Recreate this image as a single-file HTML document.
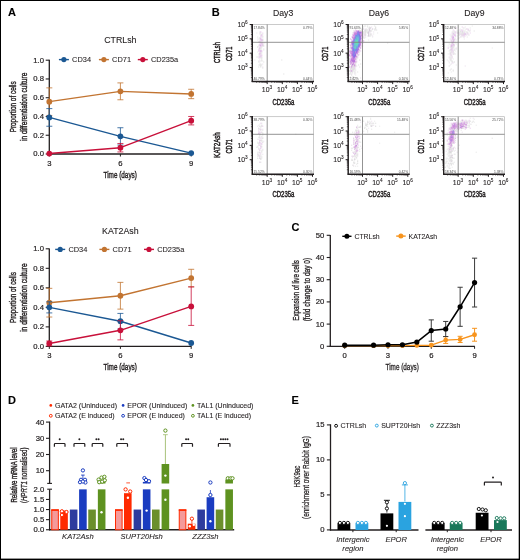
<!DOCTYPE html>
<html><head><meta charset="utf-8"><style>
html,body{margin:0;padding:0;background:#fff;}
body{width:520px;height:560px;overflow:hidden;}
svg{display:block;font-family:"Liberation Sans", sans-serif;will-change:transform;}
</style></head><body>
<svg width="520" height="560" viewBox="0 0 520 560" font-family="Liberation Sans, sans-serif">
<defs><filter id="soft" x="-5%" y="-5%" width="110%" height="110%"><feGaussianBlur stdDeviation="0.35"/></filter></defs>
<rect width="520" height="560" fill="#fff"/>
<rect x="0.00" y="0.00" width="520.00" height="1.00" fill="#000"/>
<rect x="0.00" y="0.00" width="1.00" height="560.00" fill="#000"/>
<rect x="518.70" y="0.00" width="1.30" height="560.00" fill="#000"/>
<rect x="0.00" y="558.60" width="520.00" height="1.40" fill="#000"/>
<text transform="translate(8.00,15.80)" font-size="11" text-anchor="start" fill="#000" font-weight="bold" stroke="#000" stroke-width="0.1">A</text>
<text transform="translate(211.80,15.90)" font-size="11" text-anchor="start" fill="#000" font-weight="bold" stroke="#000" stroke-width="0.1">B</text>
<text transform="translate(291.60,230.70)" font-size="11" text-anchor="start" fill="#000" font-weight="bold" stroke="#000" stroke-width="0.1">C</text>
<text transform="translate(7.90,403.70)" font-size="11" text-anchor="start" fill="#000" font-weight="bold" stroke="#000" stroke-width="0.1">D</text>
<text transform="translate(291.40,403.60)" font-size="11" text-anchor="start" fill="#000" font-weight="bold" stroke="#000" stroke-width="0.1">E</text>
<text transform="translate(120.30,43.00)" font-size="8.8" text-anchor="middle" fill="#231f20" stroke="#231f20" stroke-width="0.1">CTRLsh</text>
<line x1="49.30" y1="59.80" x2="49.30" y2="154.60" stroke="#231f20" stroke-width="1.3"/>
<line x1="48.70" y1="154.00" x2="191.50" y2="154.00" stroke="#231f20" stroke-width="1.3"/>
<line x1="45.70" y1="154.00" x2="49.30" y2="154.00" stroke="#231f20" stroke-width="1.1"/>
<text transform="translate(44.00,156.40)" font-size="7.7" text-anchor="end" fill="#231f20" stroke="#231f20" stroke-width="0.2">0.0</text>
<line x1="45.70" y1="135.24" x2="49.30" y2="135.24" stroke="#231f20" stroke-width="1.1"/>
<text transform="translate(44.00,137.64)" font-size="7.7" text-anchor="end" fill="#231f20" stroke="#231f20" stroke-width="0.2">0.2</text>
<line x1="45.70" y1="116.48" x2="49.30" y2="116.48" stroke="#231f20" stroke-width="1.1"/>
<text transform="translate(44.00,118.88)" font-size="7.7" text-anchor="end" fill="#231f20" stroke="#231f20" stroke-width="0.2">0.4</text>
<line x1="45.70" y1="97.72" x2="49.30" y2="97.72" stroke="#231f20" stroke-width="1.1"/>
<text transform="translate(44.00,100.12)" font-size="7.7" text-anchor="end" fill="#231f20" stroke="#231f20" stroke-width="0.2">0.6</text>
<line x1="45.70" y1="78.96" x2="49.30" y2="78.96" stroke="#231f20" stroke-width="1.1"/>
<text transform="translate(44.00,81.36)" font-size="7.7" text-anchor="end" fill="#231f20" stroke="#231f20" stroke-width="0.2">0.8</text>
<line x1="45.70" y1="60.20" x2="49.30" y2="60.20" stroke="#231f20" stroke-width="1.1"/>
<text transform="translate(44.00,62.60)" font-size="7.7" text-anchor="end" fill="#231f20" stroke="#231f20" stroke-width="0.2">1.0</text>
<line x1="49.30" y1="154.00" x2="49.30" y2="156.50" stroke="#231f20" stroke-width="1.0"/>
<text transform="translate(49.30,165.90)" font-size="7.7" text-anchor="middle" fill="#231f20" stroke="#231f20" stroke-width="0.2">3</text>
<line x1="120.40" y1="154.00" x2="120.40" y2="156.50" stroke="#231f20" stroke-width="1.0"/>
<text transform="translate(120.40,165.90)" font-size="7.7" text-anchor="middle" fill="#231f20" stroke="#231f20" stroke-width="0.2">6</text>
<line x1="191.20" y1="154.00" x2="191.20" y2="156.50" stroke="#231f20" stroke-width="1.0"/>
<text transform="translate(191.20,165.90)" font-size="7.7" text-anchor="middle" fill="#231f20" stroke="#231f20" stroke-width="0.2">9</text>
<text transform="translate(120.20,177.70)" font-size="9.4" text-anchor="middle" fill="#231f20" stroke="#231f20" stroke-width="0.4" textLength="33.40" lengthAdjust="spacingAndGlyphs">Time (days)</text>
<text transform="translate(16.10,106.80) rotate(-90)" font-size="9.4" text-anchor="middle" fill="#231f20" stroke="#231f20" stroke-width="0.4" textLength="51.00" lengthAdjust="spacingAndGlyphs">Proportion of cells</text>
<text transform="translate(26.90,106.80) rotate(-90)" font-size="9.4" text-anchor="middle" fill="#231f20" stroke="#231f20" stroke-width="0.4" textLength="68.50" lengthAdjust="spacingAndGlyphs">in differentiation culture</text>
<line x1="58.90" y1="59.60" x2="68.90" y2="59.60" stroke="#1b5893" stroke-width="1.4"/>
<circle cx="63.90" cy="59.60" r="2.6" fill="#1b5893"/>
<text transform="translate(72.10,62.20)" font-size="7.4" text-anchor="start" fill="#231f20" stroke="#231f20" stroke-width="0.08">CD34</text>
<line x1="98.90" y1="59.60" x2="108.90" y2="59.60" stroke="#c27431" stroke-width="1.4"/>
<circle cx="103.90" cy="59.60" r="2.6" fill="#c27431"/>
<text transform="translate(112.10,62.20)" font-size="7.4" text-anchor="start" fill="#231f20" stroke="#231f20" stroke-width="0.08">CD71</text>
<line x1="137.80" y1="59.60" x2="147.80" y2="59.60" stroke="#c8103a" stroke-width="1.4"/>
<circle cx="142.80" cy="59.60" r="2.6" fill="#c8103a"/>
<text transform="translate(151.00,62.20)" font-size="7.4" text-anchor="start" fill="#231f20" stroke="#231f20" stroke-width="0.08">CD235a</text>
<line x1="49.30" y1="87.87" x2="49.30" y2="115.45" stroke="#c27431" stroke-width="1.0" stroke-opacity="0.8"/>
<line x1="46.30" y1="87.87" x2="52.30" y2="87.87" stroke="#c27431" stroke-width="1.0" stroke-opacity="0.8"/>
<line x1="46.30" y1="115.45" x2="52.30" y2="115.45" stroke="#c27431" stroke-width="1.0" stroke-opacity="0.8"/>
<line x1="120.40" y1="82.90" x2="120.40" y2="99.78" stroke="#c27431" stroke-width="1.0" stroke-opacity="0.8"/>
<line x1="117.40" y1="82.90" x2="123.40" y2="82.90" stroke="#c27431" stroke-width="1.0" stroke-opacity="0.8"/>
<line x1="117.40" y1="99.78" x2="123.40" y2="99.78" stroke="#c27431" stroke-width="1.0" stroke-opacity="0.8"/>
<line x1="191.20" y1="89.28" x2="191.20" y2="98.66" stroke="#c27431" stroke-width="1.0" stroke-opacity="0.8"/>
<line x1="188.20" y1="89.28" x2="194.20" y2="89.28" stroke="#c27431" stroke-width="1.0" stroke-opacity="0.8"/>
<line x1="188.20" y1="98.66" x2="194.20" y2="98.66" stroke="#c27431" stroke-width="1.0" stroke-opacity="0.8"/>
<polyline points="49.30,101.66 120.40,91.34 191.20,93.97" fill="none" stroke="#c27431" stroke-width="1.4" stroke-linejoin="round"/>
<circle cx="49.30" cy="101.66" r="2.9" fill="#c27431"/>
<circle cx="120.40" cy="91.34" r="2.9" fill="#c27431"/>
<circle cx="191.20" cy="93.97" r="2.9" fill="#c27431"/>
<line x1="49.30" y1="108.60" x2="49.30" y2="126.24" stroke="#1b5893" stroke-width="1.0" stroke-opacity="0.8"/>
<line x1="46.30" y1="108.60" x2="52.30" y2="108.60" stroke="#1b5893" stroke-width="1.0" stroke-opacity="0.8"/>
<line x1="46.30" y1="126.24" x2="52.30" y2="126.24" stroke="#1b5893" stroke-width="1.0" stroke-opacity="0.8"/>
<line x1="120.40" y1="127.74" x2="120.40" y2="145.00" stroke="#1b5893" stroke-width="1.0" stroke-opacity="0.8"/>
<line x1="117.40" y1="127.74" x2="123.40" y2="127.74" stroke="#1b5893" stroke-width="1.0" stroke-opacity="0.8"/>
<line x1="117.40" y1="145.00" x2="123.40" y2="145.00" stroke="#1b5893" stroke-width="1.0" stroke-opacity="0.8"/>
<polyline points="49.30,117.42 120.40,136.37 191.20,153.06" fill="none" stroke="#1b5893" stroke-width="1.4" stroke-linejoin="round"/>
<circle cx="49.30" cy="117.42" r="2.9" fill="#1b5893"/>
<circle cx="120.40" cy="136.37" r="2.9" fill="#1b5893"/>
<circle cx="191.20" cy="153.06" r="2.9" fill="#1b5893"/>
<line x1="120.40" y1="143.49" x2="120.40" y2="151.94" stroke="#c8103a" stroke-width="1.0" stroke-opacity="0.8"/>
<line x1="117.40" y1="143.49" x2="123.40" y2="143.49" stroke="#c8103a" stroke-width="1.0" stroke-opacity="0.8"/>
<line x1="117.40" y1="151.94" x2="123.40" y2="151.94" stroke="#c8103a" stroke-width="1.0" stroke-opacity="0.8"/>
<line x1="191.20" y1="116.48" x2="191.20" y2="124.92" stroke="#c8103a" stroke-width="1.0" stroke-opacity="0.8"/>
<line x1="188.20" y1="116.48" x2="194.20" y2="116.48" stroke="#c8103a" stroke-width="1.0" stroke-opacity="0.8"/>
<line x1="188.20" y1="124.92" x2="194.20" y2="124.92" stroke="#c8103a" stroke-width="1.0" stroke-opacity="0.8"/>
<polyline points="49.30,153.53 120.40,147.72 191.20,120.70" fill="none" stroke="#c8103a" stroke-width="1.4" stroke-linejoin="round"/>
<circle cx="49.30" cy="153.53" r="2.9" fill="#c8103a"/>
<circle cx="120.40" cy="147.72" r="2.9" fill="#c8103a"/>
<circle cx="191.20" cy="120.70" r="2.9" fill="#c8103a"/>
<text transform="translate(120.30,233.50)" font-size="8.8" text-anchor="middle" fill="#231f20" stroke="#231f20" stroke-width="0.1">KAT2Ash</text>
<line x1="49.30" y1="248.40" x2="49.30" y2="347.00" stroke="#231f20" stroke-width="1.3"/>
<line x1="48.70" y1="346.40" x2="191.50" y2="346.40" stroke="#231f20" stroke-width="1.3"/>
<line x1="45.70" y1="346.40" x2="49.30" y2="346.40" stroke="#231f20" stroke-width="1.1"/>
<text transform="translate(44.00,348.80)" font-size="7.7" text-anchor="end" fill="#231f20" stroke="#231f20" stroke-width="0.2">0.0</text>
<line x1="45.70" y1="326.88" x2="49.30" y2="326.88" stroke="#231f20" stroke-width="1.1"/>
<text transform="translate(44.00,329.28)" font-size="7.7" text-anchor="end" fill="#231f20" stroke="#231f20" stroke-width="0.2">0.2</text>
<line x1="45.70" y1="307.36" x2="49.30" y2="307.36" stroke="#231f20" stroke-width="1.1"/>
<text transform="translate(44.00,309.76)" font-size="7.7" text-anchor="end" fill="#231f20" stroke="#231f20" stroke-width="0.2">0.4</text>
<line x1="45.70" y1="287.84" x2="49.30" y2="287.84" stroke="#231f20" stroke-width="1.1"/>
<text transform="translate(44.00,290.24)" font-size="7.7" text-anchor="end" fill="#231f20" stroke="#231f20" stroke-width="0.2">0.6</text>
<line x1="45.70" y1="268.32" x2="49.30" y2="268.32" stroke="#231f20" stroke-width="1.1"/>
<text transform="translate(44.00,270.72)" font-size="7.7" text-anchor="end" fill="#231f20" stroke="#231f20" stroke-width="0.2">0.8</text>
<line x1="45.70" y1="248.80" x2="49.30" y2="248.80" stroke="#231f20" stroke-width="1.1"/>
<text transform="translate(44.00,251.20)" font-size="7.7" text-anchor="end" fill="#231f20" stroke="#231f20" stroke-width="0.2">1.0</text>
<line x1="49.30" y1="346.40" x2="49.30" y2="348.90" stroke="#231f20" stroke-width="1.0"/>
<text transform="translate(49.30,358.30)" font-size="7.7" text-anchor="middle" fill="#231f20" stroke="#231f20" stroke-width="0.2">3</text>
<line x1="120.40" y1="346.40" x2="120.40" y2="348.90" stroke="#231f20" stroke-width="1.0"/>
<text transform="translate(120.40,358.30)" font-size="7.7" text-anchor="middle" fill="#231f20" stroke="#231f20" stroke-width="0.2">6</text>
<line x1="191.20" y1="346.40" x2="191.20" y2="348.90" stroke="#231f20" stroke-width="1.0"/>
<text transform="translate(191.20,358.30)" font-size="7.7" text-anchor="middle" fill="#231f20" stroke="#231f20" stroke-width="0.2">9</text>
<text transform="translate(120.20,370.10)" font-size="9.4" text-anchor="middle" fill="#231f20" stroke="#231f20" stroke-width="0.4" textLength="33.40" lengthAdjust="spacingAndGlyphs">Time (days)</text>
<text transform="translate(16.10,297.60) rotate(-90)" font-size="9.4" text-anchor="middle" fill="#231f20" stroke="#231f20" stroke-width="0.4" textLength="51.00" lengthAdjust="spacingAndGlyphs">Proportion of cells</text>
<text transform="translate(26.90,297.60) rotate(-90)" font-size="9.4" text-anchor="middle" fill="#231f20" stroke="#231f20" stroke-width="0.4" textLength="68.50" lengthAdjust="spacingAndGlyphs">in differentiation culture</text>
<line x1="55.20" y1="249.40" x2="65.20" y2="249.40" stroke="#1b5893" stroke-width="1.4"/>
<circle cx="60.20" cy="249.40" r="2.6" fill="#1b5893"/>
<text transform="translate(68.40,252.00)" font-size="7.4" text-anchor="start" fill="#231f20" stroke="#231f20" stroke-width="0.08">CD34</text>
<line x1="99.40" y1="249.40" x2="109.40" y2="249.40" stroke="#c27431" stroke-width="1.4"/>
<circle cx="104.40" cy="249.40" r="2.6" fill="#c27431"/>
<text transform="translate(112.60,252.00)" font-size="7.4" text-anchor="start" fill="#231f20" stroke="#231f20" stroke-width="0.08">CD71</text>
<line x1="144.00" y1="249.40" x2="154.00" y2="249.40" stroke="#c8103a" stroke-width="1.4"/>
<circle cx="149.00" cy="249.40" r="2.6" fill="#c8103a"/>
<text transform="translate(157.20,252.00)" font-size="7.4" text-anchor="start" fill="#231f20" stroke="#231f20" stroke-width="0.08">CD235a</text>
<line x1="49.30" y1="288.33" x2="49.30" y2="317.02" stroke="#c27431" stroke-width="1.0" stroke-opacity="0.8"/>
<line x1="46.30" y1="288.33" x2="52.30" y2="288.33" stroke="#c27431" stroke-width="1.0" stroke-opacity="0.8"/>
<line x1="46.30" y1="317.02" x2="52.30" y2="317.02" stroke="#c27431" stroke-width="1.0" stroke-opacity="0.8"/>
<line x1="120.40" y1="282.37" x2="120.40" y2="309.12" stroke="#c27431" stroke-width="1.0" stroke-opacity="0.8"/>
<line x1="117.40" y1="282.37" x2="123.40" y2="282.37" stroke="#c27431" stroke-width="1.0" stroke-opacity="0.8"/>
<line x1="117.40" y1="309.12" x2="123.40" y2="309.12" stroke="#c27431" stroke-width="1.0" stroke-opacity="0.8"/>
<line x1="191.20" y1="269.30" x2="191.20" y2="286.86" stroke="#c27431" stroke-width="1.0" stroke-opacity="0.8"/>
<line x1="188.20" y1="269.30" x2="194.20" y2="269.30" stroke="#c27431" stroke-width="1.0" stroke-opacity="0.8"/>
<line x1="188.20" y1="286.86" x2="194.20" y2="286.86" stroke="#c27431" stroke-width="1.0" stroke-opacity="0.8"/>
<polyline points="49.30,302.68 120.40,295.75 191.20,278.08" fill="none" stroke="#c27431" stroke-width="1.4" stroke-linejoin="round"/>
<circle cx="49.30" cy="302.68" r="2.9" fill="#c27431"/>
<circle cx="120.40" cy="295.75" r="2.9" fill="#c27431"/>
<circle cx="191.20" cy="278.08" r="2.9" fill="#c27431"/>
<line x1="49.30" y1="301.80" x2="49.30" y2="312.92" stroke="#1b5893" stroke-width="1.0" stroke-opacity="0.8"/>
<line x1="46.30" y1="301.80" x2="52.30" y2="301.80" stroke="#1b5893" stroke-width="1.0" stroke-opacity="0.8"/>
<line x1="46.30" y1="312.92" x2="52.30" y2="312.92" stroke="#1b5893" stroke-width="1.0" stroke-opacity="0.8"/>
<line x1="120.40" y1="313.41" x2="120.40" y2="329.03" stroke="#1b5893" stroke-width="1.0" stroke-opacity="0.8"/>
<line x1="117.40" y1="313.41" x2="123.40" y2="313.41" stroke="#1b5893" stroke-width="1.0" stroke-opacity="0.8"/>
<line x1="117.40" y1="329.03" x2="123.40" y2="329.03" stroke="#1b5893" stroke-width="1.0" stroke-opacity="0.8"/>
<polyline points="49.30,307.36 120.40,321.22 191.20,342.98" fill="none" stroke="#1b5893" stroke-width="1.4" stroke-linejoin="round"/>
<circle cx="49.30" cy="307.36" r="2.9" fill="#1b5893"/>
<circle cx="120.40" cy="321.22" r="2.9" fill="#1b5893"/>
<circle cx="191.20" cy="342.98" r="2.9" fill="#1b5893"/>
<line x1="49.30" y1="341.03" x2="49.30" y2="345.91" stroke="#c8103a" stroke-width="1.0" stroke-opacity="0.8"/>
<line x1="46.30" y1="341.03" x2="52.30" y2="341.03" stroke="#c8103a" stroke-width="1.0" stroke-opacity="0.8"/>
<line x1="46.30" y1="345.91" x2="52.30" y2="345.91" stroke="#c8103a" stroke-width="1.0" stroke-opacity="0.8"/>
<line x1="120.40" y1="320.73" x2="120.40" y2="339.86" stroke="#c8103a" stroke-width="1.0" stroke-opacity="0.8"/>
<line x1="117.40" y1="320.73" x2="123.40" y2="320.73" stroke="#c8103a" stroke-width="1.0" stroke-opacity="0.8"/>
<line x1="117.40" y1="339.86" x2="123.40" y2="339.86" stroke="#c8103a" stroke-width="1.0" stroke-opacity="0.8"/>
<line x1="191.20" y1="286.86" x2="191.20" y2="325.42" stroke="#c8103a" stroke-width="1.0" stroke-opacity="0.8"/>
<line x1="188.20" y1="286.86" x2="194.20" y2="286.86" stroke="#c8103a" stroke-width="1.0" stroke-opacity="0.8"/>
<line x1="188.20" y1="325.42" x2="194.20" y2="325.42" stroke="#c8103a" stroke-width="1.0" stroke-opacity="0.8"/>
<polyline points="49.30,343.47 120.40,330.30 191.20,306.38" fill="none" stroke="#c8103a" stroke-width="1.4" stroke-linejoin="round"/>
<circle cx="49.30" cy="343.47" r="2.9" fill="#c8103a"/>
<circle cx="120.40" cy="330.30" r="2.9" fill="#c8103a"/>
<circle cx="191.20" cy="306.38" r="2.9" fill="#c8103a"/>
<g filter="url(#soft)"><rect x="262.3" y="63.5" width="1" height="1" fill="#e8dcea"/><rect x="264.3" y="42.5" width="1" height="1" fill="#e6e6e6"/><rect x="259.3" y="48.5" width="1" height="1" fill="#d0d0d0"/><rect x="260.3" y="39.5" width="1" height="1" fill="#e8dcea"/><rect x="258.3" y="53.5" width="1" height="1" fill="#dcdcdc"/><rect x="262.3" y="39.5" width="1" height="1" fill="#c4b4c8"/><rect x="257.3" y="39.5" width="1" height="1" fill="#e8dcea"/><rect x="260.3" y="64.5" width="1" height="1" fill="#e6e6e6"/><rect x="260.3" y="52.5" width="1" height="1" fill="#c4b4c8"/><rect x="262.3" y="45.5" width="1" height="1" fill="#d0d0d0"/><rect x="258.3" y="41.5" width="1" height="1" fill="#e2e2e2"/><rect x="260.3" y="57.5" width="1" height="1" fill="#e6e6e6"/><rect x="260.3" y="47.5" width="1" height="1" fill="#d0d0d0"/><rect x="261.3" y="54.5" width="1" height="1" fill="#e6e6e6"/><rect x="262.3" y="40.5" width="1" height="1" fill="#dcdcdc"/><rect x="262.3" y="36.5" width="1" height="1" fill="#d0d0d0"/><rect x="263.3" y="61.5" width="1" height="1" fill="#dcdcdc"/><rect x="261.3" y="46.5" width="1" height="1" fill="#e6e6e6"/><rect x="260.3" y="41.5" width="1" height="1" fill="#d0d0d0"/><rect x="259.3" y="64.5" width="1" height="1" fill="#e6e6e6"/><rect x="261.3" y="48.5" width="1" height="1" fill="#e6e6e6"/><rect x="262.3" y="44.5" width="1" height="1" fill="#d0d0d0"/><rect x="262.3" y="33.5" width="1" height="1" fill="#dcdcdc"/><rect x="259.3" y="31.5" width="1" height="1" fill="#e6e6e6"/><rect x="260.3" y="54.5" width="1" height="1" fill="#dcdcdc"/><rect x="259.3" y="41.5" width="1" height="1" fill="#dcdcdc"/><rect x="262.3" y="60.5" width="1" height="1" fill="#e6e6e6"/><rect x="259.3" y="37.5" width="1" height="1" fill="#dcdcdc"/><rect x="262.3" y="67.5" width="1" height="1" fill="#dcdcdc"/><rect x="260.3" y="63.5" width="1" height="1" fill="#dcdcdc"/><rect x="261.3" y="44.5" width="1" height="1" fill="#e6e6e6"/><rect x="263.3" y="45.5" width="1" height="1" fill="#d0d0d0"/><rect x="256.3" y="56.5" width="1" height="1" fill="#e6e6e6"/><rect x="261.3" y="57.5" width="1" height="1" fill="#dcdcdc"/><rect x="259.3" y="62.5" width="1" height="1" fill="#e2e2e2"/><rect x="261.3" y="42.5" width="1" height="1" fill="#d0d0d0"/><rect x="260.3" y="50.5" width="1" height="1" fill="#d0d0d0"/><rect x="260.3" y="45.5" width="1" height="1" fill="#e8dcea"/><rect x="262.3" y="42.5" width="1" height="1" fill="#e2e2e2"/><rect x="259.3" y="54.5" width="1" height="1" fill="#dcdcdc"/><rect x="259.3" y="47.5" width="1" height="1" fill="#e2e2e2"/><rect x="259.3" y="32.5" width="1" height="1" fill="#e8dcea"/><rect x="259.3" y="44.5" width="1" height="1" fill="#e6e6e6"/><rect x="260.3" y="48.5" width="1" height="1" fill="#e6e6e6"/><rect x="260.3" y="66.5" width="1" height="1" fill="#dcdcdc"/><rect x="261.3" y="59.5" width="1" height="1" fill="#d0d0d0"/><rect x="259.3" y="45.5" width="1" height="1" fill="#e6e6e6"/><rect x="262.3" y="66.5" width="1" height="1" fill="#e8dcea"/><rect x="257.3" y="56.5" width="1" height="1" fill="#e2e2e2"/><rect x="260.3" y="65.5" width="1" height="1" fill="#d0d0d0"/><rect x="261.3" y="34.5" width="1" height="1" fill="#e8dcea"/><rect x="261.3" y="64.5" width="1" height="1" fill="#dcdcdc"/><rect x="260.3" y="44.5" width="1" height="1" fill="#e8dcea"/><rect x="257.3" y="46.5" width="1" height="1" fill="#dcdcdc"/><rect x="258.3" y="64.5" width="1" height="1" fill="#e6e6e6"/><rect x="258.3" y="60.5" width="1" height="1" fill="#e2e2e2"/><rect x="260.3" y="38.5" width="1" height="1" fill="#e8dcea"/><rect x="258.3" y="56.5" width="1" height="1" fill="#e6e6e6"/><rect x="260.3" y="56.5" width="1" height="1" fill="#e8dcea"/><rect x="259.3" y="53.5" width="1" height="1" fill="#e2e2e2"/><rect x="261.3" y="45.5" width="1" height="1" fill="#e8dcea"/><rect x="259.3" y="38.5" width="1" height="1" fill="#e2e2e2"/><rect x="258.3" y="66.5" width="1" height="1" fill="#dcdcdc"/><rect x="258.3" y="61.5" width="1" height="1" fill="#dcdcdc"/><rect x="259.3" y="49.5" width="1" height="1" fill="#e8dcea"/><rect x="261.3" y="36.5" width="1" height="1" fill="#e8dcea"/><rect x="259.3" y="40.5" width="1" height="1" fill="#e2e2e2"/><rect x="260.3" y="42.5" width="1" height="1" fill="#e8dcea"/><rect x="258.3" y="55.5" width="1" height="1" fill="#e8dcea"/><rect x="261.3" y="60.5" width="1" height="1" fill="#e6e6e6"/><rect x="261.3" y="56.5" width="1" height="1" fill="#e8dcea"/><rect x="263.3" y="48.5" width="1" height="1" fill="#e2e2e2"/><rect x="257.3" y="37.5" width="1" height="1" fill="#e6e6e6"/><rect x="254.3" y="59.5" width="1" height="1" fill="#e8dcea"/><rect x="260.3" y="55.5" width="1" height="1" fill="#e8dcea"/><rect x="283.3" y="73.5" width="1" height="1" fill="#dcdcdc"/><rect x="281.3" y="59.5" width="1" height="1" fill="#dcdcdc"/></g>
<g filter="url(#soft)"><rect x="260.3" y="35.5" width="1" height="1" fill="#dcaae4"/><rect x="260.3" y="52.5" width="1" height="1" fill="#e8e8e8"/><rect x="260.3" y="34.5" width="1" height="1" fill="#e8e8e8"/><rect x="259.3" y="48.5" width="1" height="1" fill="#dedede"/><rect x="262.3" y="35.5" width="1" height="1" fill="#e4e4e4"/><rect x="259.3" y="50.5" width="1" height="1" fill="#dcaae4"/><rect x="259.3" y="56.5" width="1" height="1" fill="#cc88dc"/><rect x="260.3" y="44.5" width="1" height="1" fill="#dcaae4"/><rect x="260.3" y="64.5" width="1" height="1" fill="#dedede"/><rect x="262.3" y="38.5" width="1" height="1" fill="#dedede"/><rect x="260.3" y="45.5" width="1" height="1" fill="#cc88dc"/><rect x="260.3" y="42.5" width="1" height="1" fill="#dcaae4"/><rect x="259.3" y="47.5" width="1" height="1" fill="#dcaae4"/><rect x="260.3" y="53.5" width="1" height="1" fill="#ecd0ee"/><rect x="260.3" y="31.5" width="1" height="1" fill="#dcaae4"/><rect x="261.3" y="34.5" width="1" height="1" fill="#dcaae4"/><rect x="260.3" y="33.5" width="1" height="1" fill="#e4e4e4"/><rect x="260.3" y="38.5" width="1" height="1" fill="#cc88dc"/><rect x="259.3" y="44.5" width="1" height="1" fill="#cc88dc"/><rect x="260.3" y="50.5" width="1" height="1" fill="#b860d4"/><rect x="260.3" y="47.5" width="1" height="1" fill="#dedede"/><rect x="260.3" y="37.5" width="1" height="1" fill="#dcaae4"/><rect x="258.3" y="38.5" width="1" height="1" fill="#e8e8e8"/><rect x="259.3" y="41.5" width="1" height="1" fill="#dcaae4"/><rect x="259.3" y="40.5" width="1" height="1" fill="#e4e4e4"/><rect x="260.3" y="49.5" width="1" height="1" fill="#e8e8e8"/><rect x="259.3" y="38.5" width="1" height="1" fill="#e8e8e8"/><rect x="258.3" y="48.5" width="1" height="1" fill="#e8c8ea"/><rect x="260.3" y="48.5" width="1" height="1" fill="#e8e8e8"/><rect x="260.3" y="46.5" width="1" height="1" fill="#ecd0ee"/><rect x="261.3" y="40.5" width="1" height="1" fill="#e8c8ea"/><rect x="259.3" y="53.5" width="1" height="1" fill="#dcaae4"/><rect x="258.3" y="50.5" width="1" height="1" fill="#dcaae4"/><rect x="261.3" y="42.5" width="1" height="1" fill="#e8c8ea"/><rect x="259.3" y="60.5" width="1" height="1" fill="#ecd0ee"/><rect x="259.3" y="52.5" width="1" height="1" fill="#dcaae4"/><rect x="257.3" y="36.5" width="1" height="1" fill="#e8e8e8"/><rect x="259.3" y="58.5" width="1" height="1" fill="#dedede"/><rect x="261.3" y="55.5" width="1" height="1" fill="#e8c8ea"/><rect x="259.3" y="51.5" width="1" height="1" fill="#dedede"/><rect x="262.3" y="42.5" width="1" height="1" fill="#dcaae4"/><rect x="258.3" y="49.5" width="1" height="1" fill="#e8c8ea"/><rect x="257.3" y="51.5" width="1" height="1" fill="#e4e4e4"/><rect x="261.3" y="52.5" width="1" height="1" fill="#dedede"/><rect x="260.3" y="41.5" width="1" height="1" fill="#e8c8ea"/><rect x="259.3" y="64.5" width="1" height="1" fill="#dedede"/><rect x="258.3" y="45.5" width="1" height="1" fill="#ecd0ee"/><rect x="258.3" y="44.5" width="1" height="1" fill="#e8e8e8"/><rect x="261.3" y="39.5" width="1" height="1" fill="#cc88dc"/><rect x="260.3" y="40.5" width="1" height="1" fill="#ecd0ee"/><rect x="259.3" y="42.5" width="1" height="1" fill="#e8c8ea"/><rect x="260.3" y="51.5" width="1" height="1" fill="#ecd0ee"/><rect x="262.3" y="43.5" width="1" height="1" fill="#e4e4e4"/><rect x="258.3" y="57.5" width="1" height="1" fill="#ecd0ee"/><rect x="261.3" y="43.5" width="1" height="1" fill="#dcaae4"/><rect x="257.3" y="46.5" width="1" height="1" fill="#dedede"/><rect x="261.3" y="46.5" width="1" height="1" fill="#dedede"/><rect x="260.3" y="55.5" width="1" height="1" fill="#dcaae4"/><rect x="260.3" y="32.5" width="1" height="1" fill="#e4e4e4"/><rect x="256.3" y="32.5" width="1" height="1" fill="#e4e4e4"/><rect x="263.3" y="43.5" width="1" height="1" fill="#e8e8e8"/><rect x="262.3" y="44.5" width="1" height="1" fill="#dcaae4"/><rect x="263.3" y="49.5" width="1" height="1" fill="#e4e4e4"/><rect x="259.3" y="37.5" width="1" height="1" fill="#e4e4e4"/><rect x="261.3" y="57.5" width="1" height="1" fill="#dedede"/><rect x="259.3" y="33.5" width="1" height="1" fill="#e4e4e4"/><rect x="261.3" y="51.5" width="1" height="1" fill="#e4e4e4"/><rect x="261.3" y="35.5" width="1" height="1" fill="#e8c8ea"/><rect x="259.3" y="54.5" width="1" height="1" fill="#e8c8ea"/><rect x="260.3" y="60.5" width="1" height="1" fill="#e4e4e4"/><rect x="260.3" y="39.5" width="1" height="1" fill="#e8c8ea"/><rect x="262.3" y="32.5" width="1" height="1" fill="#ecd0ee"/><rect x="258.3" y="41.5" width="1" height="1" fill="#ecd0ee"/><rect x="259.3" y="46.5" width="1" height="1" fill="#ecd0ee"/><rect x="261.3" y="54.5" width="1" height="1" fill="#e8c8ea"/><rect x="261.3" y="50.5" width="1" height="1" fill="#dcaae4"/><rect x="259.3" y="55.5" width="1" height="1" fill="#e4e4e4"/></g>
<rect x="252.30" y="24.50" width="61.30" height="57.00" fill="none" stroke="#b4b4b4" stroke-width="0.7"/>
<line x1="267.20" y1="24.50" x2="267.20" y2="81.50" stroke="#808080" stroke-width="0.85"/>
<line x1="252.30" y1="42.30" x2="313.60" y2="42.30" stroke="#808080" stroke-width="0.85"/>
<line x1="252.30" y1="23.90" x2="252.30" y2="82.10" stroke="#231f20" stroke-width="1.4"/>
<line x1="251.70" y1="81.50" x2="314.00" y2="81.50" stroke="#231f20" stroke-width="1.4"/>
<line x1="249.70" y1="24.50" x2="252.30" y2="24.50" stroke="#231f20" stroke-width="1.0"/>
<text x="247.70" y="27.10" font-size="6.9" text-anchor="end" fill="#231f20" stroke="#231f20" stroke-width="0.1">10<tspan font-size="4.69" dy="-2.9">6</tspan></text>
<line x1="249.70" y1="38.83" x2="252.30" y2="38.83" stroke="#231f20" stroke-width="1.0"/>
<text x="247.70" y="41.43" font-size="6.9" text-anchor="end" fill="#231f20" stroke="#231f20" stroke-width="0.1">10<tspan font-size="4.69" dy="-2.9">5</tspan></text>
<line x1="249.70" y1="53.17" x2="252.30" y2="53.17" stroke="#231f20" stroke-width="1.0"/>
<text x="247.70" y="55.77" font-size="6.9" text-anchor="end" fill="#231f20" stroke="#231f20" stroke-width="0.1">10<tspan font-size="4.69" dy="-2.9">4</tspan></text>
<line x1="249.70" y1="67.50" x2="252.30" y2="67.50" stroke="#231f20" stroke-width="1.0"/>
<text x="247.70" y="70.10" font-size="6.9" text-anchor="end" fill="#231f20" stroke="#231f20" stroke-width="0.1">10<tspan font-size="4.69" dy="-2.9">3</tspan></text>
<line x1="250.90" y1="34.52" x2="252.30" y2="34.52" stroke="#231f20" stroke-width="0.6"/>
<line x1="250.90" y1="31.99" x2="252.30" y2="31.99" stroke="#231f20" stroke-width="0.6"/>
<line x1="250.90" y1="30.20" x2="252.30" y2="30.20" stroke="#231f20" stroke-width="0.6"/>
<line x1="250.90" y1="28.81" x2="252.30" y2="28.81" stroke="#231f20" stroke-width="0.6"/>
<line x1="250.90" y1="27.68" x2="252.30" y2="27.68" stroke="#231f20" stroke-width="0.6"/>
<line x1="250.90" y1="26.72" x2="252.30" y2="26.72" stroke="#231f20" stroke-width="0.6"/>
<line x1="250.90" y1="25.89" x2="252.30" y2="25.89" stroke="#231f20" stroke-width="0.6"/>
<line x1="250.90" y1="25.16" x2="252.30" y2="25.16" stroke="#231f20" stroke-width="0.6"/>
<line x1="250.90" y1="48.85" x2="252.30" y2="48.85" stroke="#231f20" stroke-width="0.6"/>
<line x1="250.90" y1="46.33" x2="252.30" y2="46.33" stroke="#231f20" stroke-width="0.6"/>
<line x1="250.90" y1="44.54" x2="252.30" y2="44.54" stroke="#231f20" stroke-width="0.6"/>
<line x1="250.90" y1="43.15" x2="252.30" y2="43.15" stroke="#231f20" stroke-width="0.6"/>
<line x1="250.90" y1="42.01" x2="252.30" y2="42.01" stroke="#231f20" stroke-width="0.6"/>
<line x1="250.90" y1="41.05" x2="252.30" y2="41.05" stroke="#231f20" stroke-width="0.6"/>
<line x1="250.90" y1="40.22" x2="252.30" y2="40.22" stroke="#231f20" stroke-width="0.6"/>
<line x1="250.90" y1="39.49" x2="252.30" y2="39.49" stroke="#231f20" stroke-width="0.6"/>
<line x1="250.90" y1="63.19" x2="252.30" y2="63.19" stroke="#231f20" stroke-width="0.6"/>
<line x1="250.90" y1="60.66" x2="252.30" y2="60.66" stroke="#231f20" stroke-width="0.6"/>
<line x1="250.90" y1="58.87" x2="252.30" y2="58.87" stroke="#231f20" stroke-width="0.6"/>
<line x1="250.90" y1="57.48" x2="252.30" y2="57.48" stroke="#231f20" stroke-width="0.6"/>
<line x1="250.90" y1="56.35" x2="252.30" y2="56.35" stroke="#231f20" stroke-width="0.6"/>
<line x1="250.90" y1="55.39" x2="252.30" y2="55.39" stroke="#231f20" stroke-width="0.6"/>
<line x1="250.90" y1="54.56" x2="252.30" y2="54.56" stroke="#231f20" stroke-width="0.6"/>
<line x1="250.90" y1="53.82" x2="252.30" y2="53.82" stroke="#231f20" stroke-width="0.6"/>
<line x1="250.90" y1="77.52" x2="252.30" y2="77.52" stroke="#231f20" stroke-width="0.6"/>
<line x1="250.90" y1="74.99" x2="252.30" y2="74.99" stroke="#231f20" stroke-width="0.6"/>
<line x1="250.90" y1="73.20" x2="252.30" y2="73.20" stroke="#231f20" stroke-width="0.6"/>
<line x1="250.90" y1="71.81" x2="252.30" y2="71.81" stroke="#231f20" stroke-width="0.6"/>
<line x1="250.90" y1="70.68" x2="252.30" y2="70.68" stroke="#231f20" stroke-width="0.6"/>
<line x1="250.90" y1="69.72" x2="252.30" y2="69.72" stroke="#231f20" stroke-width="0.6"/>
<line x1="250.90" y1="68.89" x2="252.30" y2="68.89" stroke="#231f20" stroke-width="0.6"/>
<line x1="250.90" y1="68.16" x2="252.30" y2="68.16" stroke="#231f20" stroke-width="0.6"/>
<line x1="267.20" y1="81.50" x2="267.20" y2="84.10" stroke="#231f20" stroke-width="1.0"/>
<text x="267.00" y="91.80" font-size="6.9" text-anchor="middle" fill="#231f20" stroke="#231f20" stroke-width="0.1">10<tspan font-size="4.69" dy="-2.9">3</tspan></text>
<line x1="282.30" y1="81.50" x2="282.30" y2="84.10" stroke="#231f20" stroke-width="1.0"/>
<text x="282.10" y="91.80" font-size="6.9" text-anchor="middle" fill="#231f20" stroke="#231f20" stroke-width="0.1">10<tspan font-size="4.69" dy="-2.9">4</tspan></text>
<line x1="297.40" y1="81.50" x2="297.40" y2="84.10" stroke="#231f20" stroke-width="1.0"/>
<text x="297.20" y="91.80" font-size="6.9" text-anchor="middle" fill="#231f20" stroke="#231f20" stroke-width="0.1">10<tspan font-size="4.69" dy="-2.9">5</tspan></text>
<line x1="312.50" y1="81.50" x2="312.50" y2="84.10" stroke="#231f20" stroke-width="1.0"/>
<text x="312.30" y="91.80" font-size="6.9" text-anchor="middle" fill="#231f20" stroke="#231f20" stroke-width="0.1">10<tspan font-size="4.69" dy="-2.9">6</tspan></text>
<line x1="256.65" y1="81.50" x2="256.65" y2="82.90" stroke="#231f20" stroke-width="0.6"/>
<line x1="259.30" y1="81.50" x2="259.30" y2="82.90" stroke="#231f20" stroke-width="0.6"/>
<line x1="261.19" y1="81.50" x2="261.19" y2="82.90" stroke="#231f20" stroke-width="0.6"/>
<line x1="262.65" y1="81.50" x2="262.65" y2="82.90" stroke="#231f20" stroke-width="0.6"/>
<line x1="263.85" y1="81.50" x2="263.85" y2="82.90" stroke="#231f20" stroke-width="0.6"/>
<line x1="264.86" y1="81.50" x2="264.86" y2="82.90" stroke="#231f20" stroke-width="0.6"/>
<line x1="265.74" y1="81.50" x2="265.74" y2="82.90" stroke="#231f20" stroke-width="0.6"/>
<line x1="266.51" y1="81.50" x2="266.51" y2="82.90" stroke="#231f20" stroke-width="0.6"/>
<line x1="271.75" y1="81.50" x2="271.75" y2="82.90" stroke="#231f20" stroke-width="0.6"/>
<line x1="274.40" y1="81.50" x2="274.40" y2="82.90" stroke="#231f20" stroke-width="0.6"/>
<line x1="276.29" y1="81.50" x2="276.29" y2="82.90" stroke="#231f20" stroke-width="0.6"/>
<line x1="277.75" y1="81.50" x2="277.75" y2="82.90" stroke="#231f20" stroke-width="0.6"/>
<line x1="278.95" y1="81.50" x2="278.95" y2="82.90" stroke="#231f20" stroke-width="0.6"/>
<line x1="279.96" y1="81.50" x2="279.96" y2="82.90" stroke="#231f20" stroke-width="0.6"/>
<line x1="280.84" y1="81.50" x2="280.84" y2="82.90" stroke="#231f20" stroke-width="0.6"/>
<line x1="281.61" y1="81.50" x2="281.61" y2="82.90" stroke="#231f20" stroke-width="0.6"/>
<line x1="286.85" y1="81.50" x2="286.85" y2="82.90" stroke="#231f20" stroke-width="0.6"/>
<line x1="289.50" y1="81.50" x2="289.50" y2="82.90" stroke="#231f20" stroke-width="0.6"/>
<line x1="291.39" y1="81.50" x2="291.39" y2="82.90" stroke="#231f20" stroke-width="0.6"/>
<line x1="292.85" y1="81.50" x2="292.85" y2="82.90" stroke="#231f20" stroke-width="0.6"/>
<line x1="294.05" y1="81.50" x2="294.05" y2="82.90" stroke="#231f20" stroke-width="0.6"/>
<line x1="295.06" y1="81.50" x2="295.06" y2="82.90" stroke="#231f20" stroke-width="0.6"/>
<line x1="295.94" y1="81.50" x2="295.94" y2="82.90" stroke="#231f20" stroke-width="0.6"/>
<line x1="296.71" y1="81.50" x2="296.71" y2="82.90" stroke="#231f20" stroke-width="0.6"/>
<line x1="301.95" y1="81.50" x2="301.95" y2="82.90" stroke="#231f20" stroke-width="0.6"/>
<line x1="304.60" y1="81.50" x2="304.60" y2="82.90" stroke="#231f20" stroke-width="0.6"/>
<line x1="306.49" y1="81.50" x2="306.49" y2="82.90" stroke="#231f20" stroke-width="0.6"/>
<line x1="307.95" y1="81.50" x2="307.95" y2="82.90" stroke="#231f20" stroke-width="0.6"/>
<line x1="309.15" y1="81.50" x2="309.15" y2="82.90" stroke="#231f20" stroke-width="0.6"/>
<line x1="310.16" y1="81.50" x2="310.16" y2="82.90" stroke="#231f20" stroke-width="0.6"/>
<line x1="311.04" y1="81.50" x2="311.04" y2="82.90" stroke="#231f20" stroke-width="0.6"/>
<line x1="311.81" y1="81.50" x2="311.81" y2="82.90" stroke="#231f20" stroke-width="0.6"/>
<text transform="translate(253.50,28.50)" font-size="3.3" text-anchor="start" fill="#4a4a4a">17.84%</text>
<text transform="translate(312.40,28.50)" font-size="3.3" text-anchor="end" fill="#4a4a4a">0.79%</text>
<text transform="translate(253.50,80.00)" font-size="3.3" text-anchor="start" fill="#4a4a4a">40.79%</text>
<text transform="translate(312.40,80.00)" font-size="3.3" text-anchor="end" fill="#4a4a4a">0.44%</text>
<text transform="translate(283.45,104.70)" font-size="9.4" text-anchor="middle" fill="#231f20" stroke="#231f20" stroke-width="0.5" textLength="22.00" lengthAdjust="spacingAndGlyphs">CD235a</text>
<text transform="translate(232.30,53.80) rotate(-90)" font-size="9.4" text-anchor="middle" fill="#231f20" stroke="#231f20" stroke-width="0.5" textLength="14.40" lengthAdjust="spacingAndGlyphs">CD71</text>
<g filter="url(#soft)"><rect x="351.2" y="70.5" width="1" height="1" fill="#c4b4c8"/><rect x="352.2" y="65.5" width="1" height="1" fill="#d0d0d0"/><rect x="353.2" y="56.5" width="1" height="1" fill="#dcdcdc"/><rect x="352.2" y="54.5" width="1" height="1" fill="#d0d0d0"/><rect x="350.2" y="62.5" width="1" height="1" fill="#d0d0d0"/><rect x="351.2" y="67.5" width="1" height="1" fill="#c4b4c8"/><rect x="353.2" y="65.5" width="1" height="1" fill="#d0d0d0"/><rect x="350.2" y="71.5" width="1" height="1" fill="#d0d0d0"/><rect x="359.2" y="66.5" width="1" height="1" fill="#e2e2e2"/><rect x="350.2" y="69.5" width="1" height="1" fill="#d0d0d0"/><rect x="352.2" y="77.5" width="1" height="1" fill="#d0d0d0"/><rect x="360.2" y="77.5" width="1" height="1" fill="#e8dcea"/><rect x="354.2" y="65.5" width="1" height="1" fill="#dcdcdc"/><rect x="353.2" y="68.5" width="1" height="1" fill="#d0d0d0"/><rect x="354.2" y="64.5" width="1" height="1" fill="#d0d0d0"/><rect x="352.2" y="69.5" width="1" height="1" fill="#d0d0d0"/><rect x="352.2" y="76.5" width="1" height="1" fill="#dcdcdc"/><rect x="352.2" y="72.5" width="1" height="1" fill="#e2e2e2"/><rect x="353.2" y="67.5" width="1" height="1" fill="#e6e6e6"/><rect x="353.2" y="76.5" width="1" height="1" fill="#d0d0d0"/><rect x="355.2" y="74.5" width="1" height="1" fill="#e6e6e6"/><rect x="359.2" y="59.5" width="1" height="1" fill="#dcdcdc"/><rect x="353.2" y="60.5" width="1" height="1" fill="#d0d0d0"/><rect x="351.2" y="71.5" width="1" height="1" fill="#e2e2e2"/><rect x="349.2" y="70.5" width="1" height="1" fill="#d0d0d0"/><rect x="350.2" y="68.5" width="1" height="1" fill="#e2e2e2"/><rect x="351.2" y="74.5" width="1" height="1" fill="#d0d0d0"/><rect x="355.2" y="70.5" width="1" height="1" fill="#e6e6e6"/><rect x="350.2" y="70.5" width="1" height="1" fill="#e6e6e6"/><rect x="352.2" y="70.5" width="1" height="1" fill="#dcdcdc"/><rect x="352.2" y="66.5" width="1" height="1" fill="#d0d0d0"/><rect x="351.2" y="64.5" width="1" height="1" fill="#d0d0d0"/><rect x="355.2" y="66.5" width="1" height="1" fill="#e2e2e2"/><rect x="355.2" y="61.5" width="1" height="1" fill="#e8dcea"/><rect x="358.2" y="64.5" width="1" height="1" fill="#dcdcdc"/><rect x="354.2" y="58.5" width="1" height="1" fill="#dcdcdc"/><rect x="354.2" y="73.5" width="1" height="1" fill="#e8dcea"/><rect x="357.2" y="71.5" width="1" height="1" fill="#e2e2e2"/><rect x="354.2" y="68.5" width="1" height="1" fill="#d0d0d0"/><rect x="353.2" y="58.5" width="1" height="1" fill="#d0d0d0"/><rect x="356.2" y="61.5" width="1" height="1" fill="#d0d0d0"/><rect x="349.2" y="73.5" width="1" height="1" fill="#dcdcdc"/><rect x="353.2" y="63.5" width="1" height="1" fill="#d0d0d0"/><rect x="354.2" y="59.5" width="1" height="1" fill="#e6e6e6"/><rect x="353.2" y="66.5" width="1" height="1" fill="#d0d0d0"/><rect x="351.2" y="73.5" width="1" height="1" fill="#e8dcea"/><rect x="352.2" y="68.5" width="1" height="1" fill="#d0d0d0"/><rect x="350.2" y="73.5" width="1" height="1" fill="#e2e2e2"/><rect x="354.2" y="71.5" width="1" height="1" fill="#e8dcea"/><rect x="355.2" y="58.5" width="1" height="1" fill="#e6e6e6"/><rect x="353.2" y="59.5" width="1" height="1" fill="#e6e6e6"/><rect x="350.2" y="66.5" width="1" height="1" fill="#e8dcea"/><rect x="351.2" y="55.5" width="1" height="1" fill="#e8dcea"/><rect x="353.2" y="70.5" width="1" height="1" fill="#e2e2e2"/><rect x="352.2" y="60.5" width="1" height="1" fill="#e8dcea"/><rect x="355.2" y="64.5" width="1" height="1" fill="#dcdcdc"/><rect x="354.2" y="72.5" width="1" height="1" fill="#e6e6e6"/><rect x="351.2" y="58.5" width="1" height="1" fill="#e8dcea"/><rect x="350.2" y="72.5" width="1" height="1" fill="#e2e2e2"/><rect x="351.2" y="77.5" width="1" height="1" fill="#dcdcdc"/><rect x="356.2" y="58.5" width="1" height="1" fill="#e6e6e6"/><rect x="353.2" y="64.5" width="1" height="1" fill="#dcdcdc"/><rect x="355.2" y="69.5" width="1" height="1" fill="#e6e6e6"/><rect x="354.2" y="55.5" width="1" height="1" fill="#e8dcea"/><rect x="352.2" y="64.5" width="1" height="1" fill="#dcdcdc"/><rect x="355.2" y="72.5" width="1" height="1" fill="#e2e2e2"/><rect x="353.2" y="69.5" width="1" height="1" fill="#dcdcdc"/><rect x="350.2" y="76.5" width="1" height="1" fill="#dcdcdc"/><rect x="352.2" y="71.5" width="1" height="1" fill="#e2e2e2"/><rect x="349.2" y="66.5" width="1" height="1" fill="#e8dcea"/><rect x="351.2" y="60.5" width="1" height="1" fill="#dcdcdc"/><rect x="355.2" y="68.5" width="1" height="1" fill="#e6e6e6"/><rect x="352.2" y="63.5" width="1" height="1" fill="#e6e6e6"/><rect x="356.2" y="65.5" width="1" height="1" fill="#e2e2e2"/><rect x="352.2" y="67.5" width="1" height="1" fill="#e8dcea"/><rect x="355.2" y="62.5" width="1" height="1" fill="#e8dcea"/><rect x="355.2" y="65.5" width="1" height="1" fill="#dcdcdc"/><rect x="351.2" y="68.5" width="1" height="1" fill="#e8dcea"/><rect x="355.2" y="54.5" width="1" height="1" fill="#dcdcdc"/><rect x="387.2" y="42.5" width="1" height="1" fill="#dcdcdc"/><rect x="360.2" y="63.5" width="1" height="1" fill="#dcdcdc"/></g>
<g filter="url(#soft)"><rect x="375.2" y="28.5" width="1" height="1" fill="#dcdcdc"/><rect x="375.2" y="27.5" width="1" height="1" fill="#d0d0d0"/><rect x="368.2" y="31.5" width="1" height="1" fill="#c4b4c8"/><rect x="367.2" y="35.5" width="1" height="1" fill="#e6e6e6"/><rect x="363.2" y="26.5" width="1" height="1" fill="#dcdcdc"/><rect x="374.2" y="29.5" width="1" height="1" fill="#dcdcdc"/><rect x="360.2" y="36.5" width="1" height="1" fill="#e2e2e2"/><rect x="370.2" y="33.5" width="1" height="1" fill="#d0d0d0"/><rect x="365.2" y="34.5" width="1" height="1" fill="#c4b4c8"/><rect x="370.2" y="34.5" width="1" height="1" fill="#dcdcdc"/><rect x="369.2" y="30.5" width="1" height="1" fill="#c4b4c8"/><rect x="364.2" y="30.5" width="1" height="1" fill="#d0d0d0"/><rect x="368.2" y="34.5" width="1" height="1" fill="#c4b4c8"/><rect x="359.2" y="33.5" width="1" height="1" fill="#e2e2e2"/><rect x="368.2" y="28.5" width="1" height="1" fill="#e8dcea"/><rect x="369.2" y="28.5" width="1" height="1" fill="#c4b4c8"/><rect x="371.2" y="29.5" width="1" height="1" fill="#e6e6e6"/><rect x="359.2" y="28.5" width="1" height="1" fill="#e2e2e2"/><rect x="359.2" y="35.5" width="1" height="1" fill="#e2e2e2"/><rect x="358.2" y="30.5" width="1" height="1" fill="#e6e6e6"/><rect x="361.2" y="34.5" width="1" height="1" fill="#d0d0d0"/><rect x="361.2" y="37.5" width="1" height="1" fill="#e8dcea"/><rect x="375.2" y="29.5" width="1" height="1" fill="#e6e6e6"/><rect x="373.2" y="33.5" width="1" height="1" fill="#e6e6e6"/><rect x="366.2" y="28.5" width="1" height="1" fill="#e2e2e2"/><rect x="369.2" y="31.5" width="1" height="1" fill="#e8dcea"/><rect x="372.2" y="36.5" width="1" height="1" fill="#e6e6e6"/><rect x="365.2" y="30.5" width="1" height="1" fill="#d0d0d0"/><rect x="372.2" y="28.5" width="1" height="1" fill="#c4b4c8"/><rect x="368.2" y="33.5" width="1" height="1" fill="#c4b4c8"/><rect x="377.2" y="32.5" width="1" height="1" fill="#e6e6e6"/><rect x="367.2" y="32.5" width="1" height="1" fill="#d0d0d0"/><rect x="368.2" y="27.5" width="1" height="1" fill="#e6e6e6"/><rect x="363.2" y="31.5" width="1" height="1" fill="#d0d0d0"/><rect x="370.2" y="35.5" width="1" height="1" fill="#e2e2e2"/><rect x="369.2" y="26.5" width="1" height="1" fill="#e2e2e2"/><rect x="369.2" y="35.5" width="1" height="1" fill="#dcdcdc"/><rect x="370.2" y="30.5" width="1" height="1" fill="#d0d0d0"/><rect x="364.2" y="34.5" width="1" height="1" fill="#d0d0d0"/><rect x="359.2" y="34.5" width="1" height="1" fill="#e2e2e2"/><rect x="367.2" y="31.5" width="1" height="1" fill="#d0d0d0"/><rect x="361.2" y="31.5" width="1" height="1" fill="#e2e2e2"/><rect x="359.2" y="31.5" width="1" height="1" fill="#e2e2e2"/><rect x="364.2" y="37.5" width="1" height="1" fill="#dcdcdc"/><rect x="365.2" y="33.5" width="1" height="1" fill="#e8dcea"/><rect x="370.2" y="27.5" width="1" height="1" fill="#c4b4c8"/><rect x="363.2" y="28.5" width="1" height="1" fill="#c4b4c8"/><rect x="360.2" y="33.5" width="1" height="1" fill="#e8dcea"/><rect x="363.2" y="32.5" width="1" height="1" fill="#e2e2e2"/><rect x="363.2" y="33.5" width="1" height="1" fill="#e8dcea"/><rect x="368.2" y="35.5" width="1" height="1" fill="#c4b4c8"/><rect x="369.2" y="27.5" width="1" height="1" fill="#d0d0d0"/><rect x="363.2" y="37.5" width="1" height="1" fill="#e2e2e2"/><rect x="370.2" y="31.5" width="1" height="1" fill="#e8dcea"/><rect x="376.2" y="29.5" width="1" height="1" fill="#dcdcdc"/><rect x="362.2" y="25.5" width="1" height="1" fill="#e6e6e6"/><rect x="371.2" y="34.5" width="1" height="1" fill="#e6e6e6"/><rect x="361.2" y="29.5" width="1" height="1" fill="#d0d0d0"/><rect x="368.2" y="32.5" width="1" height="1" fill="#c4b4c8"/><rect x="365.2" y="36.5" width="1" height="1" fill="#dcdcdc"/><rect x="363.2" y="36.5" width="1" height="1" fill="#e2e2e2"/><rect x="359.2" y="30.5" width="1" height="1" fill="#d0d0d0"/><rect x="364.2" y="29.5" width="1" height="1" fill="#e8dcea"/><rect x="366.2" y="29.5" width="1" height="1" fill="#dcdcdc"/><rect x="374.2" y="25.5" width="1" height="1" fill="#e2e2e2"/><rect x="366.2" y="31.5" width="1" height="1" fill="#e6e6e6"/><rect x="365.2" y="25.5" width="1" height="1" fill="#e2e2e2"/><rect x="365.2" y="32.5" width="1" height="1" fill="#d0d0d0"/><rect x="372.2" y="35.5" width="1" height="1" fill="#e8dcea"/><rect x="364.2" y="25.5" width="1" height="1" fill="#e2e2e2"/><rect x="362.2" y="30.5" width="1" height="1" fill="#e6e6e6"/><rect x="369.2" y="33.5" width="1" height="1" fill="#e6e6e6"/><rect x="361.2" y="32.5" width="1" height="1" fill="#dcdcdc"/><rect x="364.2" y="35.5" width="1" height="1" fill="#e8dcea"/><rect x="369.2" y="29.5" width="1" height="1" fill="#c4b4c8"/><rect x="360.2" y="32.5" width="1" height="1" fill="#e8dcea"/><rect x="365.2" y="28.5" width="1" height="1" fill="#e8dcea"/><rect x="373.2" y="31.5" width="1" height="1" fill="#e8dcea"/><rect x="368.2" y="30.5" width="1" height="1" fill="#dcdcdc"/><rect x="367.2" y="25.5" width="1" height="1" fill="#dcdcdc"/><rect x="365.2" y="31.5" width="1" height="1" fill="#d0d0d0"/><rect x="371.2" y="30.5" width="1" height="1" fill="#e2e2e2"/><rect x="363.2" y="35.5" width="1" height="1" fill="#e8dcea"/><rect x="361.2" y="30.5" width="1" height="1" fill="#dcdcdc"/><rect x="360.2" y="35.5" width="1" height="1" fill="#e2e2e2"/><rect x="366.2" y="30.5" width="1" height="1" fill="#e2e2e2"/><rect x="364.2" y="31.5" width="1" height="1" fill="#e8dcea"/><rect x="362.2" y="35.5" width="1" height="1" fill="#e6e6e6"/><rect x="360.2" y="30.5" width="1" height="1" fill="#d0d0d0"/><rect x="368.2" y="39.5" width="1" height="1" fill="#e6e6e6"/><rect x="364.2" y="32.5" width="1" height="1" fill="#e2e2e2"/><rect x="360.2" y="34.5" width="1" height="1" fill="#e6e6e6"/><rect x="361.2" y="28.5" width="1" height="1" fill="#dcdcdc"/><rect x="371.2" y="33.5" width="1" height="1" fill="#e8dcea"/><rect x="375.2" y="26.5" width="1" height="1" fill="#dcdcdc"/><rect x="374.2" y="28.5" width="1" height="1" fill="#e2e2e2"/><rect x="371.2" y="26.5" width="1" height="1" fill="#e8dcea"/><rect x="365.2" y="29.5" width="1" height="1" fill="#d0d0d0"/><rect x="362.2" y="33.5" width="1" height="1" fill="#e2e2e2"/><rect x="367.2" y="29.5" width="1" height="1" fill="#dcdcdc"/><rect x="367.2" y="26.5" width="1" height="1" fill="#e2e2e2"/></g>
<g filter="url(#soft)"><rect x="357.2" y="45.5" width="1" height="1" fill="#3a88d8"/><rect x="357.2" y="43.5" width="1" height="1" fill="#30b8b8"/><rect x="356.2" y="34.5" width="1" height="1" fill="#4458e0"/><rect x="355.2" y="46.5" width="1" height="1" fill="#30b8b8"/><rect x="361.2" y="37.5" width="1" height="1" fill="#e0d8e2"/><rect x="355.2" y="45.5" width="1" height="1" fill="#30b8b8"/><rect x="358.2" y="32.5" width="1" height="1" fill="#9440d8"/><rect x="358.2" y="33.5" width="1" height="1" fill="#4458e0"/><rect x="355.2" y="43.5" width="1" height="1" fill="#30b8b8"/><rect x="358.2" y="35.5" width="1" height="1" fill="#3a88d8"/><rect x="357.2" y="39.5" width="1" height="1" fill="#30b8b8"/><rect x="354.2" y="43.5" width="1" height="1" fill="#30b8b8"/><rect x="359.2" y="53.5" width="1" height="1" fill="#e4e4e4"/><rect x="356.2" y="44.5" width="1" height="1" fill="#30b8b8"/><rect x="351.2" y="55.5" width="1" height="1" fill="#b850d0"/><rect x="357.2" y="32.5" width="1" height="1" fill="#4458e0"/><rect x="354.2" y="38.5" width="1" height="1" fill="#3a88d8"/><rect x="357.2" y="36.5" width="1" height="1" fill="#4458e0"/><rect x="356.2" y="41.5" width="1" height="1" fill="#28d890"/><rect x="360.2" y="39.5" width="1" height="1" fill="#b850d0"/><rect x="353.2" y="44.5" width="1" height="1" fill="#30b8b8"/><rect x="358.2" y="42.5" width="1" height="1" fill="#30b8b8"/><rect x="356.2" y="51.5" width="1" height="1" fill="#6040e0"/><rect x="358.2" y="38.5" width="1" height="1" fill="#30b8b8"/><rect x="358.2" y="37.5" width="1" height="1" fill="#3a88d8"/><rect x="354.2" y="53.5" width="1" height="1" fill="#9440d8"/><rect x="352.2" y="40.5" width="1" height="1" fill="#9440d8"/><rect x="359.2" y="42.5" width="1" height="1" fill="#4458e0"/><rect x="356.2" y="52.5" width="1" height="1" fill="#6040e0"/><rect x="358.2" y="43.5" width="1" height="1" fill="#3a88d8"/><rect x="357.2" y="42.5" width="1" height="1" fill="#28d890"/><rect x="355.2" y="38.5" width="1" height="1" fill="#30b8b8"/><rect x="354.2" y="48.5" width="1" height="1" fill="#3a88d8"/><rect x="359.2" y="37.5" width="1" height="1" fill="#4458e0"/><rect x="351.2" y="43.5" width="1" height="1" fill="#b850d0"/><rect x="358.2" y="40.5" width="1" height="1" fill="#4458e0"/><rect x="359.2" y="38.5" width="1" height="1" fill="#4458e0"/><rect x="354.2" y="51.5" width="1" height="1" fill="#4458e0"/><rect x="360.2" y="40.5" width="1" height="1" fill="#cc88da"/><rect x="359.2" y="35.5" width="1" height="1" fill="#4458e0"/><rect x="354.2" y="41.5" width="1" height="1" fill="#3a88d8"/><rect x="356.2" y="40.5" width="1" height="1" fill="#28d890"/><rect x="351.2" y="41.5" width="1" height="1" fill="#9440d8"/><rect x="355.2" y="50.5" width="1" height="1" fill="#3a88d8"/><rect x="356.2" y="43.5" width="1" height="1" fill="#28d890"/><rect x="359.2" y="34.5" width="1" height="1" fill="#6040e0"/><rect x="352.2" y="55.5" width="1" height="1" fill="#b850d0"/><rect x="353.2" y="45.5" width="1" height="1" fill="#4458e0"/><rect x="355.2" y="48.5" width="1" height="1" fill="#3a88d8"/><rect x="358.2" y="34.5" width="1" height="1" fill="#4458e0"/><rect x="353.2" y="39.5" width="1" height="1" fill="#6040e0"/><rect x="355.2" y="42.5" width="1" height="1" fill="#28d890"/><rect x="352.2" y="47.5" width="1" height="1" fill="#9440d8"/><rect x="355.2" y="32.5" width="1" height="1" fill="#b850d0"/><rect x="356.2" y="42.5" width="1" height="1" fill="#28d890"/><rect x="353.2" y="56.5" width="1" height="1" fill="#6040e0"/><rect x="351.2" y="53.5" width="1" height="1" fill="#9440d8"/><rect x="356.2" y="36.5" width="1" height="1" fill="#28d890"/><rect x="357.2" y="40.5" width="1" height="1" fill="#30b8b8"/><rect x="354.2" y="35.5" width="1" height="1" fill="#cc88da"/><rect x="357.2" y="41.5" width="1" height="1" fill="#28d890"/><rect x="358.2" y="41.5" width="1" height="1" fill="#4458e0"/><rect x="357.2" y="37.5" width="1" height="1" fill="#30b8b8"/><rect x="357.2" y="44.5" width="1" height="1" fill="#30b8b8"/><rect x="356.2" y="39.5" width="1" height="1" fill="#30b8b8"/><rect x="352.2" y="34.5" width="1" height="1" fill="#cc88da"/><rect x="354.2" y="37.5" width="1" height="1" fill="#9440d8"/><rect x="353.2" y="50.5" width="1" height="1" fill="#4458e0"/><rect x="356.2" y="46.5" width="1" height="1" fill="#4458e0"/><rect x="360.2" y="35.5" width="1" height="1" fill="#6040e0"/><rect x="357.2" y="38.5" width="1" height="1" fill="#30b8b8"/><rect x="349.2" y="58.5" width="1" height="1" fill="#cc88da"/><rect x="353.2" y="41.5" width="1" height="1" fill="#3a88d8"/><rect x="357.2" y="47.5" width="1" height="1" fill="#3a88d8"/><rect x="354.2" y="47.5" width="1" height="1" fill="#30b8b8"/><rect x="355.2" y="47.5" width="1" height="1" fill="#30b8b8"/><rect x="357.2" y="30.5" width="1" height="1" fill="#cc88da"/><rect x="357.2" y="34.5" width="1" height="1" fill="#4458e0"/><rect x="355.2" y="44.5" width="1" height="1" fill="#30b8b8"/><rect x="360.2" y="37.5" width="1" height="1" fill="#6040e0"/><rect x="360.2" y="43.5" width="1" height="1" fill="#b850d0"/><rect x="356.2" y="37.5" width="1" height="1" fill="#30b8b8"/><rect x="351.2" y="51.5" width="1" height="1" fill="#cc88da"/><rect x="358.2" y="36.5" width="1" height="1" fill="#3a88d8"/><rect x="352.2" y="43.5" width="1" height="1" fill="#6040e0"/><rect x="354.2" y="46.5" width="1" height="1" fill="#28d890"/><rect x="359.2" y="41.5" width="1" height="1" fill="#6040e0"/><rect x="355.2" y="41.5" width="1" height="1" fill="#30b8b8"/><rect x="355.2" y="35.5" width="1" height="1" fill="#3a88d8"/><rect x="355.2" y="40.5" width="1" height="1" fill="#28d890"/><rect x="355.2" y="55.5" width="1" height="1" fill="#9440d8"/><rect x="356.2" y="48.5" width="1" height="1" fill="#4458e0"/><rect x="354.2" y="39.5" width="1" height="1" fill="#4458e0"/><rect x="355.2" y="54.5" width="1" height="1" fill="#6040e0"/><rect x="354.2" y="42.5" width="1" height="1" fill="#30b8b8"/><rect x="358.2" y="45.5" width="1" height="1" fill="#6040e0"/><rect x="357.2" y="46.5" width="1" height="1" fill="#3a88d8"/><rect x="352.2" y="46.5" width="1" height="1" fill="#4458e0"/><rect x="354.2" y="49.5" width="1" height="1" fill="#3a88d8"/><rect x="359.2" y="32.5" width="1" height="1" fill="#9440d8"/><rect x="360.2" y="42.5" width="1" height="1" fill="#b850d0"/><rect x="353.2" y="49.5" width="1" height="1" fill="#4458e0"/><rect x="352.2" y="48.5" width="1" height="1" fill="#6040e0"/><rect x="357.2" y="35.5" width="1" height="1" fill="#3a88d8"/><rect x="356.2" y="47.5" width="1" height="1" fill="#3a88d8"/><rect x="357.2" y="49.5" width="1" height="1" fill="#4458e0"/><rect x="358.2" y="49.5" width="1" height="1" fill="#9440d8"/><rect x="362.2" y="42.5" width="1" height="1" fill="#cc88da"/><rect x="355.2" y="39.5" width="1" height="1" fill="#30b8b8"/><rect x="353.2" y="43.5" width="1" height="1" fill="#4458e0"/><rect x="352.2" y="37.5" width="1" height="1" fill="#b850d0"/><rect x="360.2" y="31.5" width="1" height="1" fill="#b850d0"/><rect x="352.2" y="42.5" width="1" height="1" fill="#6040e0"/><rect x="354.2" y="44.5" width="1" height="1" fill="#30b8b8"/><rect x="353.2" y="60.5" width="1" height="1" fill="#9440d8"/><rect x="356.2" y="45.5" width="1" height="1" fill="#30b8b8"/><rect x="353.2" y="46.5" width="1" height="1" fill="#3a88d8"/><rect x="361.2" y="38.5" width="1" height="1" fill="#cc88da"/><rect x="353.2" y="53.5" width="1" height="1" fill="#4458e0"/><rect x="351.2" y="48.5" width="1" height="1" fill="#b850d0"/><rect x="357.2" y="33.5" width="1" height="1" fill="#4458e0"/><rect x="355.2" y="36.5" width="1" height="1" fill="#4458e0"/><rect x="354.2" y="45.5" width="1" height="1" fill="#3a88d8"/><rect x="355.2" y="34.5" width="1" height="1" fill="#4458e0"/><rect x="350.2" y="38.5" width="1" height="1" fill="#cc88da"/><rect x="358.2" y="39.5" width="1" height="1" fill="#3a88d8"/><rect x="357.2" y="48.5" width="1" height="1" fill="#9440d8"/><rect x="354.2" y="36.5" width="1" height="1" fill="#9440d8"/><rect x="353.2" y="47.5" width="1" height="1" fill="#3a88d8"/><rect x="356.2" y="35.5" width="1" height="1" fill="#4458e0"/><rect x="359.2" y="40.5" width="1" height="1" fill="#6040e0"/><rect x="359.2" y="31.5" width="1" height="1" fill="#9440d8"/><rect x="351.2" y="47.5" width="1" height="1" fill="#9440d8"/><rect x="358.2" y="46.5" width="1" height="1" fill="#6040e0"/><rect x="352.2" y="50.5" width="1" height="1" fill="#6040e0"/><rect x="352.2" y="49.5" width="1" height="1" fill="#4458e0"/><rect x="357.2" y="31.5" width="1" height="1" fill="#6040e0"/><rect x="354.2" y="56.5" width="1" height="1" fill="#6040e0"/><rect x="351.2" y="46.5" width="1" height="1" fill="#b850d0"/><rect x="350.2" y="53.5" width="1" height="1" fill="#e0b8e6"/><rect x="351.2" y="39.5" width="1" height="1" fill="#cc88da"/><rect x="353.2" y="54.5" width="1" height="1" fill="#4458e0"/><rect x="351.2" y="42.5" width="1" height="1" fill="#b850d0"/><rect x="360.2" y="34.5" width="1" height="1" fill="#cc88da"/><rect x="353.2" y="48.5" width="1" height="1" fill="#6040e0"/><rect x="358.2" y="44.5" width="1" height="1" fill="#4458e0"/><rect x="364.2" y="33.5" width="1" height="1" fill="#e0d8e2"/><rect x="360.2" y="32.5" width="1" height="1" fill="#6040e0"/><rect x="359.2" y="46.5" width="1" height="1" fill="#b850d0"/><rect x="356.2" y="56.5" width="1" height="1" fill="#b850d0"/><rect x="356.2" y="32.5" width="1" height="1" fill="#9440d8"/><rect x="352.2" y="54.5" width="1" height="1" fill="#6040e0"/><rect x="355.2" y="58.5" width="1" height="1" fill="#b850d0"/><rect x="356.2" y="38.5" width="1" height="1" fill="#3a88d8"/><rect x="357.2" y="57.5" width="1" height="1" fill="#e0d8e2"/><rect x="353.2" y="40.5" width="1" height="1" fill="#6040e0"/><rect x="350.2" y="56.5" width="1" height="1" fill="#e4e4e4"/><rect x="352.2" y="41.5" width="1" height="1" fill="#9440d8"/><rect x="354.2" y="40.5" width="1" height="1" fill="#3a88d8"/><rect x="355.2" y="31.5" width="1" height="1" fill="#cc88da"/><rect x="358.2" y="30.5" width="1" height="1" fill="#b850d0"/><rect x="359.2" y="45.5" width="1" height="1" fill="#9440d8"/><rect x="353.2" y="42.5" width="1" height="1" fill="#6040e0"/><rect x="352.2" y="51.5" width="1" height="1" fill="#9440d8"/><rect x="358.2" y="48.5" width="1" height="1" fill="#9440d8"/><rect x="350.2" y="61.5" width="1" height="1" fill="#9440d8"/><rect x="359.2" y="43.5" width="1" height="1" fill="#9440d8"/><rect x="352.2" y="45.5" width="1" height="1" fill="#b850d0"/><rect x="360.2" y="38.5" width="1" height="1" fill="#9440d8"/><rect x="357.2" y="50.5" width="1" height="1" fill="#9440d8"/><rect x="355.2" y="49.5" width="1" height="1" fill="#4458e0"/><rect x="358.2" y="47.5" width="1" height="1" fill="#b850d0"/><rect x="354.2" y="50.5" width="1" height="1" fill="#4458e0"/><rect x="355.2" y="52.5" width="1" height="1" fill="#9440d8"/><rect x="359.2" y="44.5" width="1" height="1" fill="#6040e0"/><rect x="355.2" y="37.5" width="1" height="1" fill="#4458e0"/><rect x="361.2" y="32.5" width="1" height="1" fill="#b850d0"/><rect x="352.2" y="39.5" width="1" height="1" fill="#e4c4ea"/><rect x="354.2" y="34.5" width="1" height="1" fill="#b850d0"/><rect x="351.2" y="36.5" width="1" height="1" fill="#e4c4ea"/><rect x="353.2" y="51.5" width="1" height="1" fill="#9440d8"/><rect x="358.2" y="31.5" width="1" height="1" fill="#6040e0"/><rect x="362.2" y="45.5" width="1" height="1" fill="#e0d8e2"/><rect x="349.2" y="55.5" width="1" height="1" fill="#cc88da"/><rect x="356.2" y="33.5" width="1" height="1" fill="#b850d0"/><rect x="349.2" y="50.5" width="1" height="1" fill="#cc88da"/><rect x="358.2" y="54.5" width="1" height="1" fill="#cc88da"/><rect x="359.2" y="39.5" width="1" height="1" fill="#4458e0"/><rect x="360.2" y="36.5" width="1" height="1" fill="#b850d0"/><rect x="349.2" y="54.5" width="1" height="1" fill="#b850d0"/><rect x="355.2" y="53.5" width="1" height="1" fill="#9440d8"/><rect x="352.2" y="32.5" width="1" height="1" fill="#e4e4e4"/><rect x="352.2" y="44.5" width="1" height="1" fill="#6040e0"/><rect x="360.2" y="47.5" width="1" height="1" fill="#b850d0"/><rect x="354.2" y="54.5" width="1" height="1" fill="#6040e0"/><rect x="360.2" y="45.5" width="1" height="1" fill="#e0d8e2"/><rect x="353.2" y="37.5" width="1" height="1" fill="#b850d0"/><rect x="353.2" y="36.5" width="1" height="1" fill="#cc88da"/><rect x="355.2" y="33.5" width="1" height="1" fill="#b850d0"/><rect x="349.2" y="44.5" width="1" height="1" fill="#dcdcdc"/><rect x="357.2" y="53.5" width="1" height="1" fill="#b850d0"/><rect x="352.2" y="36.5" width="1" height="1" fill="#b850d0"/><rect x="351.2" y="52.5" width="1" height="1" fill="#b850d0"/><rect x="361.2" y="36.5" width="1" height="1" fill="#e0b8e6"/><rect x="353.2" y="52.5" width="1" height="1" fill="#4458e0"/><rect x="354.2" y="33.5" width="1" height="1" fill="#b850d0"/><rect x="359.2" y="36.5" width="1" height="1" fill="#4458e0"/><rect x="351.2" y="50.5" width="1" height="1" fill="#9440d8"/><rect x="352.2" y="52.5" width="1" height="1" fill="#9440d8"/><rect x="350.2" y="52.5" width="1" height="1" fill="#b850d0"/><rect x="360.2" y="33.5" width="1" height="1" fill="#cc88da"/><rect x="356.2" y="49.5" width="1" height="1" fill="#6040e0"/><rect x="349.2" y="56.5" width="1" height="1" fill="#e4e4e4"/><rect x="349.2" y="49.5" width="1" height="1" fill="#dcdcdc"/><rect x="353.2" y="35.5" width="1" height="1" fill="#cc88da"/><rect x="356.2" y="31.5" width="1" height="1" fill="#cc88da"/><rect x="361.2" y="42.5" width="1" height="1" fill="#e4c4ea"/><rect x="350.2" y="45.5" width="1" height="1" fill="#cc88da"/><rect x="355.2" y="51.5" width="1" height="1" fill="#b850d0"/><rect x="349.2" y="53.5" width="1" height="1" fill="#e0b8e6"/><rect x="352.2" y="56.5" width="1" height="1" fill="#b850d0"/><rect x="350.2" y="46.5" width="1" height="1" fill="#dcdcdc"/><rect x="359.2" y="49.5" width="1" height="1" fill="#cc88da"/><rect x="356.2" y="50.5" width="1" height="1" fill="#6040e0"/><rect x="353.2" y="32.5" width="1" height="1" fill="#cc88da"/><rect x="357.2" y="52.5" width="1" height="1" fill="#cc88da"/><rect x="351.2" y="45.5" width="1" height="1" fill="#e4e4e4"/><rect x="353.2" y="34.5" width="1" height="1" fill="#b850d0"/><rect x="354.2" y="52.5" width="1" height="1" fill="#6040e0"/><rect x="352.2" y="53.5" width="1" height="1" fill="#9440d8"/><rect x="361.2" y="34.5" width="1" height="1" fill="#b850d0"/><rect x="360.2" y="44.5" width="1" height="1" fill="#b850d0"/><rect x="351.2" y="57.5" width="1" height="1" fill="#b850d0"/><rect x="350.2" y="50.5" width="1" height="1" fill="#b850d0"/><rect x="361.2" y="40.5" width="1" height="1" fill="#cc88da"/><rect x="351.2" y="54.5" width="1" height="1" fill="#b850d0"/><rect x="361.2" y="39.5" width="1" height="1" fill="#e4e4e4"/><rect x="354.2" y="55.5" width="1" height="1" fill="#6040e0"/><rect x="357.2" y="56.5" width="1" height="1" fill="#e0b8e6"/><rect x="353.2" y="38.5" width="1" height="1" fill="#9440d8"/><rect x="362.2" y="39.5" width="1" height="1" fill="#e4e4e4"/><rect x="354.2" y="32.5" width="1" height="1" fill="#b850d0"/><rect x="362.2" y="34.5" width="1" height="1" fill="#cc88da"/><rect x="357.2" y="51.5" width="1" height="1" fill="#b850d0"/><rect x="360.2" y="46.5" width="1" height="1" fill="#e4c4ea"/><rect x="362.2" y="36.5" width="1" height="1" fill="#cc88da"/><rect x="357.2" y="54.5" width="1" height="1" fill="#e4e4e4"/><rect x="354.2" y="31.5" width="1" height="1" fill="#cc88da"/><rect x="356.2" y="55.5" width="1" height="1" fill="#cc88da"/><rect x="352.2" y="60.5" width="1" height="1" fill="#b850d0"/><rect x="359.2" y="48.5" width="1" height="1" fill="#e4e4e4"/><rect x="356.2" y="30.5" width="1" height="1" fill="#b850d0"/><rect x="360.2" y="41.5" width="1" height="1" fill="#b850d0"/><rect x="356.2" y="53.5" width="1" height="1" fill="#cc88da"/><rect x="353.2" y="58.5" width="1" height="1" fill="#b850d0"/><rect x="349.2" y="51.5" width="1" height="1" fill="#cc88da"/><rect x="360.2" y="30.5" width="1" height="1" fill="#dcdcdc"/><rect x="360.2" y="50.5" width="1" height="1" fill="#e4c4ea"/><rect x="353.2" y="30.5" width="1" height="1" fill="#dcdcdc"/><rect x="356.2" y="58.5" width="1" height="1" fill="#e0d8e2"/><rect x="359.2" y="33.5" width="1" height="1" fill="#9440d8"/><rect x="350.2" y="44.5" width="1" height="1" fill="#cc88da"/><rect x="350.2" y="51.5" width="1" height="1" fill="#cc88da"/><rect x="362.2" y="33.5" width="1" height="1" fill="#dcdcdc"/><rect x="361.2" y="31.5" width="1" height="1" fill="#cc88da"/><rect x="356.2" y="54.5" width="1" height="1" fill="#e4e4e4"/><rect x="350.2" y="55.5" width="1" height="1" fill="#cc88da"/><rect x="363.2" y="40.5" width="1" height="1" fill="#cc88da"/><rect x="349.2" y="47.5" width="1" height="1" fill="#e0b8e6"/><rect x="354.2" y="59.5" width="1" height="1" fill="#b850d0"/><rect x="352.2" y="38.5" width="1" height="1" fill="#dcdcdc"/><rect x="351.2" y="49.5" width="1" height="1" fill="#dcdcdc"/><rect x="356.2" y="57.5" width="1" height="1" fill="#dcdcdc"/><rect x="351.2" y="44.5" width="1" height="1" fill="#cc88da"/><rect x="359.2" y="30.5" width="1" height="1" fill="#e0d8e2"/><rect x="358.2" y="50.5" width="1" height="1" fill="#e0b8e6"/><rect x="353.2" y="57.5" width="1" height="1" fill="#9440d8"/><rect x="359.2" y="51.5" width="1" height="1" fill="#e0d8e2"/><rect x="358.2" y="51.5" width="1" height="1" fill="#cc88da"/><rect x="361.2" y="35.5" width="1" height="1" fill="#cc88da"/><rect x="350.2" y="47.5" width="1" height="1" fill="#cc88da"/><rect x="362.2" y="32.5" width="1" height="1" fill="#e0b8e6"/><rect x="362.2" y="37.5" width="1" height="1" fill="#e0b8e6"/><rect x="350.2" y="42.5" width="1" height="1" fill="#dcdcdc"/><rect x="355.2" y="30.5" width="1" height="1" fill="#e4c4ea"/><rect x="355.2" y="29.5" width="1" height="1" fill="#e0b8e6"/><rect x="354.2" y="30.5" width="1" height="1" fill="#e4c4ea"/><rect x="350.2" y="48.5" width="1" height="1" fill="#e4e4e4"/><rect x="361.2" y="41.5" width="1" height="1" fill="#e4c4ea"/><rect x="353.2" y="55.5" width="1" height="1" fill="#6040e0"/><rect x="361.2" y="45.5" width="1" height="1" fill="#e4c4ea"/><rect x="357.2" y="55.5" width="1" height="1" fill="#e0d8e2"/><rect x="350.2" y="49.5" width="1" height="1" fill="#e0d8e2"/><rect x="349.2" y="66.5" width="1" height="1" fill="#cc88da"/><rect x="354.2" y="57.5" width="1" height="1" fill="#9440d8"/><rect x="350.2" y="58.5" width="1" height="1" fill="#e4c4ea"/><rect x="354.2" y="61.5" width="1" height="1" fill="#b850d0"/><rect x="352.2" y="63.5" width="1" height="1" fill="#b850d0"/><rect x="351.2" y="70.5" width="1" height="1" fill="#cc88da"/><rect x="354.2" y="64.5" width="1" height="1" fill="#b850d0"/><rect x="351.2" y="66.5" width="1" height="1" fill="#b850d0"/><rect x="351.2" y="60.5" width="1" height="1" fill="#cc88da"/><rect x="352.2" y="67.5" width="1" height="1" fill="#e4e4e4"/><rect x="350.2" y="60.5" width="1" height="1" fill="#b850d0"/><rect x="353.2" y="61.5" width="1" height="1" fill="#b850d0"/><rect x="354.2" y="67.5" width="1" height="1" fill="#e4c4ea"/><rect x="355.2" y="56.5" width="1" height="1" fill="#b850d0"/><rect x="352.2" y="61.5" width="1" height="1" fill="#9440d8"/><rect x="353.2" y="63.5" width="1" height="1" fill="#cc88da"/><rect x="354.2" y="60.5" width="1" height="1" fill="#9440d8"/><rect x="352.2" y="64.5" width="1" height="1" fill="#9440d8"/><rect x="350.2" y="63.5" width="1" height="1" fill="#b850d0"/><rect x="352.2" y="59.5" width="1" height="1" fill="#9440d8"/><rect x="354.2" y="63.5" width="1" height="1" fill="#e4c4ea"/><rect x="353.2" y="62.5" width="1" height="1" fill="#b850d0"/><rect x="355.2" y="57.5" width="1" height="1" fill="#e4c4ea"/><rect x="351.2" y="62.5" width="1" height="1" fill="#b850d0"/><rect x="349.2" y="59.5" width="1" height="1" fill="#dcdcdc"/><rect x="349.2" y="62.5" width="1" height="1" fill="#dcdcdc"/><rect x="349.2" y="64.5" width="1" height="1" fill="#dcdcdc"/><rect x="353.2" y="65.5" width="1" height="1" fill="#e4e4e4"/><rect x="352.2" y="66.5" width="1" height="1" fill="#e4e4e4"/><rect x="350.2" y="70.5" width="1" height="1" fill="#e0b8e6"/><rect x="349.2" y="61.5" width="1" height="1" fill="#e0b8e6"/><rect x="352.2" y="69.5" width="1" height="1" fill="#e4e4e4"/><rect x="351.2" y="65.5" width="1" height="1" fill="#cc88da"/><rect x="350.2" y="59.5" width="1" height="1" fill="#cc88da"/><rect x="356.2" y="60.5" width="1" height="1" fill="#e0b8e6"/><rect x="349.2" y="65.5" width="1" height="1" fill="#e4e4e4"/><rect x="351.2" y="61.5" width="1" height="1" fill="#cc88da"/><rect x="351.2" y="59.5" width="1" height="1" fill="#9440d8"/><rect x="351.2" y="68.5" width="1" height="1" fill="#e0d8e2"/><rect x="351.2" y="64.5" width="1" height="1" fill="#e0b8e6"/><rect x="351.2" y="58.5" width="1" height="1" fill="#b850d0"/><rect x="350.2" y="57.5" width="1" height="1" fill="#e0b8e6"/><rect x="352.2" y="57.5" width="1" height="1" fill="#b850d0"/><rect x="354.2" y="65.5" width="1" height="1" fill="#cc88da"/><rect x="354.2" y="70.5" width="1" height="1" fill="#e4e4e4"/><rect x="352.2" y="68.5" width="1" height="1" fill="#e4e4e4"/><rect x="351.2" y="67.5" width="1" height="1" fill="#dcdcdc"/><rect x="354.2" y="58.5" width="1" height="1" fill="#cc88da"/><rect x="350.2" y="67.5" width="1" height="1" fill="#e4e4e4"/><rect x="353.2" y="59.5" width="1" height="1" fill="#b850d0"/><rect x="350.2" y="68.5" width="1" height="1" fill="#e0d8e2"/><rect x="352.2" y="58.5" width="1" height="1" fill="#b850d0"/><rect x="355.2" y="63.5" width="1" height="1" fill="#e0d8e2"/><rect x="354.2" y="66.5" width="1" height="1" fill="#e4c4ea"/><rect x="353.2" y="68.5" width="1" height="1" fill="#dcdcdc"/><rect x="355.2" y="59.5" width="1" height="1" fill="#e0b8e6"/><rect x="355.2" y="61.5" width="1" height="1" fill="#cc88da"/><rect x="350.2" y="54.5" width="1" height="1" fill="#e4e4e4"/><rect x="353.2" y="66.5" width="1" height="1" fill="#e0d8e2"/><rect x="350.2" y="71.5" width="1" height="1" fill="#e4e4e4"/><rect x="352.2" y="62.5" width="1" height="1" fill="#e0d8e2"/><rect x="352.2" y="65.5" width="1" height="1" fill="#e0d8e2"/><rect x="349.2" y="60.5" width="1" height="1" fill="#dcdcdc"/><rect x="355.2" y="62.5" width="1" height="1" fill="#e0d8e2"/></g>
<rect x="348.20" y="24.50" width="61.10" height="57.00" fill="none" stroke="#b4b4b4" stroke-width="0.7"/>
<line x1="362.50" y1="24.50" x2="362.50" y2="81.50" stroke="#808080" stroke-width="0.85"/>
<line x1="348.20" y1="42.30" x2="409.30" y2="42.30" stroke="#808080" stroke-width="0.85"/>
<line x1="348.20" y1="23.90" x2="348.20" y2="82.10" stroke="#231f20" stroke-width="1.4"/>
<line x1="347.60" y1="81.50" x2="409.70" y2="81.50" stroke="#231f20" stroke-width="1.4"/>
<line x1="345.60" y1="24.50" x2="348.20" y2="24.50" stroke="#231f20" stroke-width="1.0"/>
<text x="343.60" y="27.10" font-size="6.9" text-anchor="end" fill="#231f20" stroke="#231f20" stroke-width="0.1">10<tspan font-size="4.69" dy="-2.9">6</tspan></text>
<line x1="345.60" y1="38.83" x2="348.20" y2="38.83" stroke="#231f20" stroke-width="1.0"/>
<text x="343.60" y="41.43" font-size="6.9" text-anchor="end" fill="#231f20" stroke="#231f20" stroke-width="0.1">10<tspan font-size="4.69" dy="-2.9">5</tspan></text>
<line x1="345.60" y1="53.17" x2="348.20" y2="53.17" stroke="#231f20" stroke-width="1.0"/>
<text x="343.60" y="55.77" font-size="6.9" text-anchor="end" fill="#231f20" stroke="#231f20" stroke-width="0.1">10<tspan font-size="4.69" dy="-2.9">4</tspan></text>
<line x1="345.60" y1="67.50" x2="348.20" y2="67.50" stroke="#231f20" stroke-width="1.0"/>
<text x="343.60" y="70.10" font-size="6.9" text-anchor="end" fill="#231f20" stroke="#231f20" stroke-width="0.1">10<tspan font-size="4.69" dy="-2.9">3</tspan></text>
<line x1="346.80" y1="34.52" x2="348.20" y2="34.52" stroke="#231f20" stroke-width="0.6"/>
<line x1="346.80" y1="31.99" x2="348.20" y2="31.99" stroke="#231f20" stroke-width="0.6"/>
<line x1="346.80" y1="30.20" x2="348.20" y2="30.20" stroke="#231f20" stroke-width="0.6"/>
<line x1="346.80" y1="28.81" x2="348.20" y2="28.81" stroke="#231f20" stroke-width="0.6"/>
<line x1="346.80" y1="27.68" x2="348.20" y2="27.68" stroke="#231f20" stroke-width="0.6"/>
<line x1="346.80" y1="26.72" x2="348.20" y2="26.72" stroke="#231f20" stroke-width="0.6"/>
<line x1="346.80" y1="25.89" x2="348.20" y2="25.89" stroke="#231f20" stroke-width="0.6"/>
<line x1="346.80" y1="25.16" x2="348.20" y2="25.16" stroke="#231f20" stroke-width="0.6"/>
<line x1="346.80" y1="48.85" x2="348.20" y2="48.85" stroke="#231f20" stroke-width="0.6"/>
<line x1="346.80" y1="46.33" x2="348.20" y2="46.33" stroke="#231f20" stroke-width="0.6"/>
<line x1="346.80" y1="44.54" x2="348.20" y2="44.54" stroke="#231f20" stroke-width="0.6"/>
<line x1="346.80" y1="43.15" x2="348.20" y2="43.15" stroke="#231f20" stroke-width="0.6"/>
<line x1="346.80" y1="42.01" x2="348.20" y2="42.01" stroke="#231f20" stroke-width="0.6"/>
<line x1="346.80" y1="41.05" x2="348.20" y2="41.05" stroke="#231f20" stroke-width="0.6"/>
<line x1="346.80" y1="40.22" x2="348.20" y2="40.22" stroke="#231f20" stroke-width="0.6"/>
<line x1="346.80" y1="39.49" x2="348.20" y2="39.49" stroke="#231f20" stroke-width="0.6"/>
<line x1="346.80" y1="63.19" x2="348.20" y2="63.19" stroke="#231f20" stroke-width="0.6"/>
<line x1="346.80" y1="60.66" x2="348.20" y2="60.66" stroke="#231f20" stroke-width="0.6"/>
<line x1="346.80" y1="58.87" x2="348.20" y2="58.87" stroke="#231f20" stroke-width="0.6"/>
<line x1="346.80" y1="57.48" x2="348.20" y2="57.48" stroke="#231f20" stroke-width="0.6"/>
<line x1="346.80" y1="56.35" x2="348.20" y2="56.35" stroke="#231f20" stroke-width="0.6"/>
<line x1="346.80" y1="55.39" x2="348.20" y2="55.39" stroke="#231f20" stroke-width="0.6"/>
<line x1="346.80" y1="54.56" x2="348.20" y2="54.56" stroke="#231f20" stroke-width="0.6"/>
<line x1="346.80" y1="53.82" x2="348.20" y2="53.82" stroke="#231f20" stroke-width="0.6"/>
<line x1="346.80" y1="77.52" x2="348.20" y2="77.52" stroke="#231f20" stroke-width="0.6"/>
<line x1="346.80" y1="74.99" x2="348.20" y2="74.99" stroke="#231f20" stroke-width="0.6"/>
<line x1="346.80" y1="73.20" x2="348.20" y2="73.20" stroke="#231f20" stroke-width="0.6"/>
<line x1="346.80" y1="71.81" x2="348.20" y2="71.81" stroke="#231f20" stroke-width="0.6"/>
<line x1="346.80" y1="70.68" x2="348.20" y2="70.68" stroke="#231f20" stroke-width="0.6"/>
<line x1="346.80" y1="69.72" x2="348.20" y2="69.72" stroke="#231f20" stroke-width="0.6"/>
<line x1="346.80" y1="68.89" x2="348.20" y2="68.89" stroke="#231f20" stroke-width="0.6"/>
<line x1="346.80" y1="68.16" x2="348.20" y2="68.16" stroke="#231f20" stroke-width="0.6"/>
<line x1="362.50" y1="81.50" x2="362.50" y2="84.10" stroke="#231f20" stroke-width="1.0"/>
<text x="362.30" y="91.80" font-size="6.9" text-anchor="middle" fill="#231f20" stroke="#231f20" stroke-width="0.1">10<tspan font-size="4.69" dy="-2.9">3</tspan></text>
<line x1="377.60" y1="81.50" x2="377.60" y2="84.10" stroke="#231f20" stroke-width="1.0"/>
<text x="377.40" y="91.80" font-size="6.9" text-anchor="middle" fill="#231f20" stroke="#231f20" stroke-width="0.1">10<tspan font-size="4.69" dy="-2.9">4</tspan></text>
<line x1="392.70" y1="81.50" x2="392.70" y2="84.10" stroke="#231f20" stroke-width="1.0"/>
<text x="392.50" y="91.80" font-size="6.9" text-anchor="middle" fill="#231f20" stroke="#231f20" stroke-width="0.1">10<tspan font-size="4.69" dy="-2.9">5</tspan></text>
<line x1="407.80" y1="81.50" x2="407.80" y2="84.10" stroke="#231f20" stroke-width="1.0"/>
<text x="407.60" y="91.80" font-size="6.9" text-anchor="middle" fill="#231f20" stroke="#231f20" stroke-width="0.1">10<tspan font-size="4.69" dy="-2.9">6</tspan></text>
<line x1="351.95" y1="81.50" x2="351.95" y2="82.90" stroke="#231f20" stroke-width="0.6"/>
<line x1="354.60" y1="81.50" x2="354.60" y2="82.90" stroke="#231f20" stroke-width="0.6"/>
<line x1="356.49" y1="81.50" x2="356.49" y2="82.90" stroke="#231f20" stroke-width="0.6"/>
<line x1="357.95" y1="81.50" x2="357.95" y2="82.90" stroke="#231f20" stroke-width="0.6"/>
<line x1="359.15" y1="81.50" x2="359.15" y2="82.90" stroke="#231f20" stroke-width="0.6"/>
<line x1="360.16" y1="81.50" x2="360.16" y2="82.90" stroke="#231f20" stroke-width="0.6"/>
<line x1="361.04" y1="81.50" x2="361.04" y2="82.90" stroke="#231f20" stroke-width="0.6"/>
<line x1="361.81" y1="81.50" x2="361.81" y2="82.90" stroke="#231f20" stroke-width="0.6"/>
<line x1="367.05" y1="81.50" x2="367.05" y2="82.90" stroke="#231f20" stroke-width="0.6"/>
<line x1="369.70" y1="81.50" x2="369.70" y2="82.90" stroke="#231f20" stroke-width="0.6"/>
<line x1="371.59" y1="81.50" x2="371.59" y2="82.90" stroke="#231f20" stroke-width="0.6"/>
<line x1="373.05" y1="81.50" x2="373.05" y2="82.90" stroke="#231f20" stroke-width="0.6"/>
<line x1="374.25" y1="81.50" x2="374.25" y2="82.90" stroke="#231f20" stroke-width="0.6"/>
<line x1="375.26" y1="81.50" x2="375.26" y2="82.90" stroke="#231f20" stroke-width="0.6"/>
<line x1="376.14" y1="81.50" x2="376.14" y2="82.90" stroke="#231f20" stroke-width="0.6"/>
<line x1="376.91" y1="81.50" x2="376.91" y2="82.90" stroke="#231f20" stroke-width="0.6"/>
<line x1="382.15" y1="81.50" x2="382.15" y2="82.90" stroke="#231f20" stroke-width="0.6"/>
<line x1="384.80" y1="81.50" x2="384.80" y2="82.90" stroke="#231f20" stroke-width="0.6"/>
<line x1="386.69" y1="81.50" x2="386.69" y2="82.90" stroke="#231f20" stroke-width="0.6"/>
<line x1="388.15" y1="81.50" x2="388.15" y2="82.90" stroke="#231f20" stroke-width="0.6"/>
<line x1="389.35" y1="81.50" x2="389.35" y2="82.90" stroke="#231f20" stroke-width="0.6"/>
<line x1="390.36" y1="81.50" x2="390.36" y2="82.90" stroke="#231f20" stroke-width="0.6"/>
<line x1="391.24" y1="81.50" x2="391.24" y2="82.90" stroke="#231f20" stroke-width="0.6"/>
<line x1="392.01" y1="81.50" x2="392.01" y2="82.90" stroke="#231f20" stroke-width="0.6"/>
<line x1="397.25" y1="81.50" x2="397.25" y2="82.90" stroke="#231f20" stroke-width="0.6"/>
<line x1="399.90" y1="81.50" x2="399.90" y2="82.90" stroke="#231f20" stroke-width="0.6"/>
<line x1="401.79" y1="81.50" x2="401.79" y2="82.90" stroke="#231f20" stroke-width="0.6"/>
<line x1="403.25" y1="81.50" x2="403.25" y2="82.90" stroke="#231f20" stroke-width="0.6"/>
<line x1="404.45" y1="81.50" x2="404.45" y2="82.90" stroke="#231f20" stroke-width="0.6"/>
<line x1="405.46" y1="81.50" x2="405.46" y2="82.90" stroke="#231f20" stroke-width="0.6"/>
<line x1="406.34" y1="81.50" x2="406.34" y2="82.90" stroke="#231f20" stroke-width="0.6"/>
<line x1="407.11" y1="81.50" x2="407.11" y2="82.90" stroke="#231f20" stroke-width="0.6"/>
<text transform="translate(349.40,28.50)" font-size="3.3" text-anchor="start" fill="#4a4a4a">91.63%</text>
<text transform="translate(408.10,28.50)" font-size="3.3" text-anchor="end" fill="#4a4a4a">5.85%</text>
<text transform="translate(349.40,80.00)" font-size="3.3" text-anchor="start" fill="#4a4a4a">2.42%</text>
<text transform="translate(408.10,80.00)" font-size="3.3" text-anchor="end" fill="#4a4a4a">0.10%</text>
<text transform="translate(379.25,104.70)" font-size="9.4" text-anchor="middle" fill="#231f20" stroke="#231f20" stroke-width="0.5" textLength="22.00" lengthAdjust="spacingAndGlyphs">CD235a</text>
<text transform="translate(328.20,53.80) rotate(-90)" font-size="9.4" text-anchor="middle" fill="#231f20" stroke="#231f20" stroke-width="0.5" textLength="14.40" lengthAdjust="spacingAndGlyphs">CD71</text>
<g filter="url(#soft)"><rect x="451.7" y="44.5" width="1" height="1" fill="#d0d0d0"/><rect x="452.7" y="69.5" width="1" height="1" fill="#e2e2e2"/><rect x="451.7" y="46.5" width="1" height="1" fill="#e6e6e6"/><rect x="450.7" y="54.5" width="1" height="1" fill="#e8dcea"/><rect x="452.7" y="40.5" width="1" height="1" fill="#d0d0d0"/><rect x="448.7" y="57.5" width="1" height="1" fill="#e8dcea"/><rect x="450.7" y="55.5" width="1" height="1" fill="#d0d0d0"/><rect x="451.7" y="31.5" width="1" height="1" fill="#dcdcdc"/><rect x="452.7" y="58.5" width="1" height="1" fill="#e6e6e6"/><rect x="449.7" y="59.5" width="1" height="1" fill="#d0d0d0"/><rect x="453.7" y="49.5" width="1" height="1" fill="#dcdcdc"/><rect x="448.7" y="43.5" width="1" height="1" fill="#dcdcdc"/><rect x="451.7" y="47.5" width="1" height="1" fill="#e8dcea"/><rect x="451.7" y="57.5" width="1" height="1" fill="#e8dcea"/><rect x="454.7" y="48.5" width="1" height="1" fill="#e6e6e6"/><rect x="449.7" y="54.5" width="1" height="1" fill="#e6e6e6"/><rect x="453.7" y="43.5" width="1" height="1" fill="#e6e6e6"/><rect x="451.7" y="60.5" width="1" height="1" fill="#dcdcdc"/><rect x="452.7" y="51.5" width="1" height="1" fill="#c4b4c8"/><rect x="450.7" y="49.5" width="1" height="1" fill="#c4b4c8"/><rect x="452.7" y="62.5" width="1" height="1" fill="#e8dcea"/><rect x="453.7" y="53.5" width="1" height="1" fill="#e2e2e2"/><rect x="450.7" y="40.5" width="1" height="1" fill="#e8dcea"/><rect x="448.7" y="65.5" width="1" height="1" fill="#d0d0d0"/><rect x="452.7" y="39.5" width="1" height="1" fill="#c4b4c8"/><rect x="450.7" y="60.5" width="1" height="1" fill="#dcdcdc"/><rect x="450.7" y="46.5" width="1" height="1" fill="#d0d0d0"/><rect x="451.7" y="61.5" width="1" height="1" fill="#d0d0d0"/><rect x="450.7" y="48.5" width="1" height="1" fill="#e2e2e2"/><rect x="449.7" y="64.5" width="1" height="1" fill="#e8dcea"/><rect x="451.7" y="55.5" width="1" height="1" fill="#e6e6e6"/><rect x="449.7" y="49.5" width="1" height="1" fill="#d0d0d0"/><rect x="450.7" y="36.5" width="1" height="1" fill="#e2e2e2"/><rect x="449.7" y="57.5" width="1" height="1" fill="#e6e6e6"/><rect x="450.7" y="51.5" width="1" height="1" fill="#e2e2e2"/><rect x="452.7" y="47.5" width="1" height="1" fill="#e6e6e6"/><rect x="454.7" y="38.5" width="1" height="1" fill="#d0d0d0"/><rect x="446.7" y="59.5" width="1" height="1" fill="#e8dcea"/><rect x="450.7" y="53.5" width="1" height="1" fill="#e6e6e6"/><rect x="451.7" y="48.5" width="1" height="1" fill="#e6e6e6"/><rect x="449.7" y="53.5" width="1" height="1" fill="#d0d0d0"/><rect x="455.7" y="64.5" width="1" height="1" fill="#e6e6e6"/><rect x="450.7" y="59.5" width="1" height="1" fill="#dcdcdc"/><rect x="450.7" y="52.5" width="1" height="1" fill="#e6e6e6"/><rect x="450.7" y="71.5" width="1" height="1" fill="#e6e6e6"/><rect x="448.7" y="56.5" width="1" height="1" fill="#e8dcea"/><rect x="451.7" y="43.5" width="1" height="1" fill="#e8dcea"/><rect x="449.7" y="58.5" width="1" height="1" fill="#dcdcdc"/><rect x="453.7" y="45.5" width="1" height="1" fill="#e8dcea"/><rect x="454.7" y="53.5" width="1" height="1" fill="#dcdcdc"/><rect x="455.7" y="43.5" width="1" height="1" fill="#e2e2e2"/><rect x="455.7" y="48.5" width="1" height="1" fill="#dcdcdc"/><rect x="454.7" y="36.5" width="1" height="1" fill="#e6e6e6"/><rect x="452.7" y="32.5" width="1" height="1" fill="#dcdcdc"/><rect x="448.7" y="61.5" width="1" height="1" fill="#e8dcea"/><rect x="452.7" y="46.5" width="1" height="1" fill="#d0d0d0"/><rect x="450.7" y="63.5" width="1" height="1" fill="#dcdcdc"/><rect x="452.7" y="42.5" width="1" height="1" fill="#d0d0d0"/><rect x="449.7" y="69.5" width="1" height="1" fill="#dcdcdc"/><rect x="449.7" y="46.5" width="1" height="1" fill="#e8dcea"/><rect x="451.7" y="34.5" width="1" height="1" fill="#dcdcdc"/><rect x="449.7" y="52.5" width="1" height="1" fill="#c4b4c8"/><rect x="451.7" y="42.5" width="1" height="1" fill="#e8dcea"/><rect x="450.7" y="58.5" width="1" height="1" fill="#e8dcea"/><rect x="450.7" y="57.5" width="1" height="1" fill="#dcdcdc"/><rect x="452.7" y="70.5" width="1" height="1" fill="#dcdcdc"/><rect x="449.7" y="56.5" width="1" height="1" fill="#dcdcdc"/><rect x="451.7" y="39.5" width="1" height="1" fill="#e2e2e2"/><rect x="454.7" y="50.5" width="1" height="1" fill="#e6e6e6"/><rect x="450.7" y="44.5" width="1" height="1" fill="#e6e6e6"/><rect x="448.7" y="62.5" width="1" height="1" fill="#e6e6e6"/><rect x="452.7" y="44.5" width="1" height="1" fill="#e6e6e6"/><rect x="452.7" y="53.5" width="1" height="1" fill="#d0d0d0"/><rect x="450.7" y="50.5" width="1" height="1" fill="#e6e6e6"/><rect x="452.7" y="38.5" width="1" height="1" fill="#e8dcea"/><rect x="453.7" y="61.5" width="1" height="1" fill="#d0d0d0"/><rect x="447.7" y="72.5" width="1" height="1" fill="#e6e6e6"/><rect x="453.7" y="52.5" width="1" height="1" fill="#e2e2e2"/><rect x="452.7" y="45.5" width="1" height="1" fill="#dcdcdc"/><rect x="450.7" y="68.5" width="1" height="1" fill="#dcdcdc"/><rect x="447.7" y="60.5" width="1" height="1" fill="#e6e6e6"/><rect x="450.7" y="56.5" width="1" height="1" fill="#e6e6e6"/><rect x="455.7" y="47.5" width="1" height="1" fill="#e8dcea"/><rect x="453.7" y="47.5" width="1" height="1" fill="#e8dcea"/><rect x="451.7" y="52.5" width="1" height="1" fill="#e8dcea"/><rect x="452.7" y="50.5" width="1" height="1" fill="#e8dcea"/><rect x="461.7" y="32.5" width="1" height="1" fill="#dcdcdc"/><rect x="468.7" y="30.5" width="1" height="1" fill="#d0d0d0"/><rect x="462.7" y="36.5" width="1" height="1" fill="#e2e2e2"/><rect x="459.7" y="36.5" width="1" height="1" fill="#dcdcdc"/><rect x="464.7" y="26.5" width="1" height="1" fill="#e6e6e6"/><rect x="456.7" y="32.5" width="1" height="1" fill="#e2e2e2"/><rect x="462.7" y="32.5" width="1" height="1" fill="#d0d0d0"/><rect x="471.7" y="25.5" width="1" height="1" fill="#e6e6e6"/><rect x="463.7" y="30.5" width="1" height="1" fill="#e2e2e2"/><rect x="459.7" y="31.5" width="1" height="1" fill="#dcdcdc"/><rect x="458.7" y="37.5" width="1" height="1" fill="#e6e6e6"/><rect x="463.7" y="27.5" width="1" height="1" fill="#e8dcea"/><rect x="461.7" y="31.5" width="1" height="1" fill="#c4b4c8"/><rect x="457.7" y="37.5" width="1" height="1" fill="#e6e6e6"/><rect x="462.7" y="34.5" width="1" height="1" fill="#d0d0d0"/><rect x="459.7" y="33.5" width="1" height="1" fill="#d0d0d0"/><rect x="461.7" y="34.5" width="1" height="1" fill="#e8dcea"/><rect x="462.7" y="33.5" width="1" height="1" fill="#d0d0d0"/><rect x="458.7" y="34.5" width="1" height="1" fill="#d0d0d0"/><rect x="463.7" y="33.5" width="1" height="1" fill="#dcdcdc"/><rect x="460.7" y="33.5" width="1" height="1" fill="#d0d0d0"/><rect x="461.7" y="33.5" width="1" height="1" fill="#d0d0d0"/><rect x="457.7" y="26.5" width="1" height="1" fill="#dcdcdc"/><rect x="463.7" y="31.5" width="1" height="1" fill="#e8dcea"/><rect x="462.7" y="27.5" width="1" height="1" fill="#dcdcdc"/><rect x="464.7" y="29.5" width="1" height="1" fill="#e2e2e2"/><rect x="459.7" y="30.5" width="1" height="1" fill="#d0d0d0"/><rect x="460.7" y="29.5" width="1" height="1" fill="#e2e2e2"/><rect x="465.7" y="28.5" width="1" height="1" fill="#e8dcea"/><rect x="461.7" y="35.5" width="1" height="1" fill="#dcdcdc"/><rect x="463.7" y="38.5" width="1" height="1" fill="#e6e6e6"/><rect x="466.7" y="32.5" width="1" height="1" fill="#e6e6e6"/><rect x="456.7" y="35.5" width="1" height="1" fill="#e2e2e2"/><rect x="467.7" y="34.5" width="1" height="1" fill="#dcdcdc"/><rect x="464.7" y="33.5" width="1" height="1" fill="#e2e2e2"/><rect x="463.7" y="32.5" width="1" height="1" fill="#e8dcea"/><rect x="467.7" y="28.5" width="1" height="1" fill="#e8dcea"/><rect x="467.7" y="29.5" width="1" height="1" fill="#d0d0d0"/><rect x="457.7" y="32.5" width="1" height="1" fill="#e8dcea"/><rect x="458.7" y="32.5" width="1" height="1" fill="#d0d0d0"/><rect x="464.7" y="35.5" width="1" height="1" fill="#e2e2e2"/><rect x="463.7" y="35.5" width="1" height="1" fill="#e8dcea"/><rect x="466.7" y="36.5" width="1" height="1" fill="#e2e2e2"/><rect x="462.7" y="29.5" width="1" height="1" fill="#e2e2e2"/><rect x="457.7" y="38.5" width="1" height="1" fill="#dcdcdc"/><rect x="468.7" y="34.5" width="1" height="1" fill="#e6e6e6"/><rect x="464.7" y="65.5" width="1" height="1" fill="#e8dcea"/><rect x="491.7" y="47.5" width="1" height="1" fill="#e6e6e6"/></g>
<g filter="url(#soft)"><rect x="454.7" y="35.5" width="1" height="1" fill="#dcaae4"/><rect x="450.7" y="39.5" width="1" height="1" fill="#dedede"/><rect x="449.7" y="38.5" width="1" height="1" fill="#e8c8ea"/><rect x="450.7" y="51.5" width="1" height="1" fill="#e8c8ea"/><rect x="450.7" y="45.5" width="1" height="1" fill="#cc88dc"/><rect x="452.7" y="37.5" width="1" height="1" fill="#cc88dc"/><rect x="453.7" y="34.5" width="1" height="1" fill="#cc88dc"/><rect x="452.7" y="46.5" width="1" height="1" fill="#e8e8e8"/><rect x="451.7" y="41.5" width="1" height="1" fill="#dcaae4"/><rect x="451.7" y="56.5" width="1" height="1" fill="#e8c8ea"/><rect x="451.7" y="32.5" width="1" height="1" fill="#ecd0ee"/><rect x="453.7" y="39.5" width="1" height="1" fill="#cc88dc"/><rect x="453.7" y="33.5" width="1" height="1" fill="#dedede"/><rect x="449.7" y="54.5" width="1" height="1" fill="#ecd0ee"/><rect x="452.7" y="43.5" width="1" height="1" fill="#e8c8ea"/><rect x="452.7" y="40.5" width="1" height="1" fill="#dcaae4"/><rect x="450.7" y="43.5" width="1" height="1" fill="#e8e8e8"/><rect x="454.7" y="31.5" width="1" height="1" fill="#dcaae4"/><rect x="452.7" y="49.5" width="1" height="1" fill="#ecd0ee"/><rect x="447.7" y="47.5" width="1" height="1" fill="#dcaae4"/><rect x="450.7" y="46.5" width="1" height="1" fill="#dcaae4"/><rect x="451.7" y="38.5" width="1" height="1" fill="#dcaae4"/><rect x="447.7" y="45.5" width="1" height="1" fill="#e8e8e8"/><rect x="451.7" y="45.5" width="1" height="1" fill="#cc88dc"/><rect x="451.7" y="50.5" width="1" height="1" fill="#e4e4e4"/><rect x="450.7" y="48.5" width="1" height="1" fill="#dcaae4"/><rect x="450.7" y="40.5" width="1" height="1" fill="#dcaae4"/><rect x="453.7" y="38.5" width="1" height="1" fill="#e8c8ea"/><rect x="452.7" y="38.5" width="1" height="1" fill="#dcaae4"/><rect x="451.7" y="36.5" width="1" height="1" fill="#e8c8ea"/><rect x="452.7" y="36.5" width="1" height="1" fill="#b860d4"/><rect x="452.7" y="44.5" width="1" height="1" fill="#cc88dc"/><rect x="451.7" y="37.5" width="1" height="1" fill="#dcaae4"/><rect x="452.7" y="41.5" width="1" height="1" fill="#cc88dc"/><rect x="452.7" y="53.5" width="1" height="1" fill="#ecd0ee"/><rect x="452.7" y="29.5" width="1" height="1" fill="#e8c8ea"/><rect x="449.7" y="52.5" width="1" height="1" fill="#e8e8e8"/><rect x="452.7" y="33.5" width="1" height="1" fill="#cc88dc"/><rect x="451.7" y="42.5" width="1" height="1" fill="#cc88dc"/><rect x="453.7" y="41.5" width="1" height="1" fill="#e8c8ea"/><rect x="453.7" y="44.5" width="1" height="1" fill="#dcaae4"/><rect x="453.7" y="31.5" width="1" height="1" fill="#e8e8e8"/><rect x="450.7" y="35.5" width="1" height="1" fill="#e4e4e4"/><rect x="451.7" y="35.5" width="1" height="1" fill="#dcaae4"/><rect x="454.7" y="32.5" width="1" height="1" fill="#e8c8ea"/><rect x="454.7" y="34.5" width="1" height="1" fill="#dcaae4"/><rect x="451.7" y="51.5" width="1" height="1" fill="#e8c8ea"/><rect x="451.7" y="44.5" width="1" height="1" fill="#e8c8ea"/><rect x="452.7" y="47.5" width="1" height="1" fill="#e4e4e4"/><rect x="453.7" y="30.5" width="1" height="1" fill="#e8c8ea"/><rect x="452.7" y="35.5" width="1" height="1" fill="#e8c8ea"/><rect x="451.7" y="47.5" width="1" height="1" fill="#dcaae4"/><rect x="454.7" y="40.5" width="1" height="1" fill="#e4e4e4"/><rect x="450.7" y="47.5" width="1" height="1" fill="#dedede"/><rect x="451.7" y="49.5" width="1" height="1" fill="#dcaae4"/><rect x="449.7" y="34.5" width="1" height="1" fill="#e4e4e4"/><rect x="455.7" y="31.5" width="1" height="1" fill="#e4e4e4"/><rect x="452.7" y="30.5" width="1" height="1" fill="#e8e8e8"/><rect x="450.7" y="33.5" width="1" height="1" fill="#e8e8e8"/><rect x="447.7" y="53.5" width="1" height="1" fill="#e8e8e8"/><rect x="453.7" y="49.5" width="1" height="1" fill="#dedede"/><rect x="454.7" y="42.5" width="1" height="1" fill="#e8e8e8"/><rect x="450.7" y="42.5" width="1" height="1" fill="#e8e8e8"/><rect x="450.7" y="50.5" width="1" height="1" fill="#e4e4e4"/><rect x="454.7" y="33.5" width="1" height="1" fill="#ecd0ee"/><rect x="452.7" y="42.5" width="1" height="1" fill="#e4e4e4"/><rect x="449.7" y="50.5" width="1" height="1" fill="#e4e4e4"/><rect x="452.7" y="31.5" width="1" height="1" fill="#e4e4e4"/><rect x="450.7" y="54.5" width="1" height="1" fill="#e8c8ea"/><rect x="450.7" y="44.5" width="1" height="1" fill="#dcaae4"/><rect x="452.7" y="34.5" width="1" height="1" fill="#e8e8e8"/><rect x="452.7" y="45.5" width="1" height="1" fill="#e4e4e4"/><rect x="451.7" y="62.5" width="1" height="1" fill="#ecd0ee"/><rect x="449.7" y="44.5" width="1" height="1" fill="#e4e4e4"/><rect x="449.7" y="46.5" width="1" height="1" fill="#e8e8e8"/><rect x="451.7" y="46.5" width="1" height="1" fill="#e8e8e8"/><rect x="453.7" y="37.5" width="1" height="1" fill="#e8e8e8"/><rect x="450.7" y="49.5" width="1" height="1" fill="#ecd0ee"/><rect x="448.7" y="50.5" width="1" height="1" fill="#dedede"/><rect x="450.7" y="36.5" width="1" height="1" fill="#e8e8e8"/><rect x="451.7" y="40.5" width="1" height="1" fill="#e8e8e8"/><rect x="453.7" y="45.5" width="1" height="1" fill="#dedede"/><rect x="455.7" y="39.5" width="1" height="1" fill="#e8e8e8"/><rect x="461.7" y="32.5" width="1" height="1" fill="#e4e4e4"/><rect x="466.7" y="28.5" width="1" height="1" fill="#e8c8ea"/><rect x="461.7" y="34.5" width="1" height="1" fill="#e8c8ea"/><rect x="463.7" y="34.5" width="1" height="1" fill="#dcaae4"/><rect x="460.7" y="36.5" width="1" height="1" fill="#e4e4e4"/><rect x="455.7" y="27.5" width="1" height="1" fill="#e8c8ea"/><rect x="461.7" y="33.5" width="1" height="1" fill="#e8e8e8"/><rect x="461.7" y="26.5" width="1" height="1" fill="#e8c8ea"/><rect x="456.7" y="32.5" width="1" height="1" fill="#ecd0ee"/><rect x="465.7" y="34.5" width="1" height="1" fill="#e8c8ea"/><rect x="469.7" y="27.5" width="1" height="1" fill="#e4e4e4"/><rect x="459.7" y="28.5" width="1" height="1" fill="#e8e8e8"/><rect x="456.7" y="30.5" width="1" height="1" fill="#e4e4e4"/><rect x="461.7" y="30.5" width="1" height="1" fill="#dcaae4"/><rect x="463.7" y="36.5" width="1" height="1" fill="#e8c8ea"/><rect x="460.7" y="31.5" width="1" height="1" fill="#dedede"/><rect x="462.7" y="31.5" width="1" height="1" fill="#e4e4e4"/><rect x="462.7" y="30.5" width="1" height="1" fill="#e8e8e8"/><rect x="463.7" y="32.5" width="1" height="1" fill="#e8c8ea"/><rect x="466.7" y="33.5" width="1" height="1" fill="#ecd0ee"/><rect x="464.7" y="31.5" width="1" height="1" fill="#e4e4e4"/><rect x="460.7" y="34.5" width="1" height="1" fill="#dedede"/><rect x="458.7" y="34.5" width="1" height="1" fill="#e4e4e4"/><rect x="469.7" y="29.5" width="1" height="1" fill="#ecd0ee"/><rect x="464.7" y="33.5" width="1" height="1" fill="#cc88dc"/><rect x="462.7" y="35.5" width="1" height="1" fill="#ecd0ee"/><rect x="460.7" y="29.5" width="1" height="1" fill="#ecd0ee"/><rect x="457.7" y="31.5" width="1" height="1" fill="#dedede"/><rect x="469.7" y="30.5" width="1" height="1" fill="#e8e8e8"/><rect x="466.7" y="32.5" width="1" height="1" fill="#e8c8ea"/><rect x="453.7" y="32.5" width="1" height="1" fill="#dedede"/><rect x="473.7" y="30.5" width="1" height="1" fill="#dedede"/><rect x="465.7" y="28.5" width="1" height="1" fill="#e4e4e4"/><rect x="461.7" y="29.5" width="1" height="1" fill="#ecd0ee"/><rect x="460.7" y="33.5" width="1" height="1" fill="#ecd0ee"/><rect x="458.7" y="29.5" width="1" height="1" fill="#ecd0ee"/><rect x="459.7" y="31.5" width="1" height="1" fill="#dedede"/><rect x="465.7" y="31.5" width="1" height="1" fill="#dedede"/><rect x="467.7" y="33.5" width="1" height="1" fill="#ecd0ee"/><rect x="460.7" y="35.5" width="1" height="1" fill="#ecd0ee"/><rect x="462.7" y="34.5" width="1" height="1" fill="#e8c8ea"/><rect x="465.7" y="33.5" width="1" height="1" fill="#e4e4e4"/><rect x="458.7" y="33.5" width="1" height="1" fill="#ecd0ee"/><rect x="469.7" y="32.5" width="1" height="1" fill="#e8c8ea"/><rect x="466.7" y="31.5" width="1" height="1" fill="#dedede"/><rect x="457.7" y="32.5" width="1" height="1" fill="#ecd0ee"/><rect x="467.7" y="29.5" width="1" height="1" fill="#ecd0ee"/><rect x="467.7" y="32.5" width="1" height="1" fill="#e8e8e8"/></g>
<rect x="443.70" y="24.50" width="60.90" height="57.00" fill="none" stroke="#b4b4b4" stroke-width="0.7"/>
<line x1="458.20" y1="24.50" x2="458.20" y2="81.50" stroke="#808080" stroke-width="0.85"/>
<line x1="443.70" y1="42.30" x2="504.60" y2="42.30" stroke="#808080" stroke-width="0.85"/>
<line x1="443.70" y1="23.90" x2="443.70" y2="82.10" stroke="#231f20" stroke-width="1.4"/>
<line x1="443.10" y1="81.50" x2="505.00" y2="81.50" stroke="#231f20" stroke-width="1.4"/>
<line x1="441.10" y1="24.50" x2="443.70" y2="24.50" stroke="#231f20" stroke-width="1.0"/>
<text x="439.10" y="27.10" font-size="6.9" text-anchor="end" fill="#231f20" stroke="#231f20" stroke-width="0.1">10<tspan font-size="4.69" dy="-2.9">6</tspan></text>
<line x1="441.10" y1="38.83" x2="443.70" y2="38.83" stroke="#231f20" stroke-width="1.0"/>
<text x="439.10" y="41.43" font-size="6.9" text-anchor="end" fill="#231f20" stroke="#231f20" stroke-width="0.1">10<tspan font-size="4.69" dy="-2.9">5</tspan></text>
<line x1="441.10" y1="53.17" x2="443.70" y2="53.17" stroke="#231f20" stroke-width="1.0"/>
<text x="439.10" y="55.77" font-size="6.9" text-anchor="end" fill="#231f20" stroke="#231f20" stroke-width="0.1">10<tspan font-size="4.69" dy="-2.9">4</tspan></text>
<line x1="441.10" y1="67.50" x2="443.70" y2="67.50" stroke="#231f20" stroke-width="1.0"/>
<text x="439.10" y="70.10" font-size="6.9" text-anchor="end" fill="#231f20" stroke="#231f20" stroke-width="0.1">10<tspan font-size="4.69" dy="-2.9">3</tspan></text>
<line x1="442.30" y1="34.52" x2="443.70" y2="34.52" stroke="#231f20" stroke-width="0.6"/>
<line x1="442.30" y1="31.99" x2="443.70" y2="31.99" stroke="#231f20" stroke-width="0.6"/>
<line x1="442.30" y1="30.20" x2="443.70" y2="30.20" stroke="#231f20" stroke-width="0.6"/>
<line x1="442.30" y1="28.81" x2="443.70" y2="28.81" stroke="#231f20" stroke-width="0.6"/>
<line x1="442.30" y1="27.68" x2="443.70" y2="27.68" stroke="#231f20" stroke-width="0.6"/>
<line x1="442.30" y1="26.72" x2="443.70" y2="26.72" stroke="#231f20" stroke-width="0.6"/>
<line x1="442.30" y1="25.89" x2="443.70" y2="25.89" stroke="#231f20" stroke-width="0.6"/>
<line x1="442.30" y1="25.16" x2="443.70" y2="25.16" stroke="#231f20" stroke-width="0.6"/>
<line x1="442.30" y1="48.85" x2="443.70" y2="48.85" stroke="#231f20" stroke-width="0.6"/>
<line x1="442.30" y1="46.33" x2="443.70" y2="46.33" stroke="#231f20" stroke-width="0.6"/>
<line x1="442.30" y1="44.54" x2="443.70" y2="44.54" stroke="#231f20" stroke-width="0.6"/>
<line x1="442.30" y1="43.15" x2="443.70" y2="43.15" stroke="#231f20" stroke-width="0.6"/>
<line x1="442.30" y1="42.01" x2="443.70" y2="42.01" stroke="#231f20" stroke-width="0.6"/>
<line x1="442.30" y1="41.05" x2="443.70" y2="41.05" stroke="#231f20" stroke-width="0.6"/>
<line x1="442.30" y1="40.22" x2="443.70" y2="40.22" stroke="#231f20" stroke-width="0.6"/>
<line x1="442.30" y1="39.49" x2="443.70" y2="39.49" stroke="#231f20" stroke-width="0.6"/>
<line x1="442.30" y1="63.19" x2="443.70" y2="63.19" stroke="#231f20" stroke-width="0.6"/>
<line x1="442.30" y1="60.66" x2="443.70" y2="60.66" stroke="#231f20" stroke-width="0.6"/>
<line x1="442.30" y1="58.87" x2="443.70" y2="58.87" stroke="#231f20" stroke-width="0.6"/>
<line x1="442.30" y1="57.48" x2="443.70" y2="57.48" stroke="#231f20" stroke-width="0.6"/>
<line x1="442.30" y1="56.35" x2="443.70" y2="56.35" stroke="#231f20" stroke-width="0.6"/>
<line x1="442.30" y1="55.39" x2="443.70" y2="55.39" stroke="#231f20" stroke-width="0.6"/>
<line x1="442.30" y1="54.56" x2="443.70" y2="54.56" stroke="#231f20" stroke-width="0.6"/>
<line x1="442.30" y1="53.82" x2="443.70" y2="53.82" stroke="#231f20" stroke-width="0.6"/>
<line x1="442.30" y1="77.52" x2="443.70" y2="77.52" stroke="#231f20" stroke-width="0.6"/>
<line x1="442.30" y1="74.99" x2="443.70" y2="74.99" stroke="#231f20" stroke-width="0.6"/>
<line x1="442.30" y1="73.20" x2="443.70" y2="73.20" stroke="#231f20" stroke-width="0.6"/>
<line x1="442.30" y1="71.81" x2="443.70" y2="71.81" stroke="#231f20" stroke-width="0.6"/>
<line x1="442.30" y1="70.68" x2="443.70" y2="70.68" stroke="#231f20" stroke-width="0.6"/>
<line x1="442.30" y1="69.72" x2="443.70" y2="69.72" stroke="#231f20" stroke-width="0.6"/>
<line x1="442.30" y1="68.89" x2="443.70" y2="68.89" stroke="#231f20" stroke-width="0.6"/>
<line x1="442.30" y1="68.16" x2="443.70" y2="68.16" stroke="#231f20" stroke-width="0.6"/>
<line x1="458.20" y1="81.50" x2="458.20" y2="84.10" stroke="#231f20" stroke-width="1.0"/>
<text x="458.00" y="91.80" font-size="6.9" text-anchor="middle" fill="#231f20" stroke="#231f20" stroke-width="0.1">10<tspan font-size="4.69" dy="-2.9">3</tspan></text>
<line x1="473.30" y1="81.50" x2="473.30" y2="84.10" stroke="#231f20" stroke-width="1.0"/>
<text x="473.10" y="91.80" font-size="6.9" text-anchor="middle" fill="#231f20" stroke="#231f20" stroke-width="0.1">10<tspan font-size="4.69" dy="-2.9">4</tspan></text>
<line x1="488.40" y1="81.50" x2="488.40" y2="84.10" stroke="#231f20" stroke-width="1.0"/>
<text x="488.20" y="91.80" font-size="6.9" text-anchor="middle" fill="#231f20" stroke="#231f20" stroke-width="0.1">10<tspan font-size="4.69" dy="-2.9">5</tspan></text>
<line x1="503.50" y1="81.50" x2="503.50" y2="84.10" stroke="#231f20" stroke-width="1.0"/>
<text x="503.30" y="91.80" font-size="6.9" text-anchor="middle" fill="#231f20" stroke="#231f20" stroke-width="0.1">10<tspan font-size="4.69" dy="-2.9">6</tspan></text>
<line x1="447.65" y1="81.50" x2="447.65" y2="82.90" stroke="#231f20" stroke-width="0.6"/>
<line x1="450.30" y1="81.50" x2="450.30" y2="82.90" stroke="#231f20" stroke-width="0.6"/>
<line x1="452.19" y1="81.50" x2="452.19" y2="82.90" stroke="#231f20" stroke-width="0.6"/>
<line x1="453.65" y1="81.50" x2="453.65" y2="82.90" stroke="#231f20" stroke-width="0.6"/>
<line x1="454.85" y1="81.50" x2="454.85" y2="82.90" stroke="#231f20" stroke-width="0.6"/>
<line x1="455.86" y1="81.50" x2="455.86" y2="82.90" stroke="#231f20" stroke-width="0.6"/>
<line x1="456.74" y1="81.50" x2="456.74" y2="82.90" stroke="#231f20" stroke-width="0.6"/>
<line x1="457.51" y1="81.50" x2="457.51" y2="82.90" stroke="#231f20" stroke-width="0.6"/>
<line x1="462.75" y1="81.50" x2="462.75" y2="82.90" stroke="#231f20" stroke-width="0.6"/>
<line x1="465.40" y1="81.50" x2="465.40" y2="82.90" stroke="#231f20" stroke-width="0.6"/>
<line x1="467.29" y1="81.50" x2="467.29" y2="82.90" stroke="#231f20" stroke-width="0.6"/>
<line x1="468.75" y1="81.50" x2="468.75" y2="82.90" stroke="#231f20" stroke-width="0.6"/>
<line x1="469.95" y1="81.50" x2="469.95" y2="82.90" stroke="#231f20" stroke-width="0.6"/>
<line x1="470.96" y1="81.50" x2="470.96" y2="82.90" stroke="#231f20" stroke-width="0.6"/>
<line x1="471.84" y1="81.50" x2="471.84" y2="82.90" stroke="#231f20" stroke-width="0.6"/>
<line x1="472.61" y1="81.50" x2="472.61" y2="82.90" stroke="#231f20" stroke-width="0.6"/>
<line x1="477.85" y1="81.50" x2="477.85" y2="82.90" stroke="#231f20" stroke-width="0.6"/>
<line x1="480.50" y1="81.50" x2="480.50" y2="82.90" stroke="#231f20" stroke-width="0.6"/>
<line x1="482.39" y1="81.50" x2="482.39" y2="82.90" stroke="#231f20" stroke-width="0.6"/>
<line x1="483.85" y1="81.50" x2="483.85" y2="82.90" stroke="#231f20" stroke-width="0.6"/>
<line x1="485.05" y1="81.50" x2="485.05" y2="82.90" stroke="#231f20" stroke-width="0.6"/>
<line x1="486.06" y1="81.50" x2="486.06" y2="82.90" stroke="#231f20" stroke-width="0.6"/>
<line x1="486.94" y1="81.50" x2="486.94" y2="82.90" stroke="#231f20" stroke-width="0.6"/>
<line x1="487.71" y1="81.50" x2="487.71" y2="82.90" stroke="#231f20" stroke-width="0.6"/>
<line x1="492.95" y1="81.50" x2="492.95" y2="82.90" stroke="#231f20" stroke-width="0.6"/>
<line x1="495.60" y1="81.50" x2="495.60" y2="82.90" stroke="#231f20" stroke-width="0.6"/>
<line x1="497.49" y1="81.50" x2="497.49" y2="82.90" stroke="#231f20" stroke-width="0.6"/>
<line x1="498.95" y1="81.50" x2="498.95" y2="82.90" stroke="#231f20" stroke-width="0.6"/>
<line x1="500.15" y1="81.50" x2="500.15" y2="82.90" stroke="#231f20" stroke-width="0.6"/>
<line x1="501.16" y1="81.50" x2="501.16" y2="82.90" stroke="#231f20" stroke-width="0.6"/>
<line x1="502.04" y1="81.50" x2="502.04" y2="82.90" stroke="#231f20" stroke-width="0.6"/>
<line x1="502.81" y1="81.50" x2="502.81" y2="82.90" stroke="#231f20" stroke-width="0.6"/>
<text transform="translate(444.90,28.50)" font-size="3.3" text-anchor="start" fill="#4a4a4a">12.48%</text>
<text transform="translate(503.40,28.50)" font-size="3.3" text-anchor="end" fill="#4a4a4a">34.88%</text>
<text transform="translate(444.90,80.00)" font-size="3.3" text-anchor="start" fill="#4a4a4a">12.40%</text>
<text transform="translate(503.40,80.00)" font-size="3.3" text-anchor="end" fill="#4a4a4a">0.73%</text>
<text transform="translate(474.65,104.70)" font-size="9.4" text-anchor="middle" fill="#231f20" stroke="#231f20" stroke-width="0.5" textLength="22.00" lengthAdjust="spacingAndGlyphs">CD235a</text>
<text transform="translate(423.70,53.80) rotate(-90)" font-size="9.4" text-anchor="middle" fill="#231f20" stroke="#231f20" stroke-width="0.5" textLength="14.40" lengthAdjust="spacingAndGlyphs">CD71</text>
<g filter="url(#soft)"><rect x="259.3" y="155.7" width="1" height="1" fill="#e2e2e2"/><rect x="262.3" y="137.7" width="1" height="1" fill="#d0d0d0"/><rect x="261.3" y="135.7" width="1" height="1" fill="#dcdcdc"/><rect x="259.3" y="151.7" width="1" height="1" fill="#c4b4c8"/><rect x="262.3" y="132.7" width="1" height="1" fill="#e8dcea"/><rect x="262.3" y="133.7" width="1" height="1" fill="#e2e2e2"/><rect x="257.3" y="157.7" width="1" height="1" fill="#d0d0d0"/><rect x="261.3" y="139.7" width="1" height="1" fill="#dcdcdc"/><rect x="260.3" y="129.7" width="1" height="1" fill="#e8dcea"/><rect x="258.3" y="154.7" width="1" height="1" fill="#d0d0d0"/><rect x="260.3" y="157.7" width="1" height="1" fill="#dcdcdc"/><rect x="259.3" y="135.7" width="1" height="1" fill="#e2e2e2"/><rect x="258.3" y="127.7" width="1" height="1" fill="#e8dcea"/><rect x="262.3" y="134.7" width="1" height="1" fill="#e2e2e2"/><rect x="260.3" y="154.7" width="1" height="1" fill="#e6e6e6"/><rect x="257.3" y="138.7" width="1" height="1" fill="#e2e2e2"/><rect x="260.3" y="161.7" width="1" height="1" fill="#dcdcdc"/><rect x="261.3" y="157.7" width="1" height="1" fill="#e6e6e6"/><rect x="259.3" y="161.7" width="1" height="1" fill="#dcdcdc"/><rect x="257.3" y="142.7" width="1" height="1" fill="#e2e2e2"/><rect x="262.3" y="148.7" width="1" height="1" fill="#e8dcea"/><rect x="258.3" y="147.7" width="1" height="1" fill="#dcdcdc"/><rect x="257.3" y="155.7" width="1" height="1" fill="#dcdcdc"/><rect x="261.3" y="122.7" width="1" height="1" fill="#dcdcdc"/><rect x="259.3" y="134.7" width="1" height="1" fill="#dcdcdc"/><rect x="262.3" y="136.7" width="1" height="1" fill="#e6e6e6"/><rect x="259.3" y="142.7" width="1" height="1" fill="#d0d0d0"/><rect x="257.3" y="151.7" width="1" height="1" fill="#e2e2e2"/><rect x="259.3" y="148.7" width="1" height="1" fill="#e2e2e2"/><rect x="259.3" y="133.7" width="1" height="1" fill="#dcdcdc"/><rect x="260.3" y="155.7" width="1" height="1" fill="#e6e6e6"/><rect x="258.3" y="142.7" width="1" height="1" fill="#d0d0d0"/><rect x="259.3" y="157.7" width="1" height="1" fill="#c4b4c8"/><rect x="259.3" y="136.7" width="1" height="1" fill="#d0d0d0"/><rect x="261.3" y="145.7" width="1" height="1" fill="#dcdcdc"/><rect x="259.3" y="125.7" width="1" height="1" fill="#d0d0d0"/><rect x="260.3" y="139.7" width="1" height="1" fill="#d0d0d0"/><rect x="261.3" y="136.7" width="1" height="1" fill="#e8dcea"/><rect x="263.3" y="140.7" width="1" height="1" fill="#e8dcea"/><rect x="261.3" y="125.7" width="1" height="1" fill="#e2e2e2"/><rect x="258.3" y="124.7" width="1" height="1" fill="#e6e6e6"/><rect x="261.3" y="143.7" width="1" height="1" fill="#e8dcea"/><rect x="260.3" y="143.7" width="1" height="1" fill="#e8dcea"/><rect x="260.3" y="128.7" width="1" height="1" fill="#d0d0d0"/><rect x="260.3" y="125.7" width="1" height="1" fill="#e6e6e6"/><rect x="260.3" y="133.7" width="1" height="1" fill="#e6e6e6"/><rect x="259.3" y="144.7" width="1" height="1" fill="#e8dcea"/><rect x="260.3" y="153.7" width="1" height="1" fill="#dcdcdc"/><rect x="260.3" y="158.7" width="1" height="1" fill="#d0d0d0"/><rect x="257.3" y="153.7" width="1" height="1" fill="#d0d0d0"/><rect x="261.3" y="151.7" width="1" height="1" fill="#dcdcdc"/><rect x="261.3" y="140.7" width="1" height="1" fill="#e6e6e6"/><rect x="257.3" y="125.7" width="1" height="1" fill="#e8dcea"/><rect x="257.3" y="154.7" width="1" height="1" fill="#e8dcea"/><rect x="258.3" y="136.7" width="1" height="1" fill="#dcdcdc"/><rect x="257.3" y="152.7" width="1" height="1" fill="#e8dcea"/><rect x="258.3" y="132.7" width="1" height="1" fill="#d0d0d0"/><rect x="259.3" y="156.7" width="1" height="1" fill="#dcdcdc"/><rect x="262.3" y="128.7" width="1" height="1" fill="#e8dcea"/><rect x="262.3" y="153.7" width="1" height="1" fill="#e8dcea"/><rect x="259.3" y="132.7" width="1" height="1" fill="#e2e2e2"/><rect x="258.3" y="151.7" width="1" height="1" fill="#e6e6e6"/><rect x="259.3" y="154.7" width="1" height="1" fill="#e8dcea"/><rect x="259.3" y="140.7" width="1" height="1" fill="#dcdcdc"/><rect x="261.3" y="156.7" width="1" height="1" fill="#e2e2e2"/><rect x="257.3" y="145.7" width="1" height="1" fill="#dcdcdc"/><rect x="261.3" y="131.7" width="1" height="1" fill="#e6e6e6"/><rect x="262.3" y="149.7" width="1" height="1" fill="#e2e2e2"/><rect x="261.3" y="149.7" width="1" height="1" fill="#e6e6e6"/><rect x="256.3" y="146.7" width="1" height="1" fill="#dcdcdc"/><rect x="258.3" y="155.7" width="1" height="1" fill="#e8dcea"/><rect x="261.3" y="150.7" width="1" height="1" fill="#dcdcdc"/><rect x="259.3" y="149.7" width="1" height="1" fill="#dcdcdc"/><rect x="259.3" y="141.7" width="1" height="1" fill="#e6e6e6"/><rect x="258.3" y="153.7" width="1" height="1" fill="#e8dcea"/><rect x="258.3" y="138.7" width="1" height="1" fill="#e8dcea"/><rect x="260.3" y="146.7" width="1" height="1" fill="#e8dcea"/><rect x="259.3" y="131.7" width="1" height="1" fill="#e6e6e6"/><rect x="262.3" y="141.7" width="1" height="1" fill="#d0d0d0"/><rect x="261.3" y="124.7" width="1" height="1" fill="#e8dcea"/><rect x="261.3" y="137.7" width="1" height="1" fill="#e2e2e2"/><rect x="257.3" y="141.7" width="1" height="1" fill="#e2e2e2"/><rect x="258.3" y="129.7" width="1" height="1" fill="#e6e6e6"/><rect x="295.3" y="133.7" width="1" height="1" fill="#e2e2e2"/><rect x="261.3" y="155.7" width="1" height="1" fill="#e6e6e6"/></g>
<g filter="url(#soft)"><rect x="257.3" y="146.7" width="1" height="1" fill="#e4e4e4"/><rect x="258.3" y="128.7" width="1" height="1" fill="#dedede"/><rect x="259.3" y="141.7" width="1" height="1" fill="#dcaae4"/><rect x="260.3" y="122.7" width="1" height="1" fill="#e8c8ea"/><rect x="259.3" y="123.7" width="1" height="1" fill="#e8e8e8"/><rect x="259.3" y="161.7" width="1" height="1" fill="#ecd0ee"/><rect x="261.3" y="131.7" width="1" height="1" fill="#dedede"/><rect x="259.3" y="137.7" width="1" height="1" fill="#dedede"/><rect x="259.3" y="152.7" width="1" height="1" fill="#e4e4e4"/><rect x="261.3" y="139.7" width="1" height="1" fill="#e4e4e4"/><rect x="260.3" y="128.7" width="1" height="1" fill="#e8c8ea"/><rect x="260.3" y="137.7" width="1" height="1" fill="#ecd0ee"/><rect x="258.3" y="143.7" width="1" height="1" fill="#e4e4e4"/><rect x="259.3" y="128.7" width="1" height="1" fill="#ecd0ee"/><rect x="260.3" y="147.7" width="1" height="1" fill="#dcaae4"/><rect x="261.3" y="125.7" width="1" height="1" fill="#dedede"/><rect x="259.3" y="139.7" width="1" height="1" fill="#dcaae4"/><rect x="258.3" y="148.7" width="1" height="1" fill="#e8c8ea"/><rect x="259.3" y="155.7" width="1" height="1" fill="#e8c8ea"/><rect x="261.3" y="140.7" width="1" height="1" fill="#e8e8e8"/><rect x="260.3" y="126.7" width="1" height="1" fill="#dedede"/><rect x="258.3" y="127.7" width="1" height="1" fill="#dedede"/><rect x="258.3" y="130.7" width="1" height="1" fill="#e8c8ea"/><rect x="260.3" y="131.7" width="1" height="1" fill="#ecd0ee"/><rect x="259.3" y="149.7" width="1" height="1" fill="#e8c8ea"/><rect x="260.3" y="152.7" width="1" height="1" fill="#ecd0ee"/><rect x="260.3" y="145.7" width="1" height="1" fill="#dcaae4"/><rect x="261.3" y="143.7" width="1" height="1" fill="#e8c8ea"/><rect x="260.3" y="129.7" width="1" height="1" fill="#e4e4e4"/><rect x="261.3" y="142.7" width="1" height="1" fill="#e8c8ea"/><rect x="262.3" y="129.7" width="1" height="1" fill="#dedede"/><rect x="258.3" y="132.7" width="1" height="1" fill="#dcaae4"/><rect x="262.3" y="132.7" width="1" height="1" fill="#e8e8e8"/><rect x="261.3" y="124.7" width="1" height="1" fill="#e4e4e4"/><rect x="259.3" y="133.7" width="1" height="1" fill="#ecd0ee"/><rect x="260.3" y="144.7" width="1" height="1" fill="#e4e4e4"/><rect x="258.3" y="144.7" width="1" height="1" fill="#e8c8ea"/><rect x="261.3" y="146.7" width="1" height="1" fill="#dedede"/><rect x="260.3" y="142.7" width="1" height="1" fill="#e8c8ea"/><rect x="262.3" y="125.7" width="1" height="1" fill="#e8c8ea"/><rect x="259.3" y="143.7" width="1" height="1" fill="#e4e4e4"/><rect x="259.3" y="144.7" width="1" height="1" fill="#e8c8ea"/><rect x="260.3" y="158.7" width="1" height="1" fill="#e4e4e4"/><rect x="258.3" y="154.7" width="1" height="1" fill="#dedede"/><rect x="259.3" y="131.7" width="1" height="1" fill="#ecd0ee"/></g>
<rect x="252.30" y="116.70" width="61.30" height="57.50" fill="none" stroke="#b4b4b4" stroke-width="0.7"/>
<line x1="267.20" y1="116.70" x2="267.20" y2="174.20" stroke="#808080" stroke-width="0.85"/>
<line x1="252.30" y1="134.30" x2="313.60" y2="134.30" stroke="#808080" stroke-width="0.85"/>
<line x1="252.30" y1="116.10" x2="252.30" y2="174.80" stroke="#231f20" stroke-width="1.4"/>
<line x1="251.70" y1="174.20" x2="314.00" y2="174.20" stroke="#231f20" stroke-width="1.4"/>
<line x1="249.70" y1="116.70" x2="252.30" y2="116.70" stroke="#231f20" stroke-width="1.0"/>
<text x="247.70" y="119.30" font-size="6.9" text-anchor="end" fill="#231f20" stroke="#231f20" stroke-width="0.1">10<tspan font-size="4.69" dy="-2.9">6</tspan></text>
<line x1="249.70" y1="131.03" x2="252.30" y2="131.03" stroke="#231f20" stroke-width="1.0"/>
<text x="247.70" y="133.63" font-size="6.9" text-anchor="end" fill="#231f20" stroke="#231f20" stroke-width="0.1">10<tspan font-size="4.69" dy="-2.9">5</tspan></text>
<line x1="249.70" y1="145.37" x2="252.30" y2="145.37" stroke="#231f20" stroke-width="1.0"/>
<text x="247.70" y="147.97" font-size="6.9" text-anchor="end" fill="#231f20" stroke="#231f20" stroke-width="0.1">10<tspan font-size="4.69" dy="-2.9">4</tspan></text>
<line x1="249.70" y1="159.70" x2="252.30" y2="159.70" stroke="#231f20" stroke-width="1.0"/>
<text x="247.70" y="162.30" font-size="6.9" text-anchor="end" fill="#231f20" stroke="#231f20" stroke-width="0.1">10<tspan font-size="4.69" dy="-2.9">3</tspan></text>
<line x1="250.90" y1="126.72" x2="252.30" y2="126.72" stroke="#231f20" stroke-width="0.6"/>
<line x1="250.90" y1="124.19" x2="252.30" y2="124.19" stroke="#231f20" stroke-width="0.6"/>
<line x1="250.90" y1="122.40" x2="252.30" y2="122.40" stroke="#231f20" stroke-width="0.6"/>
<line x1="250.90" y1="121.01" x2="252.30" y2="121.01" stroke="#231f20" stroke-width="0.6"/>
<line x1="250.90" y1="119.88" x2="252.30" y2="119.88" stroke="#231f20" stroke-width="0.6"/>
<line x1="250.90" y1="118.92" x2="252.30" y2="118.92" stroke="#231f20" stroke-width="0.6"/>
<line x1="250.90" y1="118.09" x2="252.30" y2="118.09" stroke="#231f20" stroke-width="0.6"/>
<line x1="250.90" y1="117.36" x2="252.30" y2="117.36" stroke="#231f20" stroke-width="0.6"/>
<line x1="250.90" y1="141.05" x2="252.30" y2="141.05" stroke="#231f20" stroke-width="0.6"/>
<line x1="250.90" y1="138.53" x2="252.30" y2="138.53" stroke="#231f20" stroke-width="0.6"/>
<line x1="250.90" y1="136.74" x2="252.30" y2="136.74" stroke="#231f20" stroke-width="0.6"/>
<line x1="250.90" y1="135.35" x2="252.30" y2="135.35" stroke="#231f20" stroke-width="0.6"/>
<line x1="250.90" y1="134.21" x2="252.30" y2="134.21" stroke="#231f20" stroke-width="0.6"/>
<line x1="250.90" y1="133.25" x2="252.30" y2="133.25" stroke="#231f20" stroke-width="0.6"/>
<line x1="250.90" y1="132.42" x2="252.30" y2="132.42" stroke="#231f20" stroke-width="0.6"/>
<line x1="250.90" y1="131.69" x2="252.30" y2="131.69" stroke="#231f20" stroke-width="0.6"/>
<line x1="250.90" y1="155.39" x2="252.30" y2="155.39" stroke="#231f20" stroke-width="0.6"/>
<line x1="250.90" y1="152.86" x2="252.30" y2="152.86" stroke="#231f20" stroke-width="0.6"/>
<line x1="250.90" y1="151.07" x2="252.30" y2="151.07" stroke="#231f20" stroke-width="0.6"/>
<line x1="250.90" y1="149.68" x2="252.30" y2="149.68" stroke="#231f20" stroke-width="0.6"/>
<line x1="250.90" y1="148.55" x2="252.30" y2="148.55" stroke="#231f20" stroke-width="0.6"/>
<line x1="250.90" y1="147.59" x2="252.30" y2="147.59" stroke="#231f20" stroke-width="0.6"/>
<line x1="250.90" y1="146.76" x2="252.30" y2="146.76" stroke="#231f20" stroke-width="0.6"/>
<line x1="250.90" y1="146.02" x2="252.30" y2="146.02" stroke="#231f20" stroke-width="0.6"/>
<line x1="250.90" y1="169.72" x2="252.30" y2="169.72" stroke="#231f20" stroke-width="0.6"/>
<line x1="250.90" y1="167.19" x2="252.30" y2="167.19" stroke="#231f20" stroke-width="0.6"/>
<line x1="250.90" y1="165.40" x2="252.30" y2="165.40" stroke="#231f20" stroke-width="0.6"/>
<line x1="250.90" y1="164.01" x2="252.30" y2="164.01" stroke="#231f20" stroke-width="0.6"/>
<line x1="250.90" y1="162.88" x2="252.30" y2="162.88" stroke="#231f20" stroke-width="0.6"/>
<line x1="250.90" y1="161.92" x2="252.30" y2="161.92" stroke="#231f20" stroke-width="0.6"/>
<line x1="250.90" y1="161.09" x2="252.30" y2="161.09" stroke="#231f20" stroke-width="0.6"/>
<line x1="250.90" y1="160.36" x2="252.30" y2="160.36" stroke="#231f20" stroke-width="0.6"/>
<line x1="267.20" y1="174.20" x2="267.20" y2="176.80" stroke="#231f20" stroke-width="1.0"/>
<text x="267.00" y="184.50" font-size="6.9" text-anchor="middle" fill="#231f20" stroke="#231f20" stroke-width="0.1">10<tspan font-size="4.69" dy="-2.9">3</tspan></text>
<line x1="282.30" y1="174.20" x2="282.30" y2="176.80" stroke="#231f20" stroke-width="1.0"/>
<text x="282.10" y="184.50" font-size="6.9" text-anchor="middle" fill="#231f20" stroke="#231f20" stroke-width="0.1">10<tspan font-size="4.69" dy="-2.9">4</tspan></text>
<line x1="297.40" y1="174.20" x2="297.40" y2="176.80" stroke="#231f20" stroke-width="1.0"/>
<text x="297.20" y="184.50" font-size="6.9" text-anchor="middle" fill="#231f20" stroke="#231f20" stroke-width="0.1">10<tspan font-size="4.69" dy="-2.9">5</tspan></text>
<line x1="312.50" y1="174.20" x2="312.50" y2="176.80" stroke="#231f20" stroke-width="1.0"/>
<text x="312.30" y="184.50" font-size="6.9" text-anchor="middle" fill="#231f20" stroke="#231f20" stroke-width="0.1">10<tspan font-size="4.69" dy="-2.9">6</tspan></text>
<line x1="256.65" y1="174.20" x2="256.65" y2="175.60" stroke="#231f20" stroke-width="0.6"/>
<line x1="259.30" y1="174.20" x2="259.30" y2="175.60" stroke="#231f20" stroke-width="0.6"/>
<line x1="261.19" y1="174.20" x2="261.19" y2="175.60" stroke="#231f20" stroke-width="0.6"/>
<line x1="262.65" y1="174.20" x2="262.65" y2="175.60" stroke="#231f20" stroke-width="0.6"/>
<line x1="263.85" y1="174.20" x2="263.85" y2="175.60" stroke="#231f20" stroke-width="0.6"/>
<line x1="264.86" y1="174.20" x2="264.86" y2="175.60" stroke="#231f20" stroke-width="0.6"/>
<line x1="265.74" y1="174.20" x2="265.74" y2="175.60" stroke="#231f20" stroke-width="0.6"/>
<line x1="266.51" y1="174.20" x2="266.51" y2="175.60" stroke="#231f20" stroke-width="0.6"/>
<line x1="271.75" y1="174.20" x2="271.75" y2="175.60" stroke="#231f20" stroke-width="0.6"/>
<line x1="274.40" y1="174.20" x2="274.40" y2="175.60" stroke="#231f20" stroke-width="0.6"/>
<line x1="276.29" y1="174.20" x2="276.29" y2="175.60" stroke="#231f20" stroke-width="0.6"/>
<line x1="277.75" y1="174.20" x2="277.75" y2="175.60" stroke="#231f20" stroke-width="0.6"/>
<line x1="278.95" y1="174.20" x2="278.95" y2="175.60" stroke="#231f20" stroke-width="0.6"/>
<line x1="279.96" y1="174.20" x2="279.96" y2="175.60" stroke="#231f20" stroke-width="0.6"/>
<line x1="280.84" y1="174.20" x2="280.84" y2="175.60" stroke="#231f20" stroke-width="0.6"/>
<line x1="281.61" y1="174.20" x2="281.61" y2="175.60" stroke="#231f20" stroke-width="0.6"/>
<line x1="286.85" y1="174.20" x2="286.85" y2="175.60" stroke="#231f20" stroke-width="0.6"/>
<line x1="289.50" y1="174.20" x2="289.50" y2="175.60" stroke="#231f20" stroke-width="0.6"/>
<line x1="291.39" y1="174.20" x2="291.39" y2="175.60" stroke="#231f20" stroke-width="0.6"/>
<line x1="292.85" y1="174.20" x2="292.85" y2="175.60" stroke="#231f20" stroke-width="0.6"/>
<line x1="294.05" y1="174.20" x2="294.05" y2="175.60" stroke="#231f20" stroke-width="0.6"/>
<line x1="295.06" y1="174.20" x2="295.06" y2="175.60" stroke="#231f20" stroke-width="0.6"/>
<line x1="295.94" y1="174.20" x2="295.94" y2="175.60" stroke="#231f20" stroke-width="0.6"/>
<line x1="296.71" y1="174.20" x2="296.71" y2="175.60" stroke="#231f20" stroke-width="0.6"/>
<line x1="301.95" y1="174.20" x2="301.95" y2="175.60" stroke="#231f20" stroke-width="0.6"/>
<line x1="304.60" y1="174.20" x2="304.60" y2="175.60" stroke="#231f20" stroke-width="0.6"/>
<line x1="306.49" y1="174.20" x2="306.49" y2="175.60" stroke="#231f20" stroke-width="0.6"/>
<line x1="307.95" y1="174.20" x2="307.95" y2="175.60" stroke="#231f20" stroke-width="0.6"/>
<line x1="309.15" y1="174.20" x2="309.15" y2="175.60" stroke="#231f20" stroke-width="0.6"/>
<line x1="310.16" y1="174.20" x2="310.16" y2="175.60" stroke="#231f20" stroke-width="0.6"/>
<line x1="311.04" y1="174.20" x2="311.04" y2="175.60" stroke="#231f20" stroke-width="0.6"/>
<line x1="311.81" y1="174.20" x2="311.81" y2="175.60" stroke="#231f20" stroke-width="0.6"/>
<text transform="translate(253.50,120.70)" font-size="3.3" text-anchor="start" fill="#4a4a4a">38.79%</text>
<text transform="translate(312.40,120.70)" font-size="3.3" text-anchor="end" fill="#4a4a4a">0.30%</text>
<text transform="translate(253.50,172.70)" font-size="3.3" text-anchor="start" fill="#4a4a4a">15.52%</text>
<text transform="translate(312.40,172.70)" font-size="3.3" text-anchor="end" fill="#4a4a4a">0.30%</text>
<text transform="translate(283.45,197.40)" font-size="9.4" text-anchor="middle" fill="#231f20" stroke="#231f20" stroke-width="0.5" textLength="22.00" lengthAdjust="spacingAndGlyphs">CD235a</text>
<text transform="translate(232.30,146.25) rotate(-90)" font-size="9.4" text-anchor="middle" fill="#231f20" stroke="#231f20" stroke-width="0.5" textLength="14.40" lengthAdjust="spacingAndGlyphs">CD71</text>
<g filter="url(#soft)"><rect x="354.2" y="158.7" width="1" height="1" fill="#c4b4c8"/><rect x="358.2" y="132.7" width="1" height="1" fill="#e8dcea"/><rect x="356.2" y="150.7" width="1" height="1" fill="#d0d0d0"/><rect x="353.2" y="139.7" width="1" height="1" fill="#dcdcdc"/><rect x="361.2" y="147.7" width="1" height="1" fill="#e8dcea"/><rect x="357.2" y="160.7" width="1" height="1" fill="#d0d0d0"/><rect x="358.2" y="130.7" width="1" height="1" fill="#c4b4c8"/><rect x="356.2" y="163.7" width="1" height="1" fill="#e2e2e2"/><rect x="353.2" y="151.7" width="1" height="1" fill="#dcdcdc"/><rect x="353.2" y="137.7" width="1" height="1" fill="#c4b4c8"/><rect x="353.2" y="141.7" width="1" height="1" fill="#e2e2e2"/><rect x="351.2" y="159.7" width="1" height="1" fill="#e2e2e2"/><rect x="354.2" y="148.7" width="1" height="1" fill="#e2e2e2"/><rect x="356.2" y="157.7" width="1" height="1" fill="#e2e2e2"/><rect x="355.2" y="138.7" width="1" height="1" fill="#e2e2e2"/><rect x="355.2" y="165.7" width="1" height="1" fill="#e2e2e2"/><rect x="356.2" y="156.7" width="1" height="1" fill="#d0d0d0"/><rect x="356.2" y="131.7" width="1" height="1" fill="#d0d0d0"/><rect x="355.2" y="149.7" width="1" height="1" fill="#e8dcea"/><rect x="357.2" y="136.7" width="1" height="1" fill="#c4b4c8"/><rect x="357.2" y="159.7" width="1" height="1" fill="#e6e6e6"/><rect x="358.2" y="138.7" width="1" height="1" fill="#e6e6e6"/><rect x="352.2" y="147.7" width="1" height="1" fill="#e2e2e2"/><rect x="357.2" y="141.7" width="1" height="1" fill="#e6e6e6"/><rect x="355.2" y="142.7" width="1" height="1" fill="#e8dcea"/><rect x="358.2" y="140.7" width="1" height="1" fill="#e6e6e6"/><rect x="352.2" y="151.7" width="1" height="1" fill="#e8dcea"/><rect x="353.2" y="164.7" width="1" height="1" fill="#e8dcea"/><rect x="355.2" y="152.7" width="1" height="1" fill="#c4b4c8"/><rect x="357.2" y="153.7" width="1" height="1" fill="#dcdcdc"/><rect x="355.2" y="146.7" width="1" height="1" fill="#e2e2e2"/><rect x="355.2" y="143.7" width="1" height="1" fill="#e2e2e2"/><rect x="357.2" y="134.7" width="1" height="1" fill="#dcdcdc"/><rect x="356.2" y="129.7" width="1" height="1" fill="#d0d0d0"/><rect x="354.2" y="139.7" width="1" height="1" fill="#e8dcea"/><rect x="355.2" y="145.7" width="1" height="1" fill="#c4b4c8"/><rect x="351.2" y="147.7" width="1" height="1" fill="#dcdcdc"/><rect x="353.2" y="161.7" width="1" height="1" fill="#d0d0d0"/><rect x="354.2" y="162.7" width="1" height="1" fill="#d0d0d0"/><rect x="360.2" y="125.7" width="1" height="1" fill="#dcdcdc"/><rect x="354.2" y="154.7" width="1" height="1" fill="#d0d0d0"/><rect x="358.2" y="139.7" width="1" height="1" fill="#e6e6e6"/><rect x="355.2" y="158.7" width="1" height="1" fill="#e6e6e6"/><rect x="355.2" y="130.7" width="1" height="1" fill="#e6e6e6"/><rect x="357.2" y="149.7" width="1" height="1" fill="#e8dcea"/><rect x="357.2" y="139.7" width="1" height="1" fill="#d0d0d0"/><rect x="354.2" y="142.7" width="1" height="1" fill="#e6e6e6"/><rect x="352.2" y="164.7" width="1" height="1" fill="#dcdcdc"/><rect x="359.2" y="150.7" width="1" height="1" fill="#e2e2e2"/><rect x="358.2" y="129.7" width="1" height="1" fill="#e2e2e2"/><rect x="354.2" y="157.7" width="1" height="1" fill="#e8dcea"/><rect x="354.2" y="150.7" width="1" height="1" fill="#e8dcea"/><rect x="356.2" y="142.7" width="1" height="1" fill="#dcdcdc"/><rect x="356.2" y="139.7" width="1" height="1" fill="#e2e2e2"/><rect x="351.2" y="155.7" width="1" height="1" fill="#e8dcea"/><rect x="356.2" y="145.7" width="1" height="1" fill="#d0d0d0"/><rect x="359.2" y="141.7" width="1" height="1" fill="#e2e2e2"/><rect x="352.2" y="159.7" width="1" height="1" fill="#d0d0d0"/><rect x="352.2" y="156.7" width="1" height="1" fill="#e8dcea"/><rect x="357.2" y="165.7" width="1" height="1" fill="#e6e6e6"/><rect x="354.2" y="131.7" width="1" height="1" fill="#e2e2e2"/><rect x="354.2" y="161.7" width="1" height="1" fill="#e2e2e2"/><rect x="356.2" y="140.7" width="1" height="1" fill="#d0d0d0"/><rect x="356.2" y="149.7" width="1" height="1" fill="#dcdcdc"/><rect x="353.2" y="162.7" width="1" height="1" fill="#e2e2e2"/><rect x="356.2" y="146.7" width="1" height="1" fill="#d0d0d0"/><rect x="356.2" y="133.7" width="1" height="1" fill="#e2e2e2"/><rect x="353.2" y="155.7" width="1" height="1" fill="#d0d0d0"/><rect x="357.2" y="140.7" width="1" height="1" fill="#e8dcea"/><rect x="359.2" y="140.7" width="1" height="1" fill="#e6e6e6"/><rect x="356.2" y="151.7" width="1" height="1" fill="#dcdcdc"/><rect x="356.2" y="154.7" width="1" height="1" fill="#dcdcdc"/><rect x="354.2" y="147.7" width="1" height="1" fill="#e2e2e2"/><rect x="358.2" y="133.7" width="1" height="1" fill="#e2e2e2"/><rect x="357.2" y="129.7" width="1" height="1" fill="#e2e2e2"/><rect x="356.2" y="153.7" width="1" height="1" fill="#e8dcea"/><rect x="360.2" y="145.7" width="1" height="1" fill="#e8dcea"/><rect x="356.2" y="126.7" width="1" height="1" fill="#dcdcdc"/><rect x="352.2" y="155.7" width="1" height="1" fill="#e6e6e6"/><rect x="357.2" y="146.7" width="1" height="1" fill="#e6e6e6"/><rect x="357.2" y="155.7" width="1" height="1" fill="#e8dcea"/><rect x="355.2" y="147.7" width="1" height="1" fill="#e2e2e2"/><rect x="357.2" y="162.7" width="1" height="1" fill="#d0d0d0"/><rect x="351.2" y="149.7" width="1" height="1" fill="#dcdcdc"/><rect x="351.2" y="144.7" width="1" height="1" fill="#dcdcdc"/><rect x="356.2" y="137.7" width="1" height="1" fill="#dcdcdc"/><rect x="355.2" y="153.7" width="1" height="1" fill="#e2e2e2"/><rect x="351.2" y="158.7" width="1" height="1" fill="#e6e6e6"/><rect x="355.2" y="155.7" width="1" height="1" fill="#e2e2e2"/><rect x="360.2" y="141.7" width="1" height="1" fill="#e2e2e2"/><rect x="352.2" y="131.7" width="1" height="1" fill="#dcdcdc"/><rect x="353.2" y="146.7" width="1" height="1" fill="#e6e6e6"/><rect x="355.2" y="129.7" width="1" height="1" fill="#dcdcdc"/><rect x="359.2" y="126.7" width="1" height="1" fill="#dcdcdc"/><rect x="359.2" y="148.7" width="1" height="1" fill="#dcdcdc"/><rect x="356.2" y="147.7" width="1" height="1" fill="#e8dcea"/><rect x="353.2" y="165.7" width="1" height="1" fill="#e2e2e2"/><rect x="359.2" y="133.7" width="1" height="1" fill="#dcdcdc"/><rect x="354.2" y="155.7" width="1" height="1" fill="#e2e2e2"/><rect x="355.2" y="151.7" width="1" height="1" fill="#e8dcea"/><rect x="357.2" y="147.7" width="1" height="1" fill="#dcdcdc"/><rect x="353.2" y="142.7" width="1" height="1" fill="#e8dcea"/><rect x="370.2" y="121.7" width="1" height="1" fill="#e6e6e6"/><rect x="363.2" y="130.7" width="1" height="1" fill="#e2e2e2"/><rect x="371.2" y="120.7" width="1" height="1" fill="#e8dcea"/><rect x="362.2" y="131.7" width="1" height="1" fill="#e8dcea"/><rect x="379.2" y="125.7" width="1" height="1" fill="#e6e6e6"/><rect x="367.2" y="123.7" width="1" height="1" fill="#d0d0d0"/><rect x="371.2" y="128.7" width="1" height="1" fill="#e2e2e2"/><rect x="369.2" y="123.7" width="1" height="1" fill="#e2e2e2"/><rect x="360.2" y="121.7" width="1" height="1" fill="#e8dcea"/><rect x="362.2" y="119.7" width="1" height="1" fill="#dcdcdc"/><rect x="369.2" y="122.7" width="1" height="1" fill="#d0d0d0"/><rect x="375.2" y="125.7" width="1" height="1" fill="#d0d0d0"/><rect x="367.2" y="130.7" width="1" height="1" fill="#e2e2e2"/><rect x="371.2" y="122.7" width="1" height="1" fill="#e8dcea"/><rect x="367.2" y="122.7" width="1" height="1" fill="#e6e6e6"/><rect x="365.2" y="124.7" width="1" height="1" fill="#d0d0d0"/><rect x="365.2" y="123.7" width="1" height="1" fill="#dcdcdc"/><rect x="366.2" y="124.7" width="1" height="1" fill="#d0d0d0"/><rect x="373.2" y="122.7" width="1" height="1" fill="#dcdcdc"/><rect x="365.2" y="126.7" width="1" height="1" fill="#e6e6e6"/><rect x="368.2" y="121.7" width="1" height="1" fill="#e8dcea"/><rect x="364.2" y="127.7" width="1" height="1" fill="#d0d0d0"/><rect x="372.2" y="124.7" width="1" height="1" fill="#e2e2e2"/><rect x="367.2" y="125.7" width="1" height="1" fill="#e2e2e2"/><rect x="371.2" y="125.7" width="1" height="1" fill="#c4b4c8"/><rect x="364.2" y="126.7" width="1" height="1" fill="#e6e6e6"/><rect x="366.2" y="128.7" width="1" height="1" fill="#d0d0d0"/><rect x="367.2" y="131.7" width="1" height="1" fill="#e6e6e6"/><rect x="372.2" y="122.7" width="1" height="1" fill="#dcdcdc"/><rect x="368.2" y="127.7" width="1" height="1" fill="#e8dcea"/><rect x="375.2" y="122.7" width="1" height="1" fill="#dcdcdc"/><rect x="366.2" y="125.7" width="1" height="1" fill="#e6e6e6"/><rect x="370.2" y="122.7" width="1" height="1" fill="#e2e2e2"/><rect x="367.2" y="121.7" width="1" height="1" fill="#d0d0d0"/><rect x="370.2" y="117.7" width="1" height="1" fill="#e6e6e6"/><rect x="363.2" y="120.7" width="1" height="1" fill="#e2e2e2"/><rect x="365.2" y="122.7" width="1" height="1" fill="#e8dcea"/><rect x="370.2" y="118.7" width="1" height="1" fill="#e2e2e2"/><rect x="360.2" y="126.7" width="1" height="1" fill="#e8dcea"/><rect x="373.2" y="124.7" width="1" height="1" fill="#e8dcea"/><rect x="362.2" y="120.7" width="1" height="1" fill="#dcdcdc"/><rect x="370.2" y="124.7" width="1" height="1" fill="#e2e2e2"/><rect x="367.2" y="120.7" width="1" height="1" fill="#dcdcdc"/><rect x="370.2" y="125.7" width="1" height="1" fill="#e6e6e6"/><rect x="366.2" y="123.7" width="1" height="1" fill="#dcdcdc"/><rect x="369.2" y="120.7" width="1" height="1" fill="#e6e6e6"/><rect x="367.2" y="129.7" width="1" height="1" fill="#e2e2e2"/><rect x="374.2" y="120.7" width="1" height="1" fill="#e6e6e6"/><rect x="371.2" y="124.7" width="1" height="1" fill="#dcdcdc"/><rect x="394.2" y="131.7" width="1" height="1" fill="#e6e6e6"/><rect x="379.2" y="142.7" width="1" height="1" fill="#e6e6e6"/></g>
<g filter="url(#soft)"><rect x="354.2" y="148.7" width="1" height="1" fill="#dcaae4"/><rect x="356.2" y="145.7" width="1" height="1" fill="#dcaae4"/><rect x="357.2" y="146.7" width="1" height="1" fill="#e8c8ea"/><rect x="354.2" y="145.7" width="1" height="1" fill="#dcaae4"/><rect x="353.2" y="146.7" width="1" height="1" fill="#e8c8ea"/><rect x="353.2" y="141.7" width="1" height="1" fill="#e8c8ea"/><rect x="353.2" y="140.7" width="1" height="1" fill="#ecd0ee"/><rect x="358.2" y="135.7" width="1" height="1" fill="#dcaae4"/><rect x="355.2" y="142.7" width="1" height="1" fill="#cc88dc"/><rect x="357.2" y="136.7" width="1" height="1" fill="#dcaae4"/><rect x="354.2" y="147.7" width="1" height="1" fill="#dedede"/><rect x="355.2" y="148.7" width="1" height="1" fill="#e8e8e8"/><rect x="357.2" y="143.7" width="1" height="1" fill="#cc88dc"/><rect x="355.2" y="135.7" width="1" height="1" fill="#dcaae4"/><rect x="355.2" y="147.7" width="1" height="1" fill="#dcaae4"/><rect x="356.2" y="150.7" width="1" height="1" fill="#dcaae4"/><rect x="355.2" y="152.7" width="1" height="1" fill="#dcaae4"/><rect x="357.2" y="139.7" width="1" height="1" fill="#e8c8ea"/><rect x="356.2" y="152.7" width="1" height="1" fill="#e8e8e8"/><rect x="353.2" y="152.7" width="1" height="1" fill="#dcaae4"/><rect x="357.2" y="125.7" width="1" height="1" fill="#e8e8e8"/><rect x="357.2" y="131.7" width="1" height="1" fill="#e8c8ea"/><rect x="356.2" y="140.7" width="1" height="1" fill="#cc88dc"/><rect x="354.2" y="146.7" width="1" height="1" fill="#cc88dc"/><rect x="358.2" y="126.7" width="1" height="1" fill="#dedede"/><rect x="358.2" y="129.7" width="1" height="1" fill="#ecd0ee"/><rect x="355.2" y="145.7" width="1" height="1" fill="#cc88dc"/><rect x="358.2" y="141.7" width="1" height="1" fill="#ecd0ee"/><rect x="359.2" y="137.7" width="1" height="1" fill="#dcaae4"/><rect x="355.2" y="144.7" width="1" height="1" fill="#cc88dc"/><rect x="354.2" y="159.7" width="1" height="1" fill="#e4e4e4"/><rect x="356.2" y="131.7" width="1" height="1" fill="#dcaae4"/><rect x="356.2" y="149.7" width="1" height="1" fill="#dcaae4"/><rect x="355.2" y="150.7" width="1" height="1" fill="#e8c8ea"/><rect x="355.2" y="151.7" width="1" height="1" fill="#dedede"/><rect x="356.2" y="133.7" width="1" height="1" fill="#dcaae4"/><rect x="357.2" y="150.7" width="1" height="1" fill="#e8c8ea"/><rect x="356.2" y="132.7" width="1" height="1" fill="#e8c8ea"/><rect x="359.2" y="131.7" width="1" height="1" fill="#dedede"/><rect x="356.2" y="138.7" width="1" height="1" fill="#dcaae4"/><rect x="357.2" y="142.7" width="1" height="1" fill="#cc88dc"/><rect x="357.2" y="127.7" width="1" height="1" fill="#dedede"/><rect x="356.2" y="137.7" width="1" height="1" fill="#dcaae4"/><rect x="357.2" y="140.7" width="1" height="1" fill="#dcaae4"/><rect x="356.2" y="127.7" width="1" height="1" fill="#e8e8e8"/><rect x="354.2" y="152.7" width="1" height="1" fill="#e8e8e8"/><rect x="355.2" y="141.7" width="1" height="1" fill="#cc88dc"/><rect x="358.2" y="137.7" width="1" height="1" fill="#e8e8e8"/><rect x="357.2" y="124.7" width="1" height="1" fill="#e8e8e8"/><rect x="358.2" y="130.7" width="1" height="1" fill="#ecd0ee"/><rect x="354.2" y="143.7" width="1" height="1" fill="#e4e4e4"/><rect x="357.2" y="152.7" width="1" height="1" fill="#e8e8e8"/><rect x="357.2" y="138.7" width="1" height="1" fill="#dcaae4"/><rect x="356.2" y="144.7" width="1" height="1" fill="#b860d4"/><rect x="359.2" y="130.7" width="1" height="1" fill="#e8e8e8"/><rect x="355.2" y="155.7" width="1" height="1" fill="#dedede"/><rect x="355.2" y="146.7" width="1" height="1" fill="#dcaae4"/><rect x="358.2" y="133.7" width="1" height="1" fill="#e8e8e8"/><rect x="354.2" y="133.7" width="1" height="1" fill="#e8c8ea"/><rect x="355.2" y="136.7" width="1" height="1" fill="#cc88dc"/><rect x="356.2" y="136.7" width="1" height="1" fill="#dcaae4"/><rect x="352.2" y="155.7" width="1" height="1" fill="#ecd0ee"/><rect x="353.2" y="143.7" width="1" height="1" fill="#dcaae4"/><rect x="356.2" y="134.7" width="1" height="1" fill="#dcaae4"/><rect x="355.2" y="138.7" width="1" height="1" fill="#e4e4e4"/><rect x="354.2" y="140.7" width="1" height="1" fill="#e8e8e8"/><rect x="357.2" y="149.7" width="1" height="1" fill="#dcaae4"/><rect x="353.2" y="138.7" width="1" height="1" fill="#e8e8e8"/><rect x="358.2" y="131.7" width="1" height="1" fill="#dcaae4"/><rect x="356.2" y="142.7" width="1" height="1" fill="#dedede"/><rect x="357.2" y="133.7" width="1" height="1" fill="#dcaae4"/><rect x="356.2" y="126.7" width="1" height="1" fill="#dcaae4"/><rect x="356.2" y="139.7" width="1" height="1" fill="#dedede"/><rect x="351.2" y="159.7" width="1" height="1" fill="#e4e4e4"/><rect x="354.2" y="139.7" width="1" height="1" fill="#ecd0ee"/><rect x="359.2" y="135.7" width="1" height="1" fill="#e8c8ea"/><rect x="357.2" y="135.7" width="1" height="1" fill="#dcaae4"/><rect x="355.2" y="149.7" width="1" height="1" fill="#e4e4e4"/><rect x="354.2" y="157.7" width="1" height="1" fill="#e8e8e8"/><rect x="356.2" y="148.7" width="1" height="1" fill="#e8c8ea"/><rect x="356.2" y="130.7" width="1" height="1" fill="#dedede"/><rect x="355.2" y="132.7" width="1" height="1" fill="#ecd0ee"/><rect x="359.2" y="126.7" width="1" height="1" fill="#dedede"/><rect x="354.2" y="151.7" width="1" height="1" fill="#e4e4e4"/><rect x="355.2" y="156.7" width="1" height="1" fill="#e8e8e8"/><rect x="357.2" y="154.7" width="1" height="1" fill="#dedede"/><rect x="354.2" y="153.7" width="1" height="1" fill="#dcaae4"/><rect x="354.2" y="134.7" width="1" height="1" fill="#ecd0ee"/><rect x="355.2" y="129.7" width="1" height="1" fill="#e8e8e8"/><rect x="354.2" y="155.7" width="1" height="1" fill="#e8e8e8"/><rect x="356.2" y="143.7" width="1" height="1" fill="#e8e8e8"/><rect x="353.2" y="139.7" width="1" height="1" fill="#e8c8ea"/><rect x="358.2" y="132.7" width="1" height="1" fill="#e8c8ea"/><rect x="358.2" y="146.7" width="1" height="1" fill="#dedede"/><rect x="352.2" y="158.7" width="1" height="1" fill="#e8e8e8"/><rect x="358.2" y="144.7" width="1" height="1" fill="#dedede"/></g>
<rect x="348.20" y="116.70" width="61.10" height="57.50" fill="none" stroke="#b4b4b4" stroke-width="0.7"/>
<line x1="362.50" y1="116.70" x2="362.50" y2="174.20" stroke="#808080" stroke-width="0.85"/>
<line x1="348.20" y1="134.30" x2="409.30" y2="134.30" stroke="#808080" stroke-width="0.85"/>
<line x1="348.20" y1="116.10" x2="348.20" y2="174.80" stroke="#231f20" stroke-width="1.4"/>
<line x1="347.60" y1="174.20" x2="409.70" y2="174.20" stroke="#231f20" stroke-width="1.4"/>
<line x1="345.60" y1="116.70" x2="348.20" y2="116.70" stroke="#231f20" stroke-width="1.0"/>
<text x="343.60" y="119.30" font-size="6.9" text-anchor="end" fill="#231f20" stroke="#231f20" stroke-width="0.1">10<tspan font-size="4.69" dy="-2.9">6</tspan></text>
<line x1="345.60" y1="131.03" x2="348.20" y2="131.03" stroke="#231f20" stroke-width="1.0"/>
<text x="343.60" y="133.63" font-size="6.9" text-anchor="end" fill="#231f20" stroke="#231f20" stroke-width="0.1">10<tspan font-size="4.69" dy="-2.9">5</tspan></text>
<line x1="345.60" y1="145.37" x2="348.20" y2="145.37" stroke="#231f20" stroke-width="1.0"/>
<text x="343.60" y="147.97" font-size="6.9" text-anchor="end" fill="#231f20" stroke="#231f20" stroke-width="0.1">10<tspan font-size="4.69" dy="-2.9">4</tspan></text>
<line x1="345.60" y1="159.70" x2="348.20" y2="159.70" stroke="#231f20" stroke-width="1.0"/>
<text x="343.60" y="162.30" font-size="6.9" text-anchor="end" fill="#231f20" stroke="#231f20" stroke-width="0.1">10<tspan font-size="4.69" dy="-2.9">3</tspan></text>
<line x1="346.80" y1="126.72" x2="348.20" y2="126.72" stroke="#231f20" stroke-width="0.6"/>
<line x1="346.80" y1="124.19" x2="348.20" y2="124.19" stroke="#231f20" stroke-width="0.6"/>
<line x1="346.80" y1="122.40" x2="348.20" y2="122.40" stroke="#231f20" stroke-width="0.6"/>
<line x1="346.80" y1="121.01" x2="348.20" y2="121.01" stroke="#231f20" stroke-width="0.6"/>
<line x1="346.80" y1="119.88" x2="348.20" y2="119.88" stroke="#231f20" stroke-width="0.6"/>
<line x1="346.80" y1="118.92" x2="348.20" y2="118.92" stroke="#231f20" stroke-width="0.6"/>
<line x1="346.80" y1="118.09" x2="348.20" y2="118.09" stroke="#231f20" stroke-width="0.6"/>
<line x1="346.80" y1="117.36" x2="348.20" y2="117.36" stroke="#231f20" stroke-width="0.6"/>
<line x1="346.80" y1="141.05" x2="348.20" y2="141.05" stroke="#231f20" stroke-width="0.6"/>
<line x1="346.80" y1="138.53" x2="348.20" y2="138.53" stroke="#231f20" stroke-width="0.6"/>
<line x1="346.80" y1="136.74" x2="348.20" y2="136.74" stroke="#231f20" stroke-width="0.6"/>
<line x1="346.80" y1="135.35" x2="348.20" y2="135.35" stroke="#231f20" stroke-width="0.6"/>
<line x1="346.80" y1="134.21" x2="348.20" y2="134.21" stroke="#231f20" stroke-width="0.6"/>
<line x1="346.80" y1="133.25" x2="348.20" y2="133.25" stroke="#231f20" stroke-width="0.6"/>
<line x1="346.80" y1="132.42" x2="348.20" y2="132.42" stroke="#231f20" stroke-width="0.6"/>
<line x1="346.80" y1="131.69" x2="348.20" y2="131.69" stroke="#231f20" stroke-width="0.6"/>
<line x1="346.80" y1="155.39" x2="348.20" y2="155.39" stroke="#231f20" stroke-width="0.6"/>
<line x1="346.80" y1="152.86" x2="348.20" y2="152.86" stroke="#231f20" stroke-width="0.6"/>
<line x1="346.80" y1="151.07" x2="348.20" y2="151.07" stroke="#231f20" stroke-width="0.6"/>
<line x1="346.80" y1="149.68" x2="348.20" y2="149.68" stroke="#231f20" stroke-width="0.6"/>
<line x1="346.80" y1="148.55" x2="348.20" y2="148.55" stroke="#231f20" stroke-width="0.6"/>
<line x1="346.80" y1="147.59" x2="348.20" y2="147.59" stroke="#231f20" stroke-width="0.6"/>
<line x1="346.80" y1="146.76" x2="348.20" y2="146.76" stroke="#231f20" stroke-width="0.6"/>
<line x1="346.80" y1="146.02" x2="348.20" y2="146.02" stroke="#231f20" stroke-width="0.6"/>
<line x1="346.80" y1="169.72" x2="348.20" y2="169.72" stroke="#231f20" stroke-width="0.6"/>
<line x1="346.80" y1="167.19" x2="348.20" y2="167.19" stroke="#231f20" stroke-width="0.6"/>
<line x1="346.80" y1="165.40" x2="348.20" y2="165.40" stroke="#231f20" stroke-width="0.6"/>
<line x1="346.80" y1="164.01" x2="348.20" y2="164.01" stroke="#231f20" stroke-width="0.6"/>
<line x1="346.80" y1="162.88" x2="348.20" y2="162.88" stroke="#231f20" stroke-width="0.6"/>
<line x1="346.80" y1="161.92" x2="348.20" y2="161.92" stroke="#231f20" stroke-width="0.6"/>
<line x1="346.80" y1="161.09" x2="348.20" y2="161.09" stroke="#231f20" stroke-width="0.6"/>
<line x1="346.80" y1="160.36" x2="348.20" y2="160.36" stroke="#231f20" stroke-width="0.6"/>
<line x1="362.50" y1="174.20" x2="362.50" y2="176.80" stroke="#231f20" stroke-width="1.0"/>
<text x="362.30" y="184.50" font-size="6.9" text-anchor="middle" fill="#231f20" stroke="#231f20" stroke-width="0.1">10<tspan font-size="4.69" dy="-2.9">3</tspan></text>
<line x1="377.60" y1="174.20" x2="377.60" y2="176.80" stroke="#231f20" stroke-width="1.0"/>
<text x="377.40" y="184.50" font-size="6.9" text-anchor="middle" fill="#231f20" stroke="#231f20" stroke-width="0.1">10<tspan font-size="4.69" dy="-2.9">4</tspan></text>
<line x1="392.70" y1="174.20" x2="392.70" y2="176.80" stroke="#231f20" stroke-width="1.0"/>
<text x="392.50" y="184.50" font-size="6.9" text-anchor="middle" fill="#231f20" stroke="#231f20" stroke-width="0.1">10<tspan font-size="4.69" dy="-2.9">5</tspan></text>
<line x1="407.80" y1="174.20" x2="407.80" y2="176.80" stroke="#231f20" stroke-width="1.0"/>
<text x="407.60" y="184.50" font-size="6.9" text-anchor="middle" fill="#231f20" stroke="#231f20" stroke-width="0.1">10<tspan font-size="4.69" dy="-2.9">6</tspan></text>
<line x1="351.95" y1="174.20" x2="351.95" y2="175.60" stroke="#231f20" stroke-width="0.6"/>
<line x1="354.60" y1="174.20" x2="354.60" y2="175.60" stroke="#231f20" stroke-width="0.6"/>
<line x1="356.49" y1="174.20" x2="356.49" y2="175.60" stroke="#231f20" stroke-width="0.6"/>
<line x1="357.95" y1="174.20" x2="357.95" y2="175.60" stroke="#231f20" stroke-width="0.6"/>
<line x1="359.15" y1="174.20" x2="359.15" y2="175.60" stroke="#231f20" stroke-width="0.6"/>
<line x1="360.16" y1="174.20" x2="360.16" y2="175.60" stroke="#231f20" stroke-width="0.6"/>
<line x1="361.04" y1="174.20" x2="361.04" y2="175.60" stroke="#231f20" stroke-width="0.6"/>
<line x1="361.81" y1="174.20" x2="361.81" y2="175.60" stroke="#231f20" stroke-width="0.6"/>
<line x1="367.05" y1="174.20" x2="367.05" y2="175.60" stroke="#231f20" stroke-width="0.6"/>
<line x1="369.70" y1="174.20" x2="369.70" y2="175.60" stroke="#231f20" stroke-width="0.6"/>
<line x1="371.59" y1="174.20" x2="371.59" y2="175.60" stroke="#231f20" stroke-width="0.6"/>
<line x1="373.05" y1="174.20" x2="373.05" y2="175.60" stroke="#231f20" stroke-width="0.6"/>
<line x1="374.25" y1="174.20" x2="374.25" y2="175.60" stroke="#231f20" stroke-width="0.6"/>
<line x1="375.26" y1="174.20" x2="375.26" y2="175.60" stroke="#231f20" stroke-width="0.6"/>
<line x1="376.14" y1="174.20" x2="376.14" y2="175.60" stroke="#231f20" stroke-width="0.6"/>
<line x1="376.91" y1="174.20" x2="376.91" y2="175.60" stroke="#231f20" stroke-width="0.6"/>
<line x1="382.15" y1="174.20" x2="382.15" y2="175.60" stroke="#231f20" stroke-width="0.6"/>
<line x1="384.80" y1="174.20" x2="384.80" y2="175.60" stroke="#231f20" stroke-width="0.6"/>
<line x1="386.69" y1="174.20" x2="386.69" y2="175.60" stroke="#231f20" stroke-width="0.6"/>
<line x1="388.15" y1="174.20" x2="388.15" y2="175.60" stroke="#231f20" stroke-width="0.6"/>
<line x1="389.35" y1="174.20" x2="389.35" y2="175.60" stroke="#231f20" stroke-width="0.6"/>
<line x1="390.36" y1="174.20" x2="390.36" y2="175.60" stroke="#231f20" stroke-width="0.6"/>
<line x1="391.24" y1="174.20" x2="391.24" y2="175.60" stroke="#231f20" stroke-width="0.6"/>
<line x1="392.01" y1="174.20" x2="392.01" y2="175.60" stroke="#231f20" stroke-width="0.6"/>
<line x1="397.25" y1="174.20" x2="397.25" y2="175.60" stroke="#231f20" stroke-width="0.6"/>
<line x1="399.90" y1="174.20" x2="399.90" y2="175.60" stroke="#231f20" stroke-width="0.6"/>
<line x1="401.79" y1="174.20" x2="401.79" y2="175.60" stroke="#231f20" stroke-width="0.6"/>
<line x1="403.25" y1="174.20" x2="403.25" y2="175.60" stroke="#231f20" stroke-width="0.6"/>
<line x1="404.45" y1="174.20" x2="404.45" y2="175.60" stroke="#231f20" stroke-width="0.6"/>
<line x1="405.46" y1="174.20" x2="405.46" y2="175.60" stroke="#231f20" stroke-width="0.6"/>
<line x1="406.34" y1="174.20" x2="406.34" y2="175.60" stroke="#231f20" stroke-width="0.6"/>
<line x1="407.11" y1="174.20" x2="407.11" y2="175.60" stroke="#231f20" stroke-width="0.6"/>
<text transform="translate(349.40,120.70)" font-size="3.3" text-anchor="start" fill="#4a4a4a">15.48%</text>
<text transform="translate(408.10,120.70)" font-size="3.3" text-anchor="end" fill="#4a4a4a">15.48%</text>
<text transform="translate(349.40,172.70)" font-size="3.3" text-anchor="start" fill="#4a4a4a">16.59%</text>
<text transform="translate(408.10,172.70)" font-size="3.3" text-anchor="end" fill="#4a4a4a">0.42%</text>
<text transform="translate(379.25,197.40)" font-size="9.4" text-anchor="middle" fill="#231f20" stroke="#231f20" stroke-width="0.5" textLength="22.00" lengthAdjust="spacingAndGlyphs">CD235a</text>
<text transform="translate(328.20,146.25) rotate(-90)" font-size="9.4" text-anchor="middle" fill="#231f20" stroke="#231f20" stroke-width="0.5" textLength="14.40" lengthAdjust="spacingAndGlyphs">CD71</text>
<g filter="url(#soft)"><rect x="452.7" y="126.7" width="1" height="1" fill="#e8dcea"/><rect x="448.7" y="149.7" width="1" height="1" fill="#d0d0d0"/><rect x="451.7" y="150.7" width="1" height="1" fill="#d0d0d0"/><rect x="448.7" y="154.7" width="1" height="1" fill="#dcdcdc"/><rect x="450.7" y="141.7" width="1" height="1" fill="#c4b4c8"/><rect x="451.7" y="149.7" width="1" height="1" fill="#dcdcdc"/><rect x="445.7" y="150.7" width="1" height="1" fill="#e8dcea"/><rect x="449.7" y="144.7" width="1" height="1" fill="#e6e6e6"/><rect x="446.7" y="157.7" width="1" height="1" fill="#dcdcdc"/><rect x="453.7" y="146.7" width="1" height="1" fill="#dcdcdc"/><rect x="453.7" y="161.7" width="1" height="1" fill="#e2e2e2"/><rect x="447.7" y="154.7" width="1" height="1" fill="#e6e6e6"/><rect x="449.7" y="159.7" width="1" height="1" fill="#dcdcdc"/><rect x="451.7" y="147.7" width="1" height="1" fill="#e6e6e6"/><rect x="452.7" y="163.7" width="1" height="1" fill="#e2e2e2"/><rect x="452.7" y="134.7" width="1" height="1" fill="#e2e2e2"/><rect x="449.7" y="147.7" width="1" height="1" fill="#d0d0d0"/><rect x="450.7" y="147.7" width="1" height="1" fill="#dcdcdc"/><rect x="448.7" y="143.7" width="1" height="1" fill="#e2e2e2"/><rect x="452.7" y="162.7" width="1" height="1" fill="#e2e2e2"/><rect x="448.7" y="165.7" width="1" height="1" fill="#e2e2e2"/><rect x="448.7" y="151.7" width="1" height="1" fill="#d0d0d0"/><rect x="449.7" y="156.7" width="1" height="1" fill="#c4b4c8"/><rect x="453.7" y="157.7" width="1" height="1" fill="#e6e6e6"/><rect x="452.7" y="136.7" width="1" height="1" fill="#d0d0d0"/><rect x="450.7" y="158.7" width="1" height="1" fill="#dcdcdc"/><rect x="451.7" y="137.7" width="1" height="1" fill="#e8dcea"/><rect x="450.7" y="143.7" width="1" height="1" fill="#d0d0d0"/><rect x="444.7" y="166.7" width="1" height="1" fill="#d0d0d0"/><rect x="449.7" y="150.7" width="1" height="1" fill="#e2e2e2"/><rect x="449.7" y="137.7" width="1" height="1" fill="#e8dcea"/><rect x="451.7" y="157.7" width="1" height="1" fill="#dcdcdc"/><rect x="450.7" y="160.7" width="1" height="1" fill="#c4b4c8"/><rect x="449.7" y="152.7" width="1" height="1" fill="#e2e2e2"/><rect x="449.7" y="151.7" width="1" height="1" fill="#c4b4c8"/><rect x="451.7" y="156.7" width="1" height="1" fill="#c4b4c8"/><rect x="448.7" y="153.7" width="1" height="1" fill="#e6e6e6"/><rect x="450.7" y="164.7" width="1" height="1" fill="#dcdcdc"/><rect x="451.7" y="145.7" width="1" height="1" fill="#e2e2e2"/><rect x="450.7" y="133.7" width="1" height="1" fill="#c4b4c8"/><rect x="451.7" y="142.7" width="1" height="1" fill="#dcdcdc"/><rect x="450.7" y="145.7" width="1" height="1" fill="#e2e2e2"/><rect x="447.7" y="138.7" width="1" height="1" fill="#e6e6e6"/><rect x="450.7" y="136.7" width="1" height="1" fill="#d0d0d0"/><rect x="448.7" y="164.7" width="1" height="1" fill="#e6e6e6"/><rect x="458.7" y="128.7" width="1" height="1" fill="#e8dcea"/><rect x="448.7" y="159.7" width="1" height="1" fill="#e2e2e2"/><rect x="449.7" y="148.7" width="1" height="1" fill="#d0d0d0"/><rect x="453.7" y="140.7" width="1" height="1" fill="#dcdcdc"/><rect x="451.7" y="140.7" width="1" height="1" fill="#e6e6e6"/><rect x="445.7" y="158.7" width="1" height="1" fill="#e2e2e2"/><rect x="454.7" y="147.7" width="1" height="1" fill="#e8dcea"/><rect x="450.7" y="163.7" width="1" height="1" fill="#d0d0d0"/><rect x="455.7" y="125.7" width="1" height="1" fill="#c4b4c8"/><rect x="449.7" y="143.7" width="1" height="1" fill="#e2e2e2"/><rect x="451.7" y="133.7" width="1" height="1" fill="#e2e2e2"/><rect x="447.7" y="166.7" width="1" height="1" fill="#e2e2e2"/><rect x="450.7" y="162.7" width="1" height="1" fill="#dcdcdc"/><rect x="455.7" y="126.7" width="1" height="1" fill="#d0d0d0"/><rect x="450.7" y="151.7" width="1" height="1" fill="#d0d0d0"/><rect x="448.7" y="142.7" width="1" height="1" fill="#d0d0d0"/><rect x="452.7" y="148.7" width="1" height="1" fill="#d0d0d0"/><rect x="450.7" y="150.7" width="1" height="1" fill="#d0d0d0"/><rect x="449.7" y="158.7" width="1" height="1" fill="#e2e2e2"/><rect x="450.7" y="139.7" width="1" height="1" fill="#e2e2e2"/><rect x="447.7" y="152.7" width="1" height="1" fill="#e2e2e2"/><rect x="449.7" y="167.7" width="1" height="1" fill="#dcdcdc"/><rect x="447.7" y="151.7" width="1" height="1" fill="#e6e6e6"/><rect x="452.7" y="157.7" width="1" height="1" fill="#e2e2e2"/><rect x="449.7" y="146.7" width="1" height="1" fill="#c4b4c8"/><rect x="445.7" y="162.7" width="1" height="1" fill="#e6e6e6"/><rect x="454.7" y="141.7" width="1" height="1" fill="#dcdcdc"/><rect x="452.7" y="140.7" width="1" height="1" fill="#dcdcdc"/><rect x="448.7" y="163.7" width="1" height="1" fill="#e8dcea"/><rect x="448.7" y="167.7" width="1" height="1" fill="#d0d0d0"/><rect x="451.7" y="132.7" width="1" height="1" fill="#e8dcea"/><rect x="450.7" y="128.7" width="1" height="1" fill="#e6e6e6"/><rect x="449.7" y="162.7" width="1" height="1" fill="#d0d0d0"/><rect x="448.7" y="138.7" width="1" height="1" fill="#e2e2e2"/><rect x="448.7" y="145.7" width="1" height="1" fill="#e8dcea"/><rect x="454.7" y="149.7" width="1" height="1" fill="#e2e2e2"/><rect x="446.7" y="148.7" width="1" height="1" fill="#dcdcdc"/><rect x="453.7" y="127.7" width="1" height="1" fill="#e6e6e6"/><rect x="447.7" y="158.7" width="1" height="1" fill="#e2e2e2"/><rect x="451.7" y="162.7" width="1" height="1" fill="#dcdcdc"/><rect x="448.7" y="155.7" width="1" height="1" fill="#e2e2e2"/><rect x="448.7" y="157.7" width="1" height="1" fill="#dcdcdc"/><rect x="449.7" y="160.7" width="1" height="1" fill="#e6e6e6"/><rect x="449.7" y="154.7" width="1" height="1" fill="#e2e2e2"/><rect x="448.7" y="152.7" width="1" height="1" fill="#dcdcdc"/><rect x="446.7" y="165.7" width="1" height="1" fill="#e6e6e6"/><rect x="449.7" y="140.7" width="1" height="1" fill="#e6e6e6"/><rect x="450.7" y="138.7" width="1" height="1" fill="#dcdcdc"/><rect x="452.7" y="141.7" width="1" height="1" fill="#d0d0d0"/><rect x="445.7" y="160.7" width="1" height="1" fill="#dcdcdc"/><rect x="452.7" y="147.7" width="1" height="1" fill="#d0d0d0"/><rect x="450.7" y="155.7" width="1" height="1" fill="#d0d0d0"/><rect x="447.7" y="129.7" width="1" height="1" fill="#e2e2e2"/><rect x="446.7" y="143.7" width="1" height="1" fill="#e2e2e2"/><rect x="447.7" y="162.7" width="1" height="1" fill="#d0d0d0"/><rect x="450.7" y="156.7" width="1" height="1" fill="#d0d0d0"/><rect x="450.7" y="159.7" width="1" height="1" fill="#d0d0d0"/><rect x="456.7" y="151.7" width="1" height="1" fill="#e8dcea"/><rect x="445.7" y="157.7" width="1" height="1" fill="#e6e6e6"/><rect x="458.7" y="144.7" width="1" height="1" fill="#dcdcdc"/><rect x="449.7" y="157.7" width="1" height="1" fill="#dcdcdc"/><rect x="448.7" y="150.7" width="1" height="1" fill="#d0d0d0"/><rect x="451.7" y="154.7" width="1" height="1" fill="#c4b4c8"/><rect x="454.7" y="130.7" width="1" height="1" fill="#e6e6e6"/><rect x="453.7" y="150.7" width="1" height="1" fill="#e8dcea"/><rect x="449.7" y="145.7" width="1" height="1" fill="#e6e6e6"/><rect x="450.7" y="148.7" width="1" height="1" fill="#d0d0d0"/><rect x="457.7" y="147.7" width="1" height="1" fill="#e2e2e2"/><rect x="453.7" y="153.7" width="1" height="1" fill="#dcdcdc"/><rect x="453.7" y="138.7" width="1" height="1" fill="#dcdcdc"/><rect x="456.7" y="136.7" width="1" height="1" fill="#e8dcea"/><rect x="451.7" y="166.7" width="1" height="1" fill="#e6e6e6"/><rect x="450.7" y="146.7" width="1" height="1" fill="#e8dcea"/><rect x="454.7" y="139.7" width="1" height="1" fill="#d0d0d0"/><rect x="453.7" y="122.7" width="1" height="1" fill="#e6e6e6"/><rect x="444.7" y="162.7" width="1" height="1" fill="#dcdcdc"/><rect x="450.7" y="142.7" width="1" height="1" fill="#e6e6e6"/><rect x="451.7" y="138.7" width="1" height="1" fill="#dcdcdc"/><rect x="448.7" y="147.7" width="1" height="1" fill="#e2e2e2"/><rect x="448.7" y="160.7" width="1" height="1" fill="#e6e6e6"/><rect x="447.7" y="147.7" width="1" height="1" fill="#e6e6e6"/><rect x="445.7" y="161.7" width="1" height="1" fill="#e2e2e2"/><rect x="450.7" y="154.7" width="1" height="1" fill="#d0d0d0"/><rect x="450.7" y="126.7" width="1" height="1" fill="#d0d0d0"/><rect x="451.7" y="159.7" width="1" height="1" fill="#dcdcdc"/><rect x="456.7" y="123.7" width="1" height="1" fill="#d0d0d0"/><rect x="448.7" y="128.7" width="1" height="1" fill="#e8dcea"/><rect x="451.7" y="144.7" width="1" height="1" fill="#e6e6e6"/><rect x="446.7" y="160.7" width="1" height="1" fill="#e2e2e2"/><rect x="450.7" y="152.7" width="1" height="1" fill="#dcdcdc"/><rect x="446.7" y="164.7" width="1" height="1" fill="#e6e6e6"/><rect x="449.7" y="135.7" width="1" height="1" fill="#dcdcdc"/><rect x="452.7" y="137.7" width="1" height="1" fill="#d0d0d0"/><rect x="449.7" y="142.7" width="1" height="1" fill="#d0d0d0"/><rect x="451.7" y="148.7" width="1" height="1" fill="#e8dcea"/><rect x="447.7" y="145.7" width="1" height="1" fill="#e2e2e2"/><rect x="454.7" y="137.7" width="1" height="1" fill="#dcdcdc"/><rect x="453.7" y="125.7" width="1" height="1" fill="#dcdcdc"/><rect x="454.7" y="153.7" width="1" height="1" fill="#e6e6e6"/><rect x="447.7" y="155.7" width="1" height="1" fill="#e2e2e2"/><rect x="449.7" y="132.7" width="1" height="1" fill="#e6e6e6"/><rect x="452.7" y="149.7" width="1" height="1" fill="#e2e2e2"/><rect x="452.7" y="142.7" width="1" height="1" fill="#e8dcea"/><rect x="449.7" y="155.7" width="1" height="1" fill="#e8dcea"/><rect x="450.7" y="144.7" width="1" height="1" fill="#e6e6e6"/><rect x="451.7" y="160.7" width="1" height="1" fill="#e2e2e2"/><rect x="446.7" y="153.7" width="1" height="1" fill="#e2e2e2"/><rect x="452.7" y="130.7" width="1" height="1" fill="#e2e2e2"/><rect x="449.7" y="134.7" width="1" height="1" fill="#e2e2e2"/><rect x="460.7" y="121.7" width="1" height="1" fill="#e2e2e2"/><rect x="461.7" y="125.7" width="1" height="1" fill="#c4b4c8"/><rect x="450.7" y="130.7" width="1" height="1" fill="#e6e6e6"/><rect x="456.7" y="130.7" width="1" height="1" fill="#e8dcea"/><rect x="462.7" y="124.7" width="1" height="1" fill="#c4b4c8"/><rect x="459.7" y="122.7" width="1" height="1" fill="#d0d0d0"/><rect x="458.7" y="123.7" width="1" height="1" fill="#dcdcdc"/><rect x="454.7" y="129.7" width="1" height="1" fill="#e2e2e2"/><rect x="452.7" y="127.7" width="1" height="1" fill="#c4b4c8"/><rect x="467.7" y="124.7" width="1" height="1" fill="#e8dcea"/><rect x="462.7" y="122.7" width="1" height="1" fill="#d0d0d0"/><rect x="455.7" y="130.7" width="1" height="1" fill="#e8dcea"/><rect x="454.7" y="127.7" width="1" height="1" fill="#d0d0d0"/><rect x="464.7" y="127.7" width="1" height="1" fill="#e8dcea"/><rect x="460.7" y="124.7" width="1" height="1" fill="#dcdcdc"/><rect x="459.7" y="124.7" width="1" height="1" fill="#d0d0d0"/><rect x="460.7" y="127.7" width="1" height="1" fill="#c4b4c8"/><rect x="473.7" y="118.7" width="1" height="1" fill="#e2e2e2"/><rect x="461.7" y="131.7" width="1" height="1" fill="#e8dcea"/><rect x="453.7" y="130.7" width="1" height="1" fill="#e6e6e6"/><rect x="461.7" y="127.7" width="1" height="1" fill="#c4b4c8"/><rect x="464.7" y="119.7" width="1" height="1" fill="#e8dcea"/><rect x="465.7" y="122.7" width="1" height="1" fill="#e2e2e2"/><rect x="462.7" y="119.7" width="1" height="1" fill="#dcdcdc"/><rect x="465.7" y="126.7" width="1" height="1" fill="#e8dcea"/><rect x="460.7" y="129.7" width="1" height="1" fill="#e2e2e2"/><rect x="458.7" y="125.7" width="1" height="1" fill="#e6e6e6"/><rect x="464.7" y="125.7" width="1" height="1" fill="#e2e2e2"/><rect x="452.7" y="125.7" width="1" height="1" fill="#e8dcea"/><rect x="466.7" y="121.7" width="1" height="1" fill="#d0d0d0"/><rect x="455.7" y="129.7" width="1" height="1" fill="#e2e2e2"/><rect x="457.7" y="117.7" width="1" height="1" fill="#e6e6e6"/><rect x="454.7" y="122.7" width="1" height="1" fill="#e8dcea"/><rect x="456.7" y="126.7" width="1" height="1" fill="#e2e2e2"/><rect x="462.7" y="125.7" width="1" height="1" fill="#d0d0d0"/><rect x="465.7" y="119.7" width="1" height="1" fill="#e2e2e2"/><rect x="463.7" y="123.7" width="1" height="1" fill="#e6e6e6"/><rect x="461.7" y="119.7" width="1" height="1" fill="#e6e6e6"/><rect x="455.7" y="128.7" width="1" height="1" fill="#d0d0d0"/><rect x="472.7" y="117.7" width="1" height="1" fill="#e8dcea"/><rect x="461.7" y="120.7" width="1" height="1" fill="#dcdcdc"/><rect x="458.7" y="127.7" width="1" height="1" fill="#e6e6e6"/><rect x="454.7" y="124.7" width="1" height="1" fill="#dcdcdc"/><rect x="457.7" y="129.7" width="1" height="1" fill="#e6e6e6"/><rect x="464.7" y="121.7" width="1" height="1" fill="#dcdcdc"/><rect x="461.7" y="122.7" width="1" height="1" fill="#dcdcdc"/><rect x="450.7" y="129.7" width="1" height="1" fill="#dcdcdc"/><rect x="461.7" y="124.7" width="1" height="1" fill="#e2e2e2"/><rect x="467.7" y="120.7" width="1" height="1" fill="#e8dcea"/><rect x="456.7" y="121.7" width="1" height="1" fill="#e2e2e2"/><rect x="466.7" y="122.7" width="1" height="1" fill="#e8dcea"/><rect x="461.7" y="123.7" width="1" height="1" fill="#dcdcdc"/><rect x="469.7" y="120.7" width="1" height="1" fill="#dcdcdc"/><rect x="457.7" y="126.7" width="1" height="1" fill="#e2e2e2"/><rect x="458.7" y="124.7" width="1" height="1" fill="#e6e6e6"/><rect x="464.7" y="123.7" width="1" height="1" fill="#e2e2e2"/><rect x="475.7" y="151.7" width="1" height="1" fill="#e2e2e2"/><rect x="475.7" y="124.7" width="1" height="1" fill="#e6e6e6"/><rect x="491.7" y="137.7" width="1" height="1" fill="#dcdcdc"/></g>
<g filter="url(#soft)"><rect x="452.7" y="125.7" width="1" height="1" fill="#c068d4"/><rect x="455.7" y="130.7" width="1" height="1" fill="#e4e4e4"/><rect x="449.7" y="147.7" width="1" height="1" fill="#e0e0e0"/><rect x="451.7" y="131.7" width="1" height="1" fill="#a050d8"/><rect x="453.7" y="126.7" width="1" height="1" fill="#c068d4"/><rect x="450.7" y="145.7" width="1" height="1" fill="#d08edc"/><rect x="449.7" y="135.7" width="1" height="1" fill="#d08edc"/><rect x="453.7" y="127.7" width="1" height="1" fill="#c068d4"/><rect x="449.7" y="142.7" width="1" height="1" fill="#c068d4"/><rect x="453.7" y="123.7" width="1" height="1" fill="#a050d8"/><rect x="452.7" y="129.7" width="1" height="1" fill="#7060d8"/><rect x="451.7" y="124.7" width="1" height="1" fill="#d08edc"/><rect x="452.7" y="134.7" width="1" height="1" fill="#d08edc"/><rect x="452.7" y="130.7" width="1" height="1" fill="#7060d8"/><rect x="450.7" y="139.7" width="1" height="1" fill="#7060d8"/><rect x="454.7" y="137.7" width="1" height="1" fill="#d08edc"/><rect x="451.7" y="137.7" width="1" height="1" fill="#d08edc"/><rect x="454.7" y="129.7" width="1" height="1" fill="#dadada"/><rect x="448.7" y="140.7" width="1" height="1" fill="#e4e4e4"/><rect x="451.7" y="132.7" width="1" height="1" fill="#c068d4"/><rect x="451.7" y="127.7" width="1" height="1" fill="#c068d4"/><rect x="452.7" y="133.7" width="1" height="1" fill="#a050d8"/><rect x="451.7" y="134.7" width="1" height="1" fill="#d08edc"/><rect x="453.7" y="130.7" width="1" height="1" fill="#d08edc"/><rect x="452.7" y="139.7" width="1" height="1" fill="#c068d4"/><rect x="448.7" y="143.7" width="1" height="1" fill="#c068d4"/><rect x="453.7" y="128.7" width="1" height="1" fill="#c068d4"/><rect x="449.7" y="138.7" width="1" height="1" fill="#c068d4"/><rect x="449.7" y="144.7" width="1" height="1" fill="#e2b6e6"/><rect x="451.7" y="135.7" width="1" height="1" fill="#c068d4"/><rect x="451.7" y="123.7" width="1" height="1" fill="#c068d4"/><rect x="452.7" y="137.7" width="1" height="1" fill="#c068d4"/><rect x="450.7" y="134.7" width="1" height="1" fill="#a050d8"/><rect x="449.7" y="139.7" width="1" height="1" fill="#a050d8"/><rect x="451.7" y="140.7" width="1" height="1" fill="#d08edc"/><rect x="449.7" y="146.7" width="1" height="1" fill="#d08edc"/><rect x="450.7" y="137.7" width="1" height="1" fill="#d08edc"/><rect x="453.7" y="122.7" width="1" height="1" fill="#d08edc"/><rect x="450.7" y="127.7" width="1" height="1" fill="#c068d4"/><rect x="451.7" y="125.7" width="1" height="1" fill="#d08edc"/><rect x="446.7" y="139.7" width="1" height="1" fill="#e2b6e6"/><rect x="450.7" y="138.7" width="1" height="1" fill="#c068d4"/><rect x="450.7" y="136.7" width="1" height="1" fill="#7060d8"/><rect x="451.7" y="130.7" width="1" height="1" fill="#c068d4"/><rect x="456.7" y="125.7" width="1" height="1" fill="#d08edc"/><rect x="449.7" y="137.7" width="1" height="1" fill="#c068d4"/><rect x="450.7" y="140.7" width="1" height="1" fill="#a050d8"/><rect x="453.7" y="137.7" width="1" height="1" fill="#e4e4e4"/><rect x="450.7" y="132.7" width="1" height="1" fill="#c068d4"/><rect x="449.7" y="136.7" width="1" height="1" fill="#c068d4"/><rect x="454.7" y="126.7" width="1" height="1" fill="#d08edc"/><rect x="452.7" y="131.7" width="1" height="1" fill="#7060d8"/><rect x="455.7" y="124.7" width="1" height="1" fill="#d08edc"/><rect x="451.7" y="128.7" width="1" height="1" fill="#d08edc"/><rect x="452.7" y="122.7" width="1" height="1" fill="#d08edc"/><rect x="452.7" y="135.7" width="1" height="1" fill="#d08edc"/><rect x="451.7" y="136.7" width="1" height="1" fill="#a050d8"/><rect x="450.7" y="143.7" width="1" height="1" fill="#d08edc"/><rect x="453.7" y="141.7" width="1" height="1" fill="#e6c2ea"/><rect x="450.7" y="142.7" width="1" height="1" fill="#d08edc"/><rect x="452.7" y="132.7" width="1" height="1" fill="#7060d8"/><rect x="452.7" y="136.7" width="1" height="1" fill="#c068d4"/><rect x="449.7" y="141.7" width="1" height="1" fill="#c068d4"/><rect x="453.7" y="124.7" width="1" height="1" fill="#a050d8"/><rect x="454.7" y="134.7" width="1" height="1" fill="#d08edc"/><rect x="448.7" y="137.7" width="1" height="1" fill="#d08edc"/><rect x="453.7" y="132.7" width="1" height="1" fill="#a050d8"/><rect x="452.7" y="124.7" width="1" height="1" fill="#c068d4"/><rect x="452.7" y="126.7" width="1" height="1" fill="#c068d4"/><rect x="453.7" y="125.7" width="1" height="1" fill="#c068d4"/><rect x="449.7" y="131.7" width="1" height="1" fill="#d08edc"/><rect x="452.7" y="140.7" width="1" height="1" fill="#e6c2ea"/><rect x="451.7" y="139.7" width="1" height="1" fill="#c068d4"/><rect x="449.7" y="133.7" width="1" height="1" fill="#d08edc"/><rect x="446.7" y="140.7" width="1" height="1" fill="#e6c2ea"/><rect x="454.7" y="132.7" width="1" height="1" fill="#e0e0e0"/><rect x="448.7" y="135.7" width="1" height="1" fill="#e0e0e0"/><rect x="450.7" y="149.7" width="1" height="1" fill="#e6c2ea"/><rect x="450.7" y="144.7" width="1" height="1" fill="#c068d4"/><rect x="451.7" y="133.7" width="1" height="1" fill="#7060d8"/><rect x="453.7" y="131.7" width="1" height="1" fill="#d08edc"/><rect x="448.7" y="127.7" width="1" height="1" fill="#e6c2ea"/><rect x="454.7" y="122.7" width="1" height="1" fill="#d08edc"/><rect x="450.7" y="131.7" width="1" height="1" fill="#d08edc"/><rect x="453.7" y="140.7" width="1" height="1" fill="#e6c2ea"/><rect x="454.7" y="123.7" width="1" height="1" fill="#d08edc"/><rect x="454.7" y="125.7" width="1" height="1" fill="#c068d4"/><rect x="448.7" y="148.7" width="1" height="1" fill="#d08edc"/><rect x="449.7" y="127.7" width="1" height="1" fill="#dadada"/><rect x="453.7" y="133.7" width="1" height="1" fill="#c068d4"/><rect x="447.7" y="143.7" width="1" height="1" fill="#e2b6e6"/><rect x="448.7" y="131.7" width="1" height="1" fill="#d08edc"/><rect x="454.7" y="124.7" width="1" height="1" fill="#d08edc"/><rect x="451.7" y="138.7" width="1" height="1" fill="#c068d4"/><rect x="449.7" y="132.7" width="1" height="1" fill="#c068d4"/><rect x="448.7" y="138.7" width="1" height="1" fill="#d08edc"/><rect x="450.7" y="130.7" width="1" height="1" fill="#c068d4"/><rect x="452.7" y="141.7" width="1" height="1" fill="#d08edc"/><rect x="449.7" y="140.7" width="1" height="1" fill="#d08edc"/><rect x="451.7" y="142.7" width="1" height="1" fill="#e0e0e0"/><rect x="450.7" y="141.7" width="1" height="1" fill="#d08edc"/><rect x="449.7" y="134.7" width="1" height="1" fill="#dadada"/><rect x="452.7" y="138.7" width="1" height="1" fill="#d08edc"/><rect x="450.7" y="133.7" width="1" height="1" fill="#d08edc"/><rect x="451.7" y="141.7" width="1" height="1" fill="#e6c2ea"/><rect x="455.7" y="132.7" width="1" height="1" fill="#e6c2ea"/><rect x="452.7" y="147.7" width="1" height="1" fill="#e6c2ea"/><rect x="447.7" y="149.7" width="1" height="1" fill="#e4e4e4"/><rect x="447.7" y="142.7" width="1" height="1" fill="#e6c2ea"/><rect x="450.7" y="135.7" width="1" height="1" fill="#c068d4"/><rect x="449.7" y="126.7" width="1" height="1" fill="#e0e0e0"/><rect x="448.7" y="136.7" width="1" height="1" fill="#e2b6e6"/><rect x="453.7" y="136.7" width="1" height="1" fill="#e0e0e0"/><rect x="454.7" y="136.7" width="1" height="1" fill="#e4e4e4"/><rect x="450.7" y="146.7" width="1" height="1" fill="#e0e0e0"/><rect x="449.7" y="148.7" width="1" height="1" fill="#e0e0e0"/><rect x="452.7" y="123.7" width="1" height="1" fill="#dadada"/><rect x="449.7" y="130.7" width="1" height="1" fill="#d08edc"/><rect x="451.7" y="144.7" width="1" height="1" fill="#dadada"/><rect x="449.7" y="128.7" width="1" height="1" fill="#d08edc"/><rect x="454.7" y="127.7" width="1" height="1" fill="#d08edc"/><rect x="451.7" y="126.7" width="1" height="1" fill="#d08edc"/><rect x="449.7" y="150.7" width="1" height="1" fill="#dadada"/><rect x="446.7" y="132.7" width="1" height="1" fill="#e6c2ea"/><rect x="455.7" y="133.7" width="1" height="1" fill="#e6c2ea"/><rect x="453.7" y="138.7" width="1" height="1" fill="#e6c2ea"/><rect x="449.7" y="124.7" width="1" height="1" fill="#e0e0e0"/><rect x="453.7" y="142.7" width="1" height="1" fill="#e2b6e6"/><rect x="450.7" y="128.7" width="1" height="1" fill="#e6c2ea"/><rect x="454.7" y="135.7" width="1" height="1" fill="#dadada"/><rect x="450.7" y="126.7" width="1" height="1" fill="#d08edc"/><rect x="452.7" y="142.7" width="1" height="1" fill="#e6c2ea"/><rect x="448.7" y="141.7" width="1" height="1" fill="#e4e4e4"/><rect x="452.7" y="128.7" width="1" height="1" fill="#dadada"/><rect x="446.7" y="134.7" width="1" height="1" fill="#e4e4e4"/><rect x="450.7" y="125.7" width="1" height="1" fill="#e4e4e4"/><rect x="468.7" y="120.7" width="1" height="1" fill="#e4e4e4"/><rect x="457.7" y="122.7" width="1" height="1" fill="#c068d4"/><rect x="461.7" y="121.7" width="1" height="1" fill="#e2b6e6"/><rect x="468.7" y="122.7" width="1" height="1" fill="#dadada"/><rect x="461.7" y="123.7" width="1" height="1" fill="#c068d4"/><rect x="457.7" y="125.7" width="1" height="1" fill="#d08edc"/><rect x="459.7" y="125.7" width="1" height="1" fill="#dadada"/><rect x="463.7" y="122.7" width="1" height="1" fill="#c068d4"/><rect x="461.7" y="119.7" width="1" height="1" fill="#c068d4"/><rect x="462.7" y="124.7" width="1" height="1" fill="#e6c2ea"/><rect x="464.7" y="123.7" width="1" height="1" fill="#c068d4"/><rect x="462.7" y="125.7" width="1" height="1" fill="#c068d4"/><rect x="465.7" y="126.7" width="1" height="1" fill="#c068d4"/><rect x="457.7" y="124.7" width="1" height="1" fill="#e6c2ea"/><rect x="460.7" y="122.7" width="1" height="1" fill="#a050d8"/><rect x="461.7" y="125.7" width="1" height="1" fill="#a050d8"/><rect x="457.7" y="119.7" width="1" height="1" fill="#e2b6e6"/><rect x="460.7" y="124.7" width="1" height="1" fill="#d08edc"/><rect x="464.7" y="126.7" width="1" height="1" fill="#c068d4"/><rect x="456.7" y="124.7" width="1" height="1" fill="#d08edc"/><rect x="461.7" y="126.7" width="1" height="1" fill="#d08edc"/><rect x="465.7" y="123.7" width="1" height="1" fill="#c068d4"/><rect x="459.7" y="120.7" width="1" height="1" fill="#e0e0e0"/><rect x="461.7" y="122.7" width="1" height="1" fill="#e6c2ea"/><rect x="460.7" y="127.7" width="1" height="1" fill="#d08edc"/><rect x="462.7" y="123.7" width="1" height="1" fill="#d08edc"/><rect x="460.7" y="126.7" width="1" height="1" fill="#c068d4"/><rect x="455.7" y="123.7" width="1" height="1" fill="#d08edc"/><rect x="455.7" y="126.7" width="1" height="1" fill="#d08edc"/><rect x="464.7" y="121.7" width="1" height="1" fill="#e0e0e0"/><rect x="463.7" y="125.7" width="1" height="1" fill="#c068d4"/><rect x="465.7" y="127.7" width="1" height="1" fill="#e2b6e6"/><rect x="460.7" y="125.7" width="1" height="1" fill="#c068d4"/><rect x="460.7" y="123.7" width="1" height="1" fill="#d08edc"/><rect x="464.7" y="125.7" width="1" height="1" fill="#e4e4e4"/><rect x="468.7" y="119.7" width="1" height="1" fill="#e6c2ea"/><rect x="459.7" y="124.7" width="1" height="1" fill="#c068d4"/><rect x="458.7" y="123.7" width="1" height="1" fill="#e2b6e6"/><rect x="466.7" y="122.7" width="1" height="1" fill="#e2b6e6"/><rect x="458.7" y="127.7" width="1" height="1" fill="#e2b6e6"/><rect x="469.7" y="123.7" width="1" height="1" fill="#e4e4e4"/><rect x="455.7" y="121.7" width="1" height="1" fill="#e2b6e6"/><rect x="457.7" y="121.7" width="1" height="1" fill="#e6c2ea"/><rect x="459.7" y="126.7" width="1" height="1" fill="#a050d8"/><rect x="463.7" y="123.7" width="1" height="1" fill="#d08edc"/><rect x="456.7" y="122.7" width="1" height="1" fill="#dadada"/><rect x="469.7" y="120.7" width="1" height="1" fill="#e4e4e4"/><rect x="464.7" y="128.7" width="1" height="1" fill="#e6c2ea"/><rect x="459.7" y="123.7" width="1" height="1" fill="#d08edc"/><rect x="461.7" y="120.7" width="1" height="1" fill="#e4e4e4"/><rect x="473.7" y="121.7" width="1" height="1" fill="#e4e4e4"/><rect x="465.7" y="121.7" width="1" height="1" fill="#d08edc"/><rect x="461.7" y="124.7" width="1" height="1" fill="#e2b6e6"/><rect x="456.7" y="127.7" width="1" height="1" fill="#c068d4"/><rect x="462.7" y="121.7" width="1" height="1" fill="#e6c2ea"/><rect x="464.7" y="124.7" width="1" height="1" fill="#e4e4e4"/><rect x="469.7" y="117.7" width="1" height="1" fill="#e4e4e4"/><rect x="465.7" y="120.7" width="1" height="1" fill="#e6c2ea"/><rect x="465.7" y="124.7" width="1" height="1" fill="#c068d4"/><rect x="450.7" y="123.7" width="1" height="1" fill="#e4e4e4"/><rect x="456.7" y="126.7" width="1" height="1" fill="#e6c2ea"/><rect x="458.7" y="124.7" width="1" height="1" fill="#e6c2ea"/><rect x="457.7" y="126.7" width="1" height="1" fill="#d08edc"/><rect x="464.7" y="127.7" width="1" height="1" fill="#e4e4e4"/><rect x="457.7" y="123.7" width="1" height="1" fill="#c068d4"/><rect x="466.7" y="126.7" width="1" height="1" fill="#e4e4e4"/><rect x="469.7" y="127.7" width="1" height="1" fill="#e6c2ea"/><rect x="457.7" y="128.7" width="1" height="1" fill="#d08edc"/><rect x="457.7" y="120.7" width="1" height="1" fill="#e4e4e4"/><rect x="455.7" y="125.7" width="1" height="1" fill="#d08edc"/><rect x="453.7" y="129.7" width="1" height="1" fill="#dadada"/><rect x="462.7" y="127.7" width="1" height="1" fill="#e2b6e6"/><rect x="462.7" y="126.7" width="1" height="1" fill="#dadada"/><rect x="463.7" y="120.7" width="1" height="1" fill="#e6c2ea"/><rect x="457.7" y="127.7" width="1" height="1" fill="#e6c2ea"/><rect x="463.7" y="121.7" width="1" height="1" fill="#d08edc"/><rect x="468.7" y="125.7" width="1" height="1" fill="#dadada"/><rect x="450.7" y="122.7" width="1" height="1" fill="#e6c2ea"/><rect x="461.7" y="127.7" width="1" height="1" fill="#e4e4e4"/><rect x="470.7" y="123.7" width="1" height="1" fill="#e4e4e4"/><rect x="467.7" y="126.7" width="1" height="1" fill="#e0e0e0"/><rect x="465.7" y="122.7" width="1" height="1" fill="#e4e4e4"/><rect x="455.7" y="122.7" width="1" height="1" fill="#e6c2ea"/><rect x="458.7" y="122.7" width="1" height="1" fill="#e2b6e6"/><rect x="471.7" y="121.7" width="1" height="1" fill="#dadada"/><rect x="472.7" y="120.7" width="1" height="1" fill="#dadada"/><rect x="466.7" y="120.7" width="1" height="1" fill="#e0e0e0"/><rect x="468.7" y="124.7" width="1" height="1" fill="#dadada"/><rect x="468.7" y="126.7" width="1" height="1" fill="#e4e4e4"/><rect x="468.7" y="121.7" width="1" height="1" fill="#e6c2ea"/><rect x="466.7" y="124.7" width="1" height="1" fill="#e0e0e0"/></g>
<rect x="443.70" y="116.70" width="60.90" height="57.50" fill="none" stroke="#b4b4b4" stroke-width="0.7"/>
<line x1="458.20" y1="116.70" x2="458.20" y2="174.20" stroke="#808080" stroke-width="0.85"/>
<line x1="443.70" y1="134.30" x2="504.60" y2="134.30" stroke="#808080" stroke-width="0.85"/>
<line x1="443.70" y1="116.10" x2="443.70" y2="174.80" stroke="#231f20" stroke-width="1.4"/>
<line x1="443.10" y1="174.20" x2="505.00" y2="174.20" stroke="#231f20" stroke-width="1.4"/>
<line x1="441.10" y1="116.70" x2="443.70" y2="116.70" stroke="#231f20" stroke-width="1.0"/>
<text x="439.10" y="119.30" font-size="6.9" text-anchor="end" fill="#231f20" stroke="#231f20" stroke-width="0.1">10<tspan font-size="4.69" dy="-2.9">6</tspan></text>
<line x1="441.10" y1="131.03" x2="443.70" y2="131.03" stroke="#231f20" stroke-width="1.0"/>
<text x="439.10" y="133.63" font-size="6.9" text-anchor="end" fill="#231f20" stroke="#231f20" stroke-width="0.1">10<tspan font-size="4.69" dy="-2.9">5</tspan></text>
<line x1="441.10" y1="145.37" x2="443.70" y2="145.37" stroke="#231f20" stroke-width="1.0"/>
<text x="439.10" y="147.97" font-size="6.9" text-anchor="end" fill="#231f20" stroke="#231f20" stroke-width="0.1">10<tspan font-size="4.69" dy="-2.9">4</tspan></text>
<line x1="441.10" y1="159.70" x2="443.70" y2="159.70" stroke="#231f20" stroke-width="1.0"/>
<text x="439.10" y="162.30" font-size="6.9" text-anchor="end" fill="#231f20" stroke="#231f20" stroke-width="0.1">10<tspan font-size="4.69" dy="-2.9">3</tspan></text>
<line x1="442.30" y1="126.72" x2="443.70" y2="126.72" stroke="#231f20" stroke-width="0.6"/>
<line x1="442.30" y1="124.19" x2="443.70" y2="124.19" stroke="#231f20" stroke-width="0.6"/>
<line x1="442.30" y1="122.40" x2="443.70" y2="122.40" stroke="#231f20" stroke-width="0.6"/>
<line x1="442.30" y1="121.01" x2="443.70" y2="121.01" stroke="#231f20" stroke-width="0.6"/>
<line x1="442.30" y1="119.88" x2="443.70" y2="119.88" stroke="#231f20" stroke-width="0.6"/>
<line x1="442.30" y1="118.92" x2="443.70" y2="118.92" stroke="#231f20" stroke-width="0.6"/>
<line x1="442.30" y1="118.09" x2="443.70" y2="118.09" stroke="#231f20" stroke-width="0.6"/>
<line x1="442.30" y1="117.36" x2="443.70" y2="117.36" stroke="#231f20" stroke-width="0.6"/>
<line x1="442.30" y1="141.05" x2="443.70" y2="141.05" stroke="#231f20" stroke-width="0.6"/>
<line x1="442.30" y1="138.53" x2="443.70" y2="138.53" stroke="#231f20" stroke-width="0.6"/>
<line x1="442.30" y1="136.74" x2="443.70" y2="136.74" stroke="#231f20" stroke-width="0.6"/>
<line x1="442.30" y1="135.35" x2="443.70" y2="135.35" stroke="#231f20" stroke-width="0.6"/>
<line x1="442.30" y1="134.21" x2="443.70" y2="134.21" stroke="#231f20" stroke-width="0.6"/>
<line x1="442.30" y1="133.25" x2="443.70" y2="133.25" stroke="#231f20" stroke-width="0.6"/>
<line x1="442.30" y1="132.42" x2="443.70" y2="132.42" stroke="#231f20" stroke-width="0.6"/>
<line x1="442.30" y1="131.69" x2="443.70" y2="131.69" stroke="#231f20" stroke-width="0.6"/>
<line x1="442.30" y1="155.39" x2="443.70" y2="155.39" stroke="#231f20" stroke-width="0.6"/>
<line x1="442.30" y1="152.86" x2="443.70" y2="152.86" stroke="#231f20" stroke-width="0.6"/>
<line x1="442.30" y1="151.07" x2="443.70" y2="151.07" stroke="#231f20" stroke-width="0.6"/>
<line x1="442.30" y1="149.68" x2="443.70" y2="149.68" stroke="#231f20" stroke-width="0.6"/>
<line x1="442.30" y1="148.55" x2="443.70" y2="148.55" stroke="#231f20" stroke-width="0.6"/>
<line x1="442.30" y1="147.59" x2="443.70" y2="147.59" stroke="#231f20" stroke-width="0.6"/>
<line x1="442.30" y1="146.76" x2="443.70" y2="146.76" stroke="#231f20" stroke-width="0.6"/>
<line x1="442.30" y1="146.02" x2="443.70" y2="146.02" stroke="#231f20" stroke-width="0.6"/>
<line x1="442.30" y1="169.72" x2="443.70" y2="169.72" stroke="#231f20" stroke-width="0.6"/>
<line x1="442.30" y1="167.19" x2="443.70" y2="167.19" stroke="#231f20" stroke-width="0.6"/>
<line x1="442.30" y1="165.40" x2="443.70" y2="165.40" stroke="#231f20" stroke-width="0.6"/>
<line x1="442.30" y1="164.01" x2="443.70" y2="164.01" stroke="#231f20" stroke-width="0.6"/>
<line x1="442.30" y1="162.88" x2="443.70" y2="162.88" stroke="#231f20" stroke-width="0.6"/>
<line x1="442.30" y1="161.92" x2="443.70" y2="161.92" stroke="#231f20" stroke-width="0.6"/>
<line x1="442.30" y1="161.09" x2="443.70" y2="161.09" stroke="#231f20" stroke-width="0.6"/>
<line x1="442.30" y1="160.36" x2="443.70" y2="160.36" stroke="#231f20" stroke-width="0.6"/>
<line x1="458.20" y1="174.20" x2="458.20" y2="176.80" stroke="#231f20" stroke-width="1.0"/>
<text x="458.00" y="184.50" font-size="6.9" text-anchor="middle" fill="#231f20" stroke="#231f20" stroke-width="0.1">10<tspan font-size="4.69" dy="-2.9">3</tspan></text>
<line x1="473.30" y1="174.20" x2="473.30" y2="176.80" stroke="#231f20" stroke-width="1.0"/>
<text x="473.10" y="184.50" font-size="6.9" text-anchor="middle" fill="#231f20" stroke="#231f20" stroke-width="0.1">10<tspan font-size="4.69" dy="-2.9">4</tspan></text>
<line x1="488.40" y1="174.20" x2="488.40" y2="176.80" stroke="#231f20" stroke-width="1.0"/>
<text x="488.20" y="184.50" font-size="6.9" text-anchor="middle" fill="#231f20" stroke="#231f20" stroke-width="0.1">10<tspan font-size="4.69" dy="-2.9">5</tspan></text>
<line x1="503.50" y1="174.20" x2="503.50" y2="176.80" stroke="#231f20" stroke-width="1.0"/>
<text x="503.30" y="184.50" font-size="6.9" text-anchor="middle" fill="#231f20" stroke="#231f20" stroke-width="0.1">10<tspan font-size="4.69" dy="-2.9">6</tspan></text>
<line x1="447.65" y1="174.20" x2="447.65" y2="175.60" stroke="#231f20" stroke-width="0.6"/>
<line x1="450.30" y1="174.20" x2="450.30" y2="175.60" stroke="#231f20" stroke-width="0.6"/>
<line x1="452.19" y1="174.20" x2="452.19" y2="175.60" stroke="#231f20" stroke-width="0.6"/>
<line x1="453.65" y1="174.20" x2="453.65" y2="175.60" stroke="#231f20" stroke-width="0.6"/>
<line x1="454.85" y1="174.20" x2="454.85" y2="175.60" stroke="#231f20" stroke-width="0.6"/>
<line x1="455.86" y1="174.20" x2="455.86" y2="175.60" stroke="#231f20" stroke-width="0.6"/>
<line x1="456.74" y1="174.20" x2="456.74" y2="175.60" stroke="#231f20" stroke-width="0.6"/>
<line x1="457.51" y1="174.20" x2="457.51" y2="175.60" stroke="#231f20" stroke-width="0.6"/>
<line x1="462.75" y1="174.20" x2="462.75" y2="175.60" stroke="#231f20" stroke-width="0.6"/>
<line x1="465.40" y1="174.20" x2="465.40" y2="175.60" stroke="#231f20" stroke-width="0.6"/>
<line x1="467.29" y1="174.20" x2="467.29" y2="175.60" stroke="#231f20" stroke-width="0.6"/>
<line x1="468.75" y1="174.20" x2="468.75" y2="175.60" stroke="#231f20" stroke-width="0.6"/>
<line x1="469.95" y1="174.20" x2="469.95" y2="175.60" stroke="#231f20" stroke-width="0.6"/>
<line x1="470.96" y1="174.20" x2="470.96" y2="175.60" stroke="#231f20" stroke-width="0.6"/>
<line x1="471.84" y1="174.20" x2="471.84" y2="175.60" stroke="#231f20" stroke-width="0.6"/>
<line x1="472.61" y1="174.20" x2="472.61" y2="175.60" stroke="#231f20" stroke-width="0.6"/>
<line x1="477.85" y1="174.20" x2="477.85" y2="175.60" stroke="#231f20" stroke-width="0.6"/>
<line x1="480.50" y1="174.20" x2="480.50" y2="175.60" stroke="#231f20" stroke-width="0.6"/>
<line x1="482.39" y1="174.20" x2="482.39" y2="175.60" stroke="#231f20" stroke-width="0.6"/>
<line x1="483.85" y1="174.20" x2="483.85" y2="175.60" stroke="#231f20" stroke-width="0.6"/>
<line x1="485.05" y1="174.20" x2="485.05" y2="175.60" stroke="#231f20" stroke-width="0.6"/>
<line x1="486.06" y1="174.20" x2="486.06" y2="175.60" stroke="#231f20" stroke-width="0.6"/>
<line x1="486.94" y1="174.20" x2="486.94" y2="175.60" stroke="#231f20" stroke-width="0.6"/>
<line x1="487.71" y1="174.20" x2="487.71" y2="175.60" stroke="#231f20" stroke-width="0.6"/>
<line x1="492.95" y1="174.20" x2="492.95" y2="175.60" stroke="#231f20" stroke-width="0.6"/>
<line x1="495.60" y1="174.20" x2="495.60" y2="175.60" stroke="#231f20" stroke-width="0.6"/>
<line x1="497.49" y1="174.20" x2="497.49" y2="175.60" stroke="#231f20" stroke-width="0.6"/>
<line x1="498.95" y1="174.20" x2="498.95" y2="175.60" stroke="#231f20" stroke-width="0.6"/>
<line x1="500.15" y1="174.20" x2="500.15" y2="175.60" stroke="#231f20" stroke-width="0.6"/>
<line x1="501.16" y1="174.20" x2="501.16" y2="175.60" stroke="#231f20" stroke-width="0.6"/>
<line x1="502.04" y1="174.20" x2="502.04" y2="175.60" stroke="#231f20" stroke-width="0.6"/>
<line x1="502.81" y1="174.20" x2="502.81" y2="175.60" stroke="#231f20" stroke-width="0.6"/>
<text transform="translate(444.90,120.70)" font-size="3.3" text-anchor="start" fill="#4a4a4a">15.56%</text>
<text transform="translate(503.40,120.70)" font-size="3.3" text-anchor="end" fill="#4a4a4a">25.72%</text>
<text transform="translate(444.90,172.70)" font-size="3.3" text-anchor="start" fill="#4a4a4a">18.34%</text>
<text transform="translate(503.40,172.70)" font-size="3.3" text-anchor="end" fill="#4a4a4a">1.38%</text>
<text transform="translate(474.65,197.40)" font-size="9.4" text-anchor="middle" fill="#231f20" stroke="#231f20" stroke-width="0.5" textLength="22.00" lengthAdjust="spacingAndGlyphs">CD235a</text>
<text transform="translate(423.70,146.25) rotate(-90)" font-size="9.4" text-anchor="middle" fill="#231f20" stroke="#231f20" stroke-width="0.5" textLength="14.40" lengthAdjust="spacingAndGlyphs">CD71</text>
<text transform="translate(283.15,15.50)" font-size="8.7" text-anchor="middle" fill="#231f20" stroke="#231f20" stroke-width="0.1">Day3</text>
<text transform="translate(378.95,15.50)" font-size="8.7" text-anchor="middle" fill="#231f20" stroke="#231f20" stroke-width="0.1">Day6</text>
<text transform="translate(474.35,15.50)" font-size="8.7" text-anchor="middle" fill="#231f20" stroke="#231f20" stroke-width="0.1">Day9</text>
<text transform="translate(220.00,52.60) rotate(-90)" font-size="9.4" text-anchor="middle" fill="#231f20" stroke="#231f20" stroke-width="0.5" textLength="21.00" lengthAdjust="spacingAndGlyphs">CTRLsh</text>
<text transform="translate(220.00,145.00) rotate(-90)" font-size="9.4" text-anchor="middle" fill="#231f20" stroke="#231f20" stroke-width="0.5" textLength="25.40" lengthAdjust="spacingAndGlyphs">KAT2Ash</text>
<line x1="330.30" y1="234.90" x2="330.30" y2="346.90" stroke="#231f20" stroke-width="1.3"/>
<line x1="329.70" y1="346.30" x2="474.87" y2="346.30" stroke="#231f20" stroke-width="1.3"/>
<line x1="326.70" y1="346.30" x2="330.30" y2="346.30" stroke="#231f20" stroke-width="1.1"/>
<text transform="translate(324.20,348.70)" font-size="7.7" text-anchor="end" fill="#231f20" stroke="#231f20" stroke-width="0.2">0</text>
<line x1="326.70" y1="324.10" x2="330.30" y2="324.10" stroke="#231f20" stroke-width="1.1"/>
<text transform="translate(324.20,326.50)" font-size="7.7" text-anchor="end" fill="#231f20" stroke="#231f20" stroke-width="0.2">10</text>
<line x1="326.70" y1="301.90" x2="330.30" y2="301.90" stroke="#231f20" stroke-width="1.1"/>
<text transform="translate(324.20,304.30)" font-size="7.7" text-anchor="end" fill="#231f20" stroke="#231f20" stroke-width="0.2">20</text>
<line x1="326.70" y1="279.70" x2="330.30" y2="279.70" stroke="#231f20" stroke-width="1.1"/>
<text transform="translate(324.20,282.10)" font-size="7.7" text-anchor="end" fill="#231f20" stroke="#231f20" stroke-width="0.2">30</text>
<line x1="326.70" y1="257.50" x2="330.30" y2="257.50" stroke="#231f20" stroke-width="1.1"/>
<text transform="translate(324.20,259.90)" font-size="7.7" text-anchor="end" fill="#231f20" stroke="#231f20" stroke-width="0.2">40</text>
<line x1="326.70" y1="235.30" x2="330.30" y2="235.30" stroke="#231f20" stroke-width="1.1"/>
<text transform="translate(324.20,237.70)" font-size="7.7" text-anchor="end" fill="#231f20" stroke="#231f20" stroke-width="0.2">50</text>
<line x1="344.70" y1="346.30" x2="344.70" y2="348.80" stroke="#231f20" stroke-width="1.0"/>
<text transform="translate(344.70,358.30)" font-size="7.7" text-anchor="middle" fill="#231f20" stroke="#231f20" stroke-width="0.2">0</text>
<line x1="387.99" y1="346.30" x2="387.99" y2="348.80" stroke="#231f20" stroke-width="1.0"/>
<text transform="translate(387.99,358.30)" font-size="7.7" text-anchor="middle" fill="#231f20" stroke="#231f20" stroke-width="0.2">3</text>
<line x1="431.28" y1="346.30" x2="431.28" y2="348.80" stroke="#231f20" stroke-width="1.0"/>
<text transform="translate(431.28,358.30)" font-size="7.7" text-anchor="middle" fill="#231f20" stroke="#231f20" stroke-width="0.2">6</text>
<line x1="474.57" y1="346.30" x2="474.57" y2="348.80" stroke="#231f20" stroke-width="1.0"/>
<text transform="translate(474.57,358.30)" font-size="7.7" text-anchor="middle" fill="#231f20" stroke="#231f20" stroke-width="0.2">9</text>
<text transform="translate(402.20,369.80)" font-size="9.4" text-anchor="middle" fill="#231f20" stroke="#231f20" stroke-width="0.3" textLength="33.30" lengthAdjust="spacingAndGlyphs">Time (days)</text>
<text transform="translate(299.20,290.40) rotate(-90)" font-size="8.2" text-anchor="middle" fill="#231f20" stroke="#231f20" stroke-width="0.3" textLength="60.50" lengthAdjust="spacingAndGlyphs">Expansion of live cells</text>
<text transform="translate(309.70,289.60) rotate(-90)" font-size="8.2" text-anchor="middle" fill="#231f20" stroke="#231f20" stroke-width="0.3" textLength="63.50" lengthAdjust="spacingAndGlyphs">(fold change to day 0)</text>
<line x1="342.30" y1="236.30" x2="351.50" y2="236.30" stroke="#000" stroke-width="1.4"/>
<circle cx="346.90" cy="236.30" r="2.5" fill="#000"/>
<text transform="translate(354.40,238.80)" font-size="6.9" text-anchor="start" fill="#231f20" stroke="#231f20" stroke-width="0.08">CTRLsh</text>
<line x1="396.20" y1="236.10" x2="405.70" y2="236.10" stroke="#f7941d" stroke-width="1.4"/>
<circle cx="400.90" cy="236.10" r="2.5" fill="#f7941d"/>
<text transform="translate(408.60,238.80)" font-size="6.9" text-anchor="start" fill="#231f20" stroke="#231f20" stroke-width="0.08">KAT2Ash</text>
<line x1="445.71" y1="336.75" x2="445.71" y2="343.41" stroke="#f7941d" stroke-width="1.0"/>
<line x1="443.21" y1="336.75" x2="448.21" y2="336.75" stroke="#f7941d" stroke-width="1.0"/>
<line x1="443.21" y1="343.41" x2="448.21" y2="343.41" stroke="#f7941d" stroke-width="1.0"/>
<line x1="460.14" y1="336.31" x2="460.14" y2="342.53" stroke="#f7941d" stroke-width="1.0"/>
<line x1="457.64" y1="336.31" x2="462.64" y2="336.31" stroke="#f7941d" stroke-width="1.0"/>
<line x1="457.64" y1="342.53" x2="462.64" y2="342.53" stroke="#f7941d" stroke-width="1.0"/>
<line x1="474.57" y1="328.32" x2="474.57" y2="341.19" stroke="#f7941d" stroke-width="1.0"/>
<line x1="472.07" y1="328.32" x2="477.07" y2="328.32" stroke="#f7941d" stroke-width="1.0"/>
<line x1="472.07" y1="341.19" x2="477.07" y2="341.19" stroke="#f7941d" stroke-width="1.0"/>
<polyline points="344.70,345.63 373.56,345.63 387.99,345.63 402.42,345.63 416.85,345.41 431.28,345.19 445.71,340.08 460.14,339.42 474.57,334.76" fill="none" stroke="#f7941d" stroke-width="1.4" stroke-linejoin="round"/>
<circle cx="344.70" cy="345.63" r="2.4" fill="#f7941d"/>
<circle cx="373.56" cy="345.63" r="2.4" fill="#f7941d"/>
<circle cx="387.99" cy="345.63" r="2.4" fill="#f7941d"/>
<circle cx="402.42" cy="345.63" r="2.4" fill="#f7941d"/>
<circle cx="416.85" cy="345.41" r="2.4" fill="#f7941d"/>
<circle cx="431.28" cy="345.19" r="2.4" fill="#f7941d"/>
<circle cx="445.71" cy="340.08" r="2.4" fill="#f7941d"/>
<circle cx="460.14" cy="339.42" r="2.4" fill="#f7941d"/>
<circle cx="474.57" cy="334.76" r="2.4" fill="#f7941d"/>
<line x1="431.28" y1="319.88" x2="431.28" y2="341.19" stroke="#3a3a3a" stroke-width="1.0"/>
<line x1="428.68" y1="319.88" x2="433.88" y2="319.88" stroke="#3a3a3a" stroke-width="1.0"/>
<line x1="428.68" y1="341.19" x2="433.88" y2="341.19" stroke="#3a3a3a" stroke-width="1.0"/>
<line x1="445.71" y1="321.44" x2="445.71" y2="336.53" stroke="#3a3a3a" stroke-width="1.0"/>
<line x1="443.11" y1="321.44" x2="448.31" y2="321.44" stroke="#3a3a3a" stroke-width="1.0"/>
<line x1="443.11" y1="336.53" x2="448.31" y2="336.53" stroke="#3a3a3a" stroke-width="1.0"/>
<line x1="460.14" y1="287.25" x2="460.14" y2="326.32" stroke="#3a3a3a" stroke-width="1.0"/>
<line x1="457.54" y1="287.25" x2="462.74" y2="287.25" stroke="#3a3a3a" stroke-width="1.0"/>
<line x1="457.54" y1="326.32" x2="462.74" y2="326.32" stroke="#3a3a3a" stroke-width="1.0"/>
<line x1="474.57" y1="258.17" x2="474.57" y2="307.01" stroke="#3a3a3a" stroke-width="1.0"/>
<line x1="471.97" y1="258.17" x2="477.17" y2="258.17" stroke="#3a3a3a" stroke-width="1.0"/>
<line x1="471.97" y1="307.01" x2="477.17" y2="307.01" stroke="#3a3a3a" stroke-width="1.0"/>
<polyline points="344.70,345.19 373.56,345.19 387.99,344.75 402.42,344.75 416.85,342.08 431.28,330.54 445.71,328.98 460.14,306.78 474.57,282.59" fill="none" stroke="#000" stroke-width="1.5" stroke-linejoin="round"/>
<circle cx="344.70" cy="345.19" r="2.6" fill="#000"/>
<circle cx="373.56" cy="345.19" r="2.6" fill="#000"/>
<circle cx="387.99" cy="344.75" r="2.6" fill="#000"/>
<circle cx="402.42" cy="344.75" r="2.6" fill="#000"/>
<circle cx="416.85" cy="342.08" r="2.6" fill="#000"/>
<circle cx="431.28" cy="330.54" r="2.6" fill="#000"/>
<circle cx="445.71" cy="328.98" r="2.6" fill="#000"/>
<circle cx="460.14" cy="306.78" r="2.6" fill="#000"/>
<circle cx="474.57" cy="282.59" r="2.6" fill="#000"/>
<line x1="49.60" y1="421.60" x2="49.60" y2="483.50" stroke="#231f20" stroke-width="1.3"/>
<line x1="47.20" y1="483.40" x2="52.00" y2="483.40" stroke="#231f20" stroke-width="1.1"/>
<line x1="49.60" y1="489.40" x2="49.60" y2="530.30" stroke="#231f20" stroke-width="1.3"/>
<line x1="47.20" y1="489.20" x2="52.00" y2="489.20" stroke="#231f20" stroke-width="1.1"/>
<line x1="46.00" y1="470.70" x2="49.60" y2="470.70" stroke="#231f20" stroke-width="1.1"/>
<text transform="translate(44.20,473.10)" font-size="7.7" text-anchor="end" fill="#231f20" stroke="#231f20" stroke-width="0.2">10</text>
<line x1="46.00" y1="454.50" x2="49.60" y2="454.50" stroke="#231f20" stroke-width="1.1"/>
<text transform="translate(44.20,456.90)" font-size="7.7" text-anchor="end" fill="#231f20" stroke="#231f20" stroke-width="0.2">20</text>
<line x1="46.00" y1="438.30" x2="49.60" y2="438.30" stroke="#231f20" stroke-width="1.1"/>
<text transform="translate(44.20,440.70)" font-size="7.7" text-anchor="end" fill="#231f20" stroke="#231f20" stroke-width="0.2">30</text>
<line x1="46.00" y1="422.10" x2="49.60" y2="422.10" stroke="#231f20" stroke-width="1.1"/>
<text transform="translate(44.20,424.50)" font-size="7.7" text-anchor="end" fill="#231f20" stroke="#231f20" stroke-width="0.2">40</text>
<line x1="46.00" y1="529.75" x2="49.60" y2="529.75" stroke="#231f20" stroke-width="1.1"/>
<line x1="46.00" y1="519.65" x2="49.60" y2="519.65" stroke="#231f20" stroke-width="1.1"/>
<line x1="46.00" y1="509.55" x2="49.60" y2="509.55" stroke="#231f20" stroke-width="1.1"/>
<line x1="46.00" y1="499.45" x2="49.60" y2="499.45" stroke="#231f20" stroke-width="1.1"/>
<text transform="translate(44.20,532.15)" font-size="7.7" text-anchor="end" fill="#231f20" stroke="#231f20" stroke-width="0.2">0.0</text>
<text transform="translate(44.20,522.05)" font-size="7.7" text-anchor="end" fill="#231f20" stroke="#231f20" stroke-width="0.2">0.5</text>
<text transform="translate(44.20,511.95)" font-size="7.7" text-anchor="end" fill="#231f20" stroke="#231f20" stroke-width="0.2">1.0</text>
<text transform="translate(44.20,501.85)" font-size="7.7" text-anchor="end" fill="#231f20" stroke="#231f20" stroke-width="0.2">1.5</text>
<text transform="translate(44.20,491.75)" font-size="7.7" text-anchor="end" fill="#231f20" stroke="#231f20" stroke-width="0.2">2.0</text>
<line x1="49.00" y1="529.75" x2="234.20" y2="529.75" stroke="#231f20" stroke-width="1.4"/>
<text transform="translate(16.60,475.00) rotate(-90)" font-size="8.6" text-anchor="middle" fill="#231f20" stroke="#231f20" stroke-width="0.4" textLength="55.00" lengthAdjust="spacingAndGlyphs">Relative mRNA level</text>
<text transform="translate(26.6,475.3) rotate(-90)" font-size="8.6" text-anchor="middle" fill="#231f20" stroke="#231f20" stroke-width="0.3" textLength="55.6" lengthAdjust="spacingAndGlyphs">(<tspan font-style="italic">HPRT1</tspan> normalised)</text>
<circle cx="50.80" cy="405.40" r="1.35" fill="#ff2a00"/>
<text transform="translate(55.00,408.00)" font-size="7.0" text-anchor="start" fill="#231f20" stroke="#231f20" stroke-width="0.1">GATA2 (Uninduced)</text>
<circle cx="50.80" cy="415.80" r="1.4" fill="#fff" stroke="#ff2a00" stroke-width="1.0"/>
<text transform="translate(55.00,418.40)" font-size="7.0" text-anchor="start" fill="#231f20" stroke="#231f20" stroke-width="0.1">GATA2 (E induced)</text>
<circle cx="123.10" cy="405.40" r="1.35" fill="#1a3cc0"/>
<text transform="translate(127.30,408.00)" font-size="7.0" text-anchor="start" fill="#231f20" stroke="#231f20" stroke-width="0.1">EPOR (Uninduced)</text>
<circle cx="123.10" cy="415.80" r="1.4" fill="#fff" stroke="#1a3cc0" stroke-width="1.0"/>
<text transform="translate(127.30,418.40)" font-size="7.0" text-anchor="start" fill="#231f20" stroke="#231f20" stroke-width="0.1">EPOR (E induced)</text>
<circle cx="192.90" cy="405.40" r="1.35" fill="#5e9220"/>
<text transform="translate(197.10,408.00)" font-size="7.0" text-anchor="start" fill="#231f20" stroke="#231f20" stroke-width="0.1">TAL1 (Uninduced)</text>
<circle cx="192.90" cy="415.80" r="1.4" fill="#fff" stroke="#5e9220" stroke-width="1.0"/>
<text transform="translate(197.10,418.40)" font-size="7.0" text-anchor="start" fill="#231f20" stroke="#231f20" stroke-width="0.1">TAL1 (E induced)</text>
<rect x="51.75" y="510.05" width="6.60" height="19.70" fill="#f59a9a" stroke="#ff2a00" stroke-width="1.0"/>
<rect x="51.25" y="509.25" width="7.60" height="1.60" fill="#ff2a00"/>
<rect x="60.25" y="510.56" width="7.60" height="19.19" fill="#ff2a00"/>
<rect x="69.85" y="509.55" width="7.60" height="20.20" fill="#2e3c9e"/>
<rect x="79.10" y="489.35" width="7.60" height="40.40" fill="#1a3cc0"/>
<rect x="88.25" y="509.55" width="7.60" height="20.20" fill="#6b8f2c"/>
<rect x="97.85" y="489.35" width="7.60" height="40.40" fill="#5e9220"/>
<text transform="translate(77.85,538.80)" font-size="7.6" text-anchor="middle" fill="#231f20" font-style="italic" stroke="#231f20" stroke-width="0.08">KAT2Ash</text>
<rect x="115.50" y="510.05" width="6.60" height="19.70" fill="#f59a9a" stroke="#ff2a00" stroke-width="1.0"/>
<rect x="115.00" y="509.25" width="7.60" height="1.60" fill="#ff2a00"/>
<rect x="124.00" y="493.19" width="7.60" height="36.56" fill="#ff2a00"/>
<rect x="133.60" y="509.55" width="7.60" height="20.20" fill="#2e3c9e"/>
<rect x="142.85" y="489.35" width="7.60" height="40.40" fill="#1a3cc0"/>
<rect x="152.00" y="509.55" width="7.60" height="20.20" fill="#6b8f2c"/>
<rect x="161.60" y="489.35" width="7.60" height="40.40" fill="#5e9220"/>
<text transform="translate(141.60,538.80)" font-size="7.6" text-anchor="middle" fill="#231f20" font-style="italic" stroke="#231f20" stroke-width="0.08">SUPT20Hsh</text>
<rect x="179.25" y="510.05" width="6.60" height="19.70" fill="#f59a9a" stroke="#ff2a00" stroke-width="1.0"/>
<rect x="178.75" y="509.25" width="7.60" height="1.60" fill="#ff2a00"/>
<rect x="187.75" y="523.69" width="7.60" height="6.06" fill="#ff2a00"/>
<rect x="197.35" y="509.55" width="7.60" height="20.20" fill="#2e3c9e"/>
<rect x="206.60" y="497.23" width="7.60" height="32.52" fill="#1a3cc0"/>
<rect x="215.75" y="509.55" width="7.60" height="20.20" fill="#6b8f2c"/>
<rect x="225.35" y="489.35" width="7.60" height="40.40" fill="#5e9220"/>
<text transform="translate(205.35,538.80)" font-size="7.6" text-anchor="middle" fill="#231f20" font-style="italic" stroke="#231f20" stroke-width="0.08">ZZZ3sh</text>
<circle cx="61.90" cy="511.30" r="1.65" fill="#fff" stroke="#ff2a00" stroke-width="1.0"/>
<circle cx="66.50" cy="512.00" r="1.65" fill="#fff" stroke="#ff2a00" stroke-width="1.0"/>
<circle cx="61.90" cy="515.00" r="1.65" fill="#fff" stroke="#ff2a00" stroke-width="1.0"/>
<line x1="82.90" y1="475.10" x2="82.90" y2="479.50" stroke="#1a3cc0" stroke-width="0.8"/>
<line x1="81.10" y1="475.10" x2="84.70" y2="475.10" stroke="#1a3cc0" stroke-width="0.9"/>
<circle cx="82.90" cy="470.40" r="1.65" fill="#fff" stroke="#1a3cc0" stroke-width="1.0"/>
<circle cx="81.00" cy="479.80" r="1.65" fill="#fff" stroke="#1a3cc0" stroke-width="1.0"/>
<circle cx="85.00" cy="479.80" r="1.65" fill="#fff" stroke="#1a3cc0" stroke-width="1.0"/>
<circle cx="80.00" cy="482.20" r="1.65" fill="#fff" stroke="#1a3cc0" stroke-width="1.0"/>
<circle cx="85.40" cy="482.50" r="1.65" fill="#fff" stroke="#1a3cc0" stroke-width="1.0"/>
<circle cx="82.90" cy="481.50" r="1.65" fill="#fff" stroke="#1a3cc0" stroke-width="1.0"/>
<rect x="97.85" y="480.50" width="7.60" height="3.00" fill="#5e9220"/>
<circle cx="98.60" cy="479.60" r="1.65" fill="#fff" stroke="#5e9220" stroke-width="1.0"/>
<circle cx="101.50" cy="477.60" r="1.65" fill="#fff" stroke="#5e9220" stroke-width="1.0"/>
<circle cx="104.40" cy="476.80" r="1.65" fill="#fff" stroke="#5e9220" stroke-width="1.0"/>
<circle cx="99.20" cy="482.20" r="1.65" fill="#fff" stroke="#5e9220" stroke-width="1.0"/>
<circle cx="102.20" cy="481.60" r="1.65" fill="#fff" stroke="#5e9220" stroke-width="1.0"/>
<circle cx="104.80" cy="480.30" r="1.65" fill="#fff" stroke="#5e9220" stroke-width="1.0"/>
<circle cx="101.50" cy="512.25" r="1.2" fill="#fff"/>
<line x1="126.30" y1="482.90" x2="130.00" y2="482.90" stroke="#ff2a00" stroke-width="0.8"/>
<circle cx="125.60" cy="489.40" r="1.65" fill="#fff" stroke="#ff2a00" stroke-width="1.0"/>
<circle cx="130.20" cy="491.50" r="1.65" fill="#fff" stroke="#ff2a00" stroke-width="1.0"/>
<circle cx="127.90" cy="497.80" r="1.2" fill="#fff"/>
<rect x="142.85" y="481.90" width="7.60" height="1.60" fill="#1a3cc0"/>
<circle cx="144.40" cy="478.10" r="1.65" fill="#fff" stroke="#1a3cc0" stroke-width="1.0"/>
<circle cx="149.00" cy="481.20" r="1.65" fill="#fff" stroke="#1a3cc0" stroke-width="1.0"/>
<circle cx="146.00" cy="480.00" r="1.65" fill="#fff" stroke="#1a3cc0" stroke-width="1.0"/>
<circle cx="146.60" cy="510.60" r="1.2" fill="#fff"/>
<line x1="165.40" y1="434.70" x2="165.40" y2="464.00" stroke="#a8c27a" stroke-width="1.0"/>
<line x1="163.00" y1="434.70" x2="167.80" y2="434.70" stroke="#a8c27a" stroke-width="0.9"/>
<rect x="161.60" y="464.00" width="7.60" height="19.50" fill="#5e9220"/>
<circle cx="165.40" cy="430.60" r="1.65" fill="#fff" stroke="#5e9220" stroke-width="1.0"/>
<circle cx="165.40" cy="475.60" r="1.2" fill="#fff"/>
<circle cx="165.40" cy="499.80" r="1.2" fill="#fff"/>
<line x1="191.90" y1="518.70" x2="191.90" y2="523.70" stroke="#ff2a00" stroke-width="0.8"/>
<circle cx="191.90" cy="518.70" r="1.65" fill="#fff" stroke="#ff2a00" stroke-width="1.0"/>
<circle cx="189.80" cy="526.30" r="1.2" fill="#fff"/>
<circle cx="193.80" cy="524.80" r="1.2" fill="#fff"/>
<line x1="210.40" y1="490.00" x2="210.40" y2="497.20" stroke="#1a3cc0" stroke-width="0.8"/>
<circle cx="210.40" cy="482.50" r="1.65" fill="#fff" stroke="#1a3cc0" stroke-width="1.0"/>
<circle cx="210.40" cy="495.00" r="1.65" fill="#fff" stroke="#1a3cc0" stroke-width="1.0"/>
<circle cx="210.40" cy="521.30" r="1.2" fill="#fff"/>
<rect x="225.35" y="479.40" width="7.60" height="4.10" fill="#5e9220"/>
<circle cx="227.80" cy="478.30" r="1.65" fill="#fff" stroke="#5e9220" stroke-width="1.0"/>
<circle cx="230.50" cy="478.30" r="1.65" fill="#fff" stroke="#5e9220" stroke-width="1.0"/>
<circle cx="232.50" cy="478.30" r="1.65" fill="#fff" stroke="#5e9220" stroke-width="1.0"/>
<path d="M54.40,446.8 V444.3 Q54.40,443.5 55.20,443.5 H64.20 Q65.00,443.5 65.00,444.3 V446.8" fill="none" stroke="#231f20" stroke-width="1.2"/>
<circle cx="59.70" cy="439.20" r="1.0" fill="#231f20"/>
<path d="M74.00,446.8 V444.3 Q74.00,443.5 74.80,443.5 H84.00 Q84.80,443.5 84.80,444.3 V446.8" fill="none" stroke="#231f20" stroke-width="1.2"/>
<circle cx="79.40" cy="439.20" r="1.0" fill="#231f20"/>
<path d="M92.20,446.8 V444.3 Q92.20,443.5 93.00,443.5 H102.00 Q102.80,443.5 102.80,444.3 V446.8" fill="none" stroke="#231f20" stroke-width="1.2"/>
<circle cx="96.40" cy="439.20" r="1.0" fill="#231f20"/>
<circle cx="98.60" cy="439.20" r="1.0" fill="#231f20"/>
<path d="M116.80,446.8 V444.3 Q116.80,443.5 117.60,443.5 H126.70 Q127.50,443.5 127.50,444.3 V446.8" fill="none" stroke="#231f20" stroke-width="1.2"/>
<circle cx="121.05" cy="439.20" r="1.0" fill="#231f20"/>
<circle cx="123.25" cy="439.20" r="1.0" fill="#231f20"/>
<path d="M181.80,446.8 V444.3 Q181.80,443.5 182.60,443.5 H191.70 Q192.50,443.5 192.50,444.3 V446.8" fill="none" stroke="#231f20" stroke-width="1.2"/>
<circle cx="186.05" cy="439.20" r="1.0" fill="#231f20"/>
<circle cx="188.25" cy="439.20" r="1.0" fill="#231f20"/>
<path d="M218.40,446.8 V444.3 Q218.40,443.5 219.20,443.5 H229.20 Q230.00,443.5 230.00,444.3 V446.8" fill="none" stroke="#231f20" stroke-width="1.2"/>
<circle cx="220.90" cy="439.20" r="1.0" fill="#231f20"/>
<circle cx="223.10" cy="439.20" r="1.0" fill="#231f20"/>
<circle cx="225.30" cy="439.20" r="1.0" fill="#231f20"/>
<circle cx="227.50" cy="439.20" r="1.0" fill="#231f20"/>
<line x1="330.50" y1="424.30" x2="330.50" y2="530.50" stroke="#231f20" stroke-width="1.3"/>
<line x1="326.90" y1="529.90" x2="330.50" y2="529.90" stroke="#231f20" stroke-width="1.1"/>
<text transform="translate(324.50,532.30)" font-size="7.7" text-anchor="end" fill="#231f20" stroke="#231f20" stroke-width="0.2">0</text>
<line x1="326.90" y1="494.90" x2="330.50" y2="494.90" stroke="#231f20" stroke-width="1.1"/>
<text transform="translate(324.50,497.30)" font-size="7.7" text-anchor="end" fill="#231f20" stroke="#231f20" stroke-width="0.2">5</text>
<line x1="326.90" y1="459.90" x2="330.50" y2="459.90" stroke="#231f20" stroke-width="1.1"/>
<text transform="translate(324.50,462.30)" font-size="7.7" text-anchor="end" fill="#231f20" stroke="#231f20" stroke-width="0.2">10</text>
<line x1="326.90" y1="424.90" x2="330.50" y2="424.90" stroke="#231f20" stroke-width="1.1"/>
<text transform="translate(324.50,427.30)" font-size="7.7" text-anchor="end" fill="#231f20" stroke="#231f20" stroke-width="0.2">15</text>
<line x1="329.90" y1="530.00" x2="418.50" y2="530.00" stroke="#231f20" stroke-width="1.4"/>
<line x1="425.40" y1="530.00" x2="512.00" y2="530.00" stroke="#231f20" stroke-width="1.4"/>
<line x1="352.90" y1="530.00" x2="352.90" y2="532.20" stroke="#231f20" stroke-width="1.0"/>
<line x1="396.20" y1="530.00" x2="396.20" y2="532.20" stroke="#231f20" stroke-width="1.0"/>
<line x1="447.30" y1="530.00" x2="447.30" y2="532.20" stroke="#231f20" stroke-width="1.0"/>
<line x1="491.00" y1="530.00" x2="491.00" y2="532.20" stroke="#231f20" stroke-width="1.0"/>
<text transform="translate(299.60,476.60) rotate(-90)" font-size="8.6" text-anchor="middle" fill="#231f20" stroke="#231f20" stroke-width="0.25" textLength="22.00" lengthAdjust="spacingAndGlyphs">H3K9ac</text>
<text transform="translate(309.40,477.50) rotate(-90)" font-size="8.6" text-anchor="middle" fill="#231f20" stroke="#231f20" stroke-width="0.25" textLength="83.00" lengthAdjust="spacingAndGlyphs">(enrichment over Rabbit IgG)</text>
<circle cx="336.10" cy="425.80" r="1.45" fill="#fff" stroke="#000" stroke-width="0.95"/>
<text transform="translate(340.50,428.30)" font-size="7.0" text-anchor="start" fill="#231f20" stroke="#231f20" stroke-width="0.08">CTRLsh</text>
<circle cx="376.80" cy="425.60" r="1.45" fill="#fff" stroke="#2aa3e0" stroke-width="0.95"/>
<text transform="translate(381.20,428.30)" font-size="7.0" text-anchor="start" fill="#231f20" stroke="#231f20" stroke-width="0.08">SUPT20Hsh</text>
<circle cx="431.90" cy="425.60" r="1.45" fill="#fff" stroke="#19785a" stroke-width="0.95"/>
<text transform="translate(436.30,428.30)" font-size="7.0" text-anchor="start" fill="#231f20" stroke="#231f20" stroke-width="0.08">ZZZ3sh</text>
<rect x="337.50" y="522.90" width="12.80" height="7.10" fill="#000"/>
<rect x="355.50" y="522.90" width="12.80" height="7.10" fill="#2aa3e0"/>
<rect x="380.50" y="513.38" width="12.80" height="16.62" fill="#000"/>
<rect x="398.50" y="501.90" width="12.80" height="28.10" fill="#2aa3e0"/>
<rect x="431.80" y="522.90" width="12.80" height="7.10" fill="#000"/>
<rect x="449.75" y="522.90" width="12.80" height="7.10" fill="#19785a"/>
<rect x="475.70" y="512.75" width="12.80" height="17.25" fill="#000"/>
<rect x="494.00" y="520.10" width="12.80" height="9.90" fill="#19785a"/>
<circle cx="339.90" cy="522.90" r="1.6" fill="#fff" stroke="#000" stroke-width="0.9"/>
<circle cx="343.90" cy="522.90" r="1.6" fill="#fff" stroke="#000" stroke-width="0.9"/>
<circle cx="347.90" cy="522.90" r="1.6" fill="#fff" stroke="#000" stroke-width="0.9"/>
<circle cx="357.90" cy="522.90" r="1.6" fill="#fff" stroke="#2aa3e0" stroke-width="0.9"/>
<circle cx="361.90" cy="522.90" r="1.6" fill="#fff" stroke="#2aa3e0" stroke-width="0.9"/>
<circle cx="365.90" cy="522.90" r="1.6" fill="#fff" stroke="#2aa3e0" stroke-width="0.9"/>
<circle cx="434.20" cy="522.90" r="1.6" fill="#fff" stroke="#000" stroke-width="0.9"/>
<circle cx="438.20" cy="522.90" r="1.6" fill="#fff" stroke="#000" stroke-width="0.9"/>
<circle cx="442.20" cy="522.90" r="1.6" fill="#fff" stroke="#000" stroke-width="0.9"/>
<circle cx="452.15" cy="522.90" r="1.6" fill="#fff" stroke="#19785a" stroke-width="0.9"/>
<circle cx="456.15" cy="522.90" r="1.6" fill="#fff" stroke="#19785a" stroke-width="0.9"/>
<circle cx="460.15" cy="522.90" r="1.6" fill="#fff" stroke="#19785a" stroke-width="0.9"/>
<line x1="386.90" y1="500.30" x2="386.90" y2="512.60" stroke="#000" stroke-width="0.8"/>
<line x1="383.90" y1="500.30" x2="389.90" y2="500.30" stroke="#000" stroke-width="0.9"/>
<circle cx="386.90" cy="502.30" r="1.6" fill="#fff" stroke="#000" stroke-width="0.9"/>
<circle cx="386.90" cy="508.50" r="1.6" fill="#fff" stroke="#000" stroke-width="0.9"/>
<circle cx="386.90" cy="525.80" r="1.1" fill="#fff"/>
<line x1="404.90" y1="484.90" x2="404.90" y2="501.50" stroke="#2aa3e0" stroke-width="0.8"/>
<line x1="401.90" y1="484.90" x2="407.90" y2="484.90" stroke="#2aa3e0" stroke-width="0.9"/>
<circle cx="404.90" cy="483.10" r="1.6" fill="#fff" stroke="#2aa3e0" stroke-width="0.9"/>
<circle cx="404.90" cy="503.80" r="1.1" fill="#fff"/>
<circle cx="404.90" cy="516.20" r="1.1" fill="#fff"/>
<circle cx="478.80" cy="509.00" r="1.6" fill="#fff" stroke="#000" stroke-width="0.9"/>
<circle cx="482.50" cy="509.50" r="1.6" fill="#fff" stroke="#000" stroke-width="0.9"/>
<circle cx="485.80" cy="510.30" r="1.6" fill="#fff" stroke="#000" stroke-width="0.9"/>
<circle cx="481.90" cy="515.50" r="1.1" fill="#fff"/>
<circle cx="496.80" cy="518.00" r="1.6" fill="#fff" stroke="#19785a" stroke-width="0.9"/>
<circle cx="500.60" cy="518.30" r="1.6" fill="#fff" stroke="#19785a" stroke-width="0.9"/>
<circle cx="504.20" cy="518.30" r="1.6" fill="#fff" stroke="#19785a" stroke-width="0.9"/>
<circle cx="497.50" cy="522.00" r="1.1" fill="#fff"/>
<path d="M484.4,485.6 V482.8 Q484.4,482.1 485.1,482.1 H500.6 Q501.3,482.1 501.3,482.8 V485.6" fill="none" stroke="#231f20" stroke-width="1.2"/>
<circle cx="493.00" cy="477.50" r="1.0" fill="#231f20"/>
<text transform="translate(352.90,541.50)" font-size="7.6" text-anchor="middle" fill="#231f20" font-style="italic" stroke="#231f20" stroke-width="0.08">Intergenic</text>
<text transform="translate(352.90,551.30)" font-size="7.6" text-anchor="middle" fill="#231f20" font-style="italic" stroke="#231f20" stroke-width="0.08">region</text>
<text transform="translate(447.30,541.50)" font-size="7.6" text-anchor="middle" fill="#231f20" font-style="italic" stroke="#231f20" stroke-width="0.08">Intergenic</text>
<text transform="translate(447.30,551.30)" font-size="7.6" text-anchor="middle" fill="#231f20" font-style="italic" stroke="#231f20" stroke-width="0.08">region</text>
<text transform="translate(396.20,541.60)" font-size="7.6" text-anchor="middle" fill="#231f20" font-style="italic" stroke="#231f20" stroke-width="0.08">EPOR</text>
<text transform="translate(491.00,541.60)" font-size="7.6" text-anchor="middle" fill="#231f20" font-style="italic" stroke="#231f20" stroke-width="0.08">EPOR</text>
</svg></body></html>
